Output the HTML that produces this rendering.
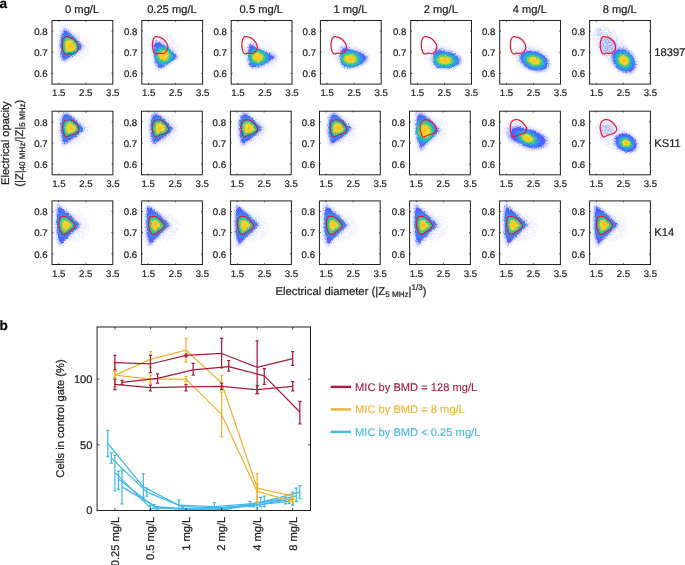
<!DOCTYPE html>
<html lang="en"><head><meta charset="utf-8"><title>Figure</title>
<style>html,body{margin:0;padding:0;background:#fff}svg{display:block}</style></head>
<body>
<svg width="685" height="565" viewBox="0 0 685 565" font-family='"Liberation Sans", sans-serif' stroke-linecap="butt">
<style>text{stroke:#231f20;stroke-width:0.24px;paint-order:stroke;text-rendering:geometricPrecision}</style>
<defs><filter id="bl" x="-30%" y="-30%" width="160%" height="160%"><feGaussianBlur stdDeviation="0.75"/></filter>
<filter id="bl2" x="-30%" y="-30%" width="160%" height="160%"><feGaussianBlur stdDeviation="1.4"/></filter>
<filter id="ro" x="-20%" y="-20%" width="140%" height="140%"><feTurbulence type="fractalNoise" baseFrequency="0.55" numOctaves="2" seed="3" result="n"/><feDisplacementMap in="SourceGraphic" in2="n" scale="3.2" xChannelSelector="R" yChannelSelector="G"/><feGaussianBlur stdDeviation="0.55"/></filter>
<filter id="sp" x="-30%" y="-30%" width="160%" height="160%"><feTurbulence type="fractalNoise" baseFrequency="0.6" numOctaves="3" seed="7" result="n"/><feColorMatrix in="n" type="matrix" values="0 0 0 0 0  0 0 0 0 0  0 0 0 0 0  3.6 0 0 0 -1.35" result="m"/><feGaussianBlur in="SourceGraphic" stdDeviation="1.5" result="b"/><feComposite in="b" in2="m" operator="in"/><feGaussianBlur stdDeviation="0.5"/></filter>
<filter id="ro2" x="-20%" y="-20%" width="140%" height="140%"><feTurbulence type="fractalNoise" baseFrequency="0.7" numOctaves="2" seed="11" result="n"/><feDisplacementMap in="SourceGraphic" in2="n" scale="5" xChannelSelector="R" yChannelSelector="G"/><feGaussianBlur stdDeviation="0.6"/></filter></defs>
<rect width="685" height="565" fill="#fff"/>
<text x="-0.5" y="8.3" font-size="13.6" font-weight="bold" fill="#000">a</text>
<text x="-0.5" y="329.7" font-size="13.6" font-weight="bold" fill="#000">b</text>
<g>
<clipPath id="cp00"><rect x="52.0" y="20.5" width="60.8" height="63.6"/></clipPath>
<g clip-path="url(#cp00)">
<path d="M90.00 46.50C90.00 48.83 89.19 51.48 87.86 53.50C86.52 55.52 84.31 57.46 82.00 58.62C79.69 59.79 76.67 60.50 74.00 60.50C71.33 60.50 68.31 59.79 66.00 58.62C63.69 57.46 61.48 55.52 60.14 53.50C58.81 51.48 58.00 48.83 58.00 46.50C58.00 44.17 58.81 41.52 60.14 39.50C61.48 37.48 63.69 35.54 66.00 34.38C68.31 33.21 71.33 32.50 74.00 32.50C76.67 32.50 79.69 33.21 82.00 34.38C84.31 35.54 86.52 37.48 87.86 39.50C89.19 41.52 90.00 44.17 90.00 46.50Z" fill="#b8bcff" fill-opacity="0.28" filter="url(#sp)"/>
<path d="M64.72 26.58C66.12 26.88 68.02 28.82 69.88 30.42C71.74 32.02 73.98 34.22 75.88 36.18C77.78 38.14 79.90 40.44 81.28 42.18C82.66 43.92 84.26 45.08 84.16 46.62C84.06 48.16 82.26 49.82 80.68 51.42C79.10 53.02 76.88 54.62 74.68 56.22C72.48 57.82 69.48 59.86 67.48 61.02C65.48 62.18 63.98 63.58 62.68 63.18C61.38 62.78 60.36 60.58 59.68 58.62C59.00 56.66 58.82 54.22 58.60 51.42C58.38 48.62 58.24 44.82 58.36 41.82C58.48 38.82 58.80 35.62 59.32 33.42C59.84 31.22 60.58 29.76 61.48 28.62C62.38 27.48 63.32 26.28 64.72 26.58Z" fill="#a9adff" fill-opacity="0.40" filter="url(#bl2)"/><path d="M65.36 28.67C66.61 28.94 68.30 30.67 69.96 32.10C71.62 33.52 73.61 35.49 75.31 37.23C77.00 38.98 78.89 41.03 80.12 42.58C81.35 44.13 82.78 45.17 82.69 46.54C82.60 47.92 81.00 49.40 79.59 50.82C78.18 52.25 76.20 53.68 74.24 55.10C72.28 56.53 69.60 58.35 67.82 59.38C66.03 60.42 64.70 61.66 63.54 61.31C62.38 60.95 61.47 58.99 60.86 57.24C60.26 55.49 60.10 53.32 59.90 50.82C59.70 48.33 59.58 44.94 59.69 42.26C59.79 39.59 60.08 36.73 60.54 34.77C61.01 32.81 61.67 31.51 62.47 30.49C63.27 29.48 64.11 28.41 65.36 28.67Z" fill="#8c94ff" fill-opacity="0.60" filter="url(#ro2)"/><g filter="url(#ro)" opacity="1.00"><clipPath id="k0"><path d="M65.94 30.61C67.05 30.84 68.56 32.38 70.03 33.65C71.50 34.91 73.28 36.65 74.78 38.20C76.28 39.76 77.96 41.58 79.05 42.95C80.15 44.33 81.41 45.25 81.33 46.47C81.26 47.69 79.83 49.00 78.58 50.27C77.33 51.54 75.57 52.80 73.83 54.07C72.09 55.34 69.71 56.95 68.13 57.87C66.55 58.79 65.36 59.90 64.33 59.58C63.30 59.26 62.49 57.52 61.95 55.97C61.42 54.42 61.27 52.49 61.10 50.27C60.93 48.05 60.81 45.05 60.91 42.67C61.00 40.30 61.26 37.76 61.67 36.02C62.08 34.28 62.67 33.12 63.38 32.22C64.09 31.32 64.84 30.37 65.94 30.61Z"/></clipPath><path d="M65.94 30.61C67.05 30.84 68.56 32.38 70.03 33.65C71.50 34.91 73.28 36.65 74.78 38.20C76.28 39.76 77.96 41.58 79.05 42.95C80.15 44.33 81.41 45.25 81.33 46.47C81.26 47.69 79.83 49.00 78.58 50.27C77.33 51.54 75.57 52.80 73.83 54.07C72.09 55.34 69.71 56.95 68.13 57.87C66.55 58.79 65.36 59.90 64.33 59.58C63.30 59.26 62.49 57.52 61.95 55.97C61.42 54.42 61.27 52.49 61.10 50.27C60.93 48.05 60.81 45.05 60.91 42.67C61.00 40.30 61.26 37.76 61.67 36.02C62.08 34.28 62.67 33.12 63.38 32.22C64.09 31.32 64.84 30.37 65.94 30.61Z" fill="#5062ff"/><g clip-path="url(#k0)"><path d="M64.17 33.25C65.51 33.05 67.54 33.43 69.36 34.05C71.17 34.68 73.33 35.61 75.06 37.00C76.79 38.38 78.67 40.67 79.73 42.35C80.79 44.02 81.33 45.36 81.41 47.03C81.50 48.70 81.00 50.88 80.25 52.38C79.49 53.87 78.30 55.30 76.87 55.99C75.45 56.68 73.14 56.46 71.69 56.52C70.24 56.59 69.33 56.23 68.19 56.39C67.04 56.55 65.88 57.53 64.82 57.46C63.76 57.39 62.66 57.13 61.84 55.99C61.02 54.85 60.32 52.31 59.89 50.64C59.46 48.97 59.24 47.92 59.24 45.96C59.24 44.00 59.55 40.65 59.89 38.87C60.24 37.09 60.61 36.19 61.32 35.26C62.03 34.32 62.83 33.45 64.17 33.25Z" fill="#4672fb"/><path d="M64.93 34.74C66.11 34.56 67.90 34.90 69.50 35.45C71.10 36.00 73.01 36.82 74.54 38.04C76.06 39.26 77.72 41.29 78.65 42.76C79.59 44.24 80.06 45.42 80.14 46.90C80.22 48.37 79.78 50.30 79.11 51.62C78.44 52.93 77.39 54.19 76.14 54.80C74.88 55.41 72.84 55.21 71.56 55.27C70.28 55.33 69.48 55.02 68.47 55.16C67.46 55.29 66.43 56.16 65.50 56.10C64.56 56.04 63.59 55.80 62.87 54.80C62.14 53.80 61.53 51.56 61.15 50.08C60.77 48.61 60.58 47.68 60.58 45.95C60.58 44.22 60.85 41.27 61.15 39.70C61.46 38.12 61.78 37.34 62.41 36.51C63.04 35.68 63.74 34.92 64.93 34.74Z" fill="#3a88f4"/><path d="M65.54 35.95C66.60 35.79 68.19 36.09 69.62 36.58C71.05 37.07 72.75 37.81 74.11 38.90C75.47 39.98 76.95 41.79 77.78 43.10C78.61 44.42 79.04 45.47 79.11 46.79C79.17 48.10 78.78 49.82 78.19 51.00C77.59 52.17 76.66 53.29 75.54 53.84C74.41 54.38 72.60 54.21 71.46 54.26C70.32 54.31 69.60 54.03 68.70 54.15C67.80 54.28 66.88 55.05 66.05 54.99C65.22 54.94 64.35 54.73 63.71 53.84C63.06 52.94 62.52 50.94 62.18 49.63C61.84 48.31 61.67 47.49 61.67 45.95C61.67 44.40 61.90 41.77 62.18 40.37C62.45 38.97 62.74 38.26 63.30 37.53C63.86 36.79 64.49 36.11 65.54 35.95Z" fill="#2d9ce8"/></g><path d="M66.06 36.97C67.01 36.83 68.44 37.10 69.72 37.54C71.00 37.98 72.53 38.64 73.75 39.62C74.97 40.59 76.30 42.21 77.04 43.39C77.79 44.57 78.17 45.52 78.23 46.70C78.29 47.88 77.94 49.42 77.41 50.47C76.87 51.53 76.04 52.53 75.03 53.02C74.02 53.51 72.39 53.35 71.37 53.40C70.35 53.45 69.71 53.19 68.90 53.30C68.09 53.41 67.27 54.11 66.52 54.06C65.77 54.01 64.99 53.82 64.41 53.02C63.83 52.22 63.35 50.43 63.04 49.25C62.74 48.07 62.58 47.33 62.58 45.94C62.58 44.56 62.80 42.20 63.04 40.94C63.29 39.68 63.54 39.05 64.05 38.39C64.55 37.73 65.12 37.11 66.06 36.97Z" fill="#24acd4"/><path d="M66.44 37.72C67.31 37.59 68.62 37.83 69.79 38.24C70.97 38.64 72.37 39.24 73.49 40.14C74.60 41.03 75.82 42.52 76.51 43.60C77.19 44.68 77.54 45.55 77.60 46.63C77.65 47.71 77.33 49.13 76.84 50.09C76.35 51.06 75.58 51.98 74.66 52.43C73.74 52.88 72.24 52.73 71.30 52.77C70.37 52.82 69.78 52.59 69.04 52.69C68.30 52.79 67.54 53.42 66.86 53.38C66.17 53.34 65.46 53.16 64.93 52.43C64.40 51.69 63.95 50.05 63.67 48.97C63.39 47.88 63.25 47.21 63.25 45.94C63.25 44.67 63.45 42.50 63.67 41.35C63.90 40.20 64.13 39.62 64.59 39.01C65.06 38.41 65.57 37.85 66.44 37.72Z" fill="#25bcb0"/><path d="M66.82 38.46C67.61 38.34 68.80 38.56 69.87 38.93C70.94 39.30 72.21 39.85 73.22 40.66C74.24 41.48 75.35 42.83 75.97 43.81C76.59 44.79 76.91 45.58 76.96 46.56C77.01 47.55 76.72 48.83 76.27 49.71C75.83 50.59 75.13 51.43 74.29 51.83C73.45 52.24 72.09 52.11 71.24 52.15C70.39 52.19 69.86 51.98 69.18 52.07C68.51 52.16 67.82 52.74 67.20 52.70C66.58 52.66 65.93 52.50 65.45 51.83C64.96 51.17 64.56 49.67 64.30 48.69C64.05 47.70 63.92 47.09 63.92 45.93C63.92 44.78 64.10 42.81 64.30 41.76C64.50 40.72 64.72 40.19 65.14 39.64C65.56 39.09 66.03 38.58 66.82 38.46Z" fill="#52c688"/><path d="M67.24 39.30C67.94 39.19 69.00 39.39 69.95 39.72C70.90 40.04 72.03 40.53 72.93 41.25C73.83 41.97 74.81 43.17 75.36 44.04C75.92 44.92 76.20 45.62 76.24 46.49C76.29 47.36 76.03 48.50 75.64 49.28C75.24 50.06 74.62 50.81 73.88 51.17C73.13 51.53 71.92 51.41 71.17 51.45C70.41 51.48 69.94 51.29 69.34 51.38C68.74 51.46 68.13 51.97 67.58 51.94C67.03 51.90 66.45 51.76 66.03 51.17C65.60 50.57 65.24 49.25 65.01 48.37C64.78 47.50 64.67 46.95 64.67 45.93C64.67 44.91 64.83 43.16 65.01 42.23C65.19 41.30 65.38 40.83 65.75 40.34C66.13 39.86 66.54 39.40 67.24 39.30Z" fill="#a5cf48"/><path d="M67.67 40.13C68.28 40.04 69.21 40.22 70.03 40.50C70.86 40.78 71.85 41.21 72.63 41.84C73.42 42.47 74.28 43.52 74.76 44.28C75.24 45.04 75.49 45.65 75.53 46.41C75.57 47.18 75.34 48.17 75.00 48.85C74.65 49.53 74.11 50.18 73.46 50.50C72.81 50.81 71.76 50.71 71.10 50.74C70.44 50.77 70.02 50.61 69.50 50.68C68.98 50.75 68.45 51.20 67.96 51.17C67.48 51.14 66.98 51.02 66.60 50.50C66.23 49.98 65.92 48.82 65.72 48.06C65.52 47.30 65.42 46.82 65.42 45.93C65.42 45.03 65.56 43.51 65.72 42.69C65.88 41.88 66.04 41.48 66.37 41.05C66.69 40.62 67.06 40.23 67.67 40.13Z" fill="#ecd42a"/><path d="M68.33 41.44C68.80 41.37 69.52 41.50 70.16 41.72C70.80 41.94 71.56 42.27 72.17 42.76C72.78 43.25 73.45 44.06 73.82 44.65C74.19 45.24 74.39 45.71 74.42 46.30C74.45 46.89 74.27 47.66 74.00 48.19C73.74 48.71 73.32 49.22 72.81 49.46C72.31 49.70 71.50 49.63 70.98 49.65C70.47 49.67 70.15 49.55 69.75 49.60C69.34 49.66 68.93 50.00 68.56 49.98C68.19 49.96 67.80 49.86 67.51 49.46C67.22 49.06 66.97 48.16 66.82 47.57C66.67 46.98 66.59 46.61 66.59 45.92C66.59 45.23 66.70 44.05 66.82 43.42C66.94 42.79 67.07 42.47 67.32 42.14C67.58 41.81 67.86 41.51 68.33 41.44Z" fill="#fdd227"/><path d="M69.42 43.58C69.66 43.54 70.04 43.61 70.37 43.72C70.70 43.84 71.10 44.01 71.42 44.26C71.74 44.52 72.08 44.94 72.28 45.25C72.47 45.55 72.57 45.80 72.59 46.11C72.60 46.41 72.51 46.82 72.37 47.09C72.23 47.37 72.02 47.63 71.75 47.75C71.49 47.88 71.07 47.84 70.80 47.85C70.53 47.87 70.37 47.80 70.16 47.83C69.95 47.86 69.73 48.04 69.54 48.02C69.34 48.01 69.14 47.96 68.99 47.75C68.84 47.55 68.71 47.08 68.63 46.77C68.55 46.46 68.51 46.27 68.51 45.91C68.51 45.55 68.57 44.94 68.63 44.61C68.70 44.28 68.76 44.12 68.89 43.94C69.02 43.77 69.17 43.61 69.42 43.58Z" fill="#ffbc2d"/></g>
</g>
<path d="M65.87 36.60C66.86 36.45 68.35 36.73 69.69 37.19C71.02 37.65 72.61 38.34 73.88 39.35C75.15 40.37 76.53 42.06 77.31 43.29C78.09 44.52 78.49 45.50 78.55 46.73C78.61 47.96 78.25 49.56 77.69 50.66C77.14 51.76 76.26 52.81 75.21 53.32C74.17 53.83 72.47 53.66 71.40 53.71C70.34 53.76 69.67 53.50 68.83 53.61C67.99 53.73 67.13 54.45 66.35 54.40C65.57 54.35 64.76 54.15 64.16 53.32C63.55 52.48 63.04 50.61 62.73 49.38C62.41 48.16 62.25 47.38 62.25 45.94C62.25 44.50 62.47 42.04 62.73 40.73C62.98 39.42 63.25 38.76 63.78 38.08C64.30 37.39 64.89 36.75 65.87 36.60Z" fill="none" stroke="#c61f38" stroke-width="1.05"/>
<rect x="52.0" y="20.5" width="60.8" height="63.6" fill="none" stroke="#231f20" stroke-width="1"/>
<text x="58.8" y="96.4" font-size="9.65" text-anchor="middle" fill="#231f20">1.5</text>
<text x="85.8" y="96.4" font-size="9.65" text-anchor="middle" fill="#231f20">2.5</text>
<text x="112.8" y="96.4" font-size="9.65" text-anchor="middle" fill="#231f20">3.5</text>
<text x="47.6" y="34.8" font-size="9.65" text-anchor="end" fill="#231f20">0.8</text>
<text x="47.6" y="56.0" font-size="9.65" text-anchor="end" fill="#231f20">0.7</text>
<text x="47.6" y="77.2" font-size="9.65" text-anchor="end" fill="#231f20">0.6</text>
<path d="M58.76 84.10v-1.3M58.76 20.50v1.3M85.78 84.10v-1.3M85.78 20.50v1.3M52.00 31.10h1.3M112.80 31.10h-1.3M52.00 52.30h1.3M112.80 52.30h-1.3M52.00 73.50h1.3M112.80 73.50h-1.3" stroke="#231f20" stroke-width="0.8" fill="none"/>
<text x="82.1" y="12.9" font-size="11.15" text-anchor="middle" fill="#231f20">0 mg/L</text>
</g>
<g>
<clipPath id="cp01"><rect x="141.8" y="20.5" width="60.8" height="63.6"/></clipPath>
<g clip-path="url(#cp01)">
<path d="M179.80 46.50C179.80 48.83 178.99 51.48 177.66 53.50C176.32 55.52 174.11 57.46 171.80 58.62C169.49 59.79 166.47 60.50 163.80 60.50C161.13 60.50 158.11 59.79 155.80 58.62C153.49 57.46 151.28 55.52 149.94 53.50C148.61 51.48 147.80 48.83 147.80 46.50C147.80 44.17 148.61 41.52 149.94 39.50C151.28 37.48 153.49 35.54 155.80 34.38C158.11 33.21 161.13 32.50 163.80 32.50C166.47 32.50 169.49 33.21 171.80 34.38C174.11 35.54 176.32 37.48 177.66 39.50C178.99 41.52 179.80 44.17 179.80 46.50Z" fill="#b8bcff" fill-opacity="0.28" filter="url(#sp)"/>
<path d="M155.76 39.30C157.04 39.20 158.46 39.70 160.20 40.50C161.94 41.30 164.00 42.50 166.20 44.10C168.40 45.70 171.16 47.94 173.40 50.10C175.64 52.26 179.44 55.16 179.64 57.06C179.84 58.96 176.64 59.96 174.60 61.50C172.56 63.04 170.00 64.80 167.40 66.30C164.80 67.80 161.10 70.50 159.00 70.50C156.90 70.50 155.84 68.20 154.80 66.30C153.76 64.40 153.22 61.90 152.76 59.10C152.30 56.30 152.08 52.50 152.04 49.50C152.00 46.50 151.90 42.80 152.52 41.10C153.14 39.40 154.48 39.40 155.76 39.30Z" fill="#a9adff" fill-opacity="0.40" filter="url(#bl2)"/><path d="M156.63 41.05C157.77 40.97 159.04 41.41 160.59 42.12C162.14 42.84 163.98 43.91 165.94 45.34C167.90 46.76 170.36 48.76 172.36 50.69C174.36 52.61 177.75 55.20 177.92 56.89C178.10 58.59 175.25 59.48 173.43 60.85C171.61 62.22 169.33 63.79 167.01 65.13C164.69 66.47 161.39 68.88 159.52 68.88C157.65 68.88 156.70 66.82 155.78 65.13C154.85 63.44 154.37 61.21 153.96 58.71C153.55 56.21 153.35 52.83 153.31 50.15C153.28 47.47 153.19 44.18 153.74 42.66C154.29 41.14 155.49 41.14 156.63 41.05Z" fill="#8c94ff" fill-opacity="0.60" filter="url(#ro2)"/><g filter="url(#ro)" opacity="1.00"><clipPath id="k1"><path d="M157.44 42.67C158.45 42.60 159.57 42.99 160.95 43.62C162.33 44.26 163.96 45.21 165.70 46.48C167.44 47.74 169.63 49.52 171.40 51.23C173.17 52.94 176.18 55.23 176.34 56.73C176.50 58.24 173.97 59.03 172.35 60.25C170.74 61.47 168.71 62.86 166.65 64.05C164.59 65.24 161.66 67.38 160.00 67.38C158.34 67.38 157.50 65.55 156.68 64.05C155.85 62.55 155.42 60.57 155.06 58.35C154.70 56.13 154.52 53.12 154.49 50.75C154.46 48.38 154.38 45.45 154.87 44.10C155.36 42.75 156.42 42.75 157.44 42.67Z"/></clipPath><path d="M157.44 42.67C158.45 42.60 159.57 42.99 160.95 43.62C162.33 44.26 163.96 45.21 165.70 46.48C167.44 47.74 169.63 49.52 171.40 51.23C173.17 52.94 176.18 55.23 176.34 56.73C176.50 58.24 173.97 59.03 172.35 60.25C170.74 61.47 168.71 62.86 166.65 64.05C164.59 65.24 161.66 67.38 160.00 67.38C158.34 67.38 157.50 65.55 156.68 64.05C155.85 62.55 155.42 60.57 155.06 58.35C154.70 56.13 154.52 53.12 154.49 50.75C154.46 48.38 154.38 45.45 154.87 44.10C155.36 42.75 156.42 42.75 157.44 42.67Z" fill="#5062ff"/><g clip-path="url(#k1)"><path d="M175.50 55.50C175.50 57.36 174.90 59.47 173.93 61.08C172.95 62.69 171.34 64.23 169.65 65.16C167.96 66.09 165.75 66.65 163.80 66.65C161.85 66.65 159.64 66.09 157.95 65.16C156.26 64.23 154.65 62.69 153.67 61.08C152.70 59.47 152.10 57.36 152.10 55.50C152.10 53.64 152.70 51.53 153.67 49.92C154.65 48.31 156.26 46.77 157.95 45.84C159.64 44.91 161.85 44.35 163.80 44.35C165.75 44.35 167.96 44.91 169.65 45.84C171.34 46.77 172.95 48.31 173.93 49.92C174.90 51.53 175.50 53.64 175.50 55.50Z" fill="#4672fb"/><path d="M174.46 55.50C174.46 57.19 173.92 59.12 173.04 60.58C172.15 62.05 170.67 63.46 169.13 64.31C167.59 65.15 165.58 65.67 163.80 65.67C162.02 65.67 160.01 65.15 158.47 64.31C156.93 63.46 155.45 62.05 154.56 60.58C153.68 59.12 153.14 57.19 153.14 55.50C153.14 53.81 153.68 51.88 154.56 50.42C155.45 48.95 156.93 47.54 158.47 46.69C160.01 45.85 162.02 45.33 163.80 45.33C165.58 45.33 167.59 45.85 169.13 46.69C170.67 47.54 172.15 48.95 173.04 50.42C173.92 51.88 174.46 53.81 174.46 55.50Z" fill="#3a88f4"/><path d="M173.52 55.50C173.52 57.04 173.03 58.80 172.22 60.13C171.41 61.47 170.06 62.75 168.66 63.52C167.26 64.30 165.42 64.77 163.80 64.77C162.18 64.77 160.34 64.30 158.94 63.52C157.54 62.75 156.19 61.47 155.38 60.13C154.57 58.80 154.08 57.04 154.08 55.50C154.08 53.96 154.57 52.20 155.38 50.87C156.19 49.53 157.54 48.25 158.94 47.48C160.34 46.70 162.18 46.23 163.80 46.23C165.42 46.23 167.26 46.70 168.66 47.48C170.06 48.25 171.41 49.53 172.22 50.87C173.03 52.20 173.52 53.96 173.52 55.50Z" fill="#2d9ce8"/></g><path d="M172.66 55.50C172.66 56.91 172.21 58.50 171.47 59.72C170.73 60.94 169.51 62.11 168.23 62.81C166.95 63.52 165.28 63.95 163.80 63.95C162.32 63.95 160.65 63.52 159.37 62.81C158.09 62.11 156.87 60.94 156.13 59.72C155.39 58.50 154.94 56.91 154.94 55.50C154.94 54.09 155.39 52.50 156.13 51.28C156.87 50.06 158.09 48.89 159.37 48.19C160.65 47.48 162.32 47.05 163.80 47.05C165.28 47.05 166.95 47.48 168.23 48.19C169.51 48.89 170.73 50.06 171.47 51.28C172.21 52.50 172.66 54.09 172.66 55.50Z" fill="#24acd4"/><path d="M171.71 55.50C171.71 56.76 171.31 58.18 170.65 59.27C169.99 60.36 168.90 61.40 167.76 62.03C166.61 62.66 165.12 63.04 163.80 63.04C162.48 63.04 160.99 62.66 159.84 62.03C158.70 61.40 157.61 60.36 156.95 59.27C156.29 58.18 155.89 56.76 155.89 55.50C155.89 54.24 156.29 52.82 156.95 51.73C157.61 50.64 158.70 49.60 159.84 48.97C160.99 48.34 162.48 47.96 163.80 47.96C165.12 47.96 166.61 48.34 167.76 48.97C168.90 49.60 169.99 50.64 170.65 51.73C171.31 52.82 171.71 54.24 171.71 55.50Z" fill="#25bcb0"/><path d="M170.68 55.50C170.68 56.59 170.33 57.83 169.76 58.78C169.18 59.73 168.23 60.63 167.24 61.18C166.25 61.73 164.95 62.06 163.80 62.06C162.65 62.06 161.35 61.73 160.36 61.18C159.37 60.63 158.42 59.73 157.84 58.78C157.27 57.83 156.92 56.59 156.92 55.50C156.92 54.41 157.27 53.17 157.84 52.22C158.42 51.27 159.37 50.37 160.36 49.82C161.35 49.27 162.65 48.94 163.80 48.94C164.95 48.94 166.25 49.27 167.24 49.82C168.23 50.37 169.18 51.27 169.76 52.22C170.33 53.17 170.68 54.41 170.68 55.50Z" fill="#52c688"/><path d="M169.48 55.50C169.48 56.40 169.19 57.42 168.72 58.21C168.24 58.99 167.46 59.74 166.64 60.19C165.82 60.64 164.75 60.91 163.80 60.91C162.85 60.91 161.78 60.64 160.96 60.19C160.14 59.74 159.36 58.99 158.88 58.21C158.41 57.42 158.12 56.40 158.12 55.50C158.12 54.60 158.41 53.58 158.88 52.79C159.36 52.01 160.14 51.26 160.96 50.81C161.78 50.36 162.85 50.09 163.80 50.09C164.75 50.09 165.82 50.36 166.64 50.81C167.46 51.26 168.24 52.01 168.72 52.79C169.19 53.58 169.48 54.60 169.48 55.50Z" fill="#a5cf48"/><path d="M168.36 55.50C168.36 56.22 168.13 57.05 167.75 57.67C167.37 58.30 166.74 58.90 166.08 59.26C165.42 59.63 164.56 59.85 163.80 59.85C163.04 59.85 162.18 59.63 161.52 59.26C160.86 58.90 160.23 58.30 159.85 57.67C159.47 57.05 159.24 56.22 159.24 55.50C159.24 54.78 159.47 53.95 159.85 53.33C160.23 52.70 160.86 52.10 161.52 51.74C162.18 51.37 163.04 51.15 163.80 51.15C164.56 51.15 165.42 51.37 166.08 51.74C166.74 52.10 167.37 52.70 167.75 53.33C168.13 53.95 168.36 54.78 168.36 55.50Z" fill="#ecd42a"/><path d="M167.24 55.50C167.24 56.05 167.07 56.67 166.78 57.14C166.49 57.61 166.02 58.07 165.52 58.34C165.02 58.61 164.37 58.78 163.80 58.78C163.23 58.78 162.58 58.61 162.08 58.34C161.58 58.07 161.11 57.61 160.82 57.14C160.53 56.67 160.36 56.05 160.36 55.50C160.36 54.95 160.53 54.33 160.82 53.86C161.11 53.39 161.58 52.93 162.08 52.66C162.58 52.39 163.23 52.22 163.80 52.22C164.37 52.22 165.02 52.39 165.52 52.66C166.02 52.93 166.49 53.39 166.78 53.86C167.07 54.33 167.24 54.95 167.24 55.50Z" fill="#fdd227"/><path d="M165.43 55.50C165.43 55.76 165.35 56.05 165.22 56.28C165.08 56.50 164.85 56.72 164.62 56.85C164.38 56.98 164.07 57.06 163.80 57.06C163.53 57.06 163.22 56.98 162.98 56.85C162.75 56.72 162.52 56.50 162.38 56.28C162.25 56.05 162.17 55.76 162.17 55.50C162.17 55.24 162.25 54.95 162.38 54.72C162.52 54.50 162.75 54.28 162.98 54.15C163.22 54.02 163.53 53.94 163.80 53.94C164.07 53.94 164.38 54.02 164.62 54.15C164.85 54.28 165.08 54.50 165.22 54.72C165.35 54.95 165.43 55.24 165.43 55.50Z" fill="#ffbc2d"/></g>
</g>
<path d="M155.87 36.60C156.80 36.46 158.21 36.73 159.47 37.18C160.74 37.63 162.24 38.30 163.44 39.29C164.64 40.29 165.94 41.94 166.68 43.14C167.41 44.34 167.79 45.30 167.85 46.50C167.91 47.70 167.56 49.27 167.04 50.35C166.51 51.42 165.69 52.45 164.70 52.94C163.71 53.44 162.10 53.28 161.10 53.33C160.09 53.38 159.46 53.12 158.66 53.23C157.87 53.34 157.06 54.05 156.32 54.00C155.59 53.95 154.82 53.76 154.25 52.94C153.68 52.13 153.20 50.30 152.90 49.10C152.60 47.90 152.45 47.14 152.45 45.73C152.45 44.32 152.66 41.92 152.90 40.64C153.14 39.36 153.40 38.71 153.89 38.04C154.39 37.37 154.94 36.74 155.87 36.60Z" fill="none" stroke="#ee1c2e" stroke-width="1.25"/>
<rect x="141.8" y="20.5" width="60.8" height="63.6" fill="none" stroke="#231f20" stroke-width="1"/>
<text x="148.6" y="96.4" font-size="9.65" text-anchor="middle" fill="#231f20">1.5</text>
<text x="175.6" y="96.4" font-size="9.65" text-anchor="middle" fill="#231f20">2.5</text>
<text x="202.6" y="96.4" font-size="9.65" text-anchor="middle" fill="#231f20">3.5</text>
<text x="137.4" y="34.8" font-size="9.65" text-anchor="end" fill="#231f20">0.8</text>
<text x="137.4" y="56.0" font-size="9.65" text-anchor="end" fill="#231f20">0.7</text>
<text x="137.4" y="77.2" font-size="9.65" text-anchor="end" fill="#231f20">0.6</text>
<path d="M148.56 84.10v-1.3M148.56 20.50v1.3M175.58 84.10v-1.3M175.58 20.50v1.3M141.80 31.10h1.3M202.60 31.10h-1.3M141.80 52.30h1.3M202.60 52.30h-1.3M141.80 73.50h1.3M202.60 73.50h-1.3" stroke="#231f20" stroke-width="0.8" fill="none"/>
<text x="171.9" y="12.9" font-size="11.15" text-anchor="middle" fill="#231f20">0.25 mg/L</text>
</g>
<g>
<clipPath id="cp02"><rect x="231.2" y="20.5" width="60.8" height="63.6"/></clipPath>
<g clip-path="url(#cp02)">
<path d="M278.59 61.16C278.07 63.09 276.60 65.05 274.70 66.33C272.81 67.61 269.97 68.57 267.20 68.87C264.44 69.16 260.99 68.87 258.09 68.09C255.20 67.31 252.07 65.85 249.82 64.21C247.57 62.57 245.59 60.32 244.59 58.26C243.59 56.20 243.30 53.77 243.81 51.84C244.33 49.91 245.80 47.95 247.70 46.67C249.59 45.39 252.43 44.43 255.20 44.13C257.96 43.84 261.41 44.13 264.31 44.91C267.20 45.69 270.33 47.15 272.58 48.79C274.83 50.43 276.81 52.68 277.81 54.74C278.81 56.80 279.10 59.23 278.59 61.16Z" fill="#b0b6ff" fill-opacity="0.30" filter="url(#sp)"/>
<path d="M250.60 41.98C252.00 42.18 253.80 44.38 255.88 45.58C257.96 46.78 260.48 47.98 263.08 49.18C265.68 50.38 269.00 51.46 271.48 52.78C273.96 54.10 277.96 55.50 277.96 57.10C277.96 58.70 273.96 60.70 271.48 62.38C269.00 64.06 266.28 65.98 263.08 67.18C259.88 68.38 254.78 69.78 252.28 69.58C249.78 69.38 249.04 67.78 248.08 65.98C247.12 64.18 246.82 61.38 246.52 58.78C246.22 56.18 246.12 52.78 246.28 50.38C246.44 47.98 246.76 45.78 247.48 44.38C248.20 42.98 249.20 41.78 250.60 41.98Z" fill="#a9adff" fill-opacity="0.40" filter="url(#bl2)"/><path d="M251.38 43.62C252.63 43.80 254.23 45.76 256.09 46.83C257.94 47.90 260.19 48.97 262.51 50.04C264.83 51.11 267.79 52.07 270.00 53.25C272.21 54.42 275.78 55.67 275.78 57.10C275.78 58.53 272.21 60.31 270.00 61.81C267.79 63.31 265.36 65.02 262.51 66.09C259.65 67.16 255.11 68.41 252.88 68.23C250.65 68.05 249.99 66.62 249.13 65.02C248.28 63.41 248.01 60.92 247.74 58.60C247.47 56.28 247.39 53.25 247.53 51.11C247.67 48.97 247.96 47.01 248.60 45.76C249.24 44.51 250.13 43.44 251.38 43.62Z" fill="#8c94ff" fill-opacity="0.60" filter="url(#ro2)"/><g filter="url(#ro)" opacity="1.00"><clipPath id="k2"><path d="M252.10 45.13C253.21 45.29 254.63 47.03 256.28 47.98C257.93 48.93 259.92 49.88 261.98 50.83C264.04 51.78 266.67 52.63 268.63 53.68C270.59 54.73 273.76 55.83 273.76 57.10C273.76 58.37 270.59 59.95 268.63 61.28C266.67 62.61 264.51 64.13 261.98 65.08C259.45 66.03 255.41 67.14 253.43 66.98C251.45 66.82 250.87 65.55 250.11 64.13C249.35 62.70 249.11 60.49 248.87 58.43C248.63 56.37 248.55 53.68 248.68 51.78C248.81 49.88 249.06 48.14 249.63 47.03C250.20 45.92 250.99 44.97 252.10 45.13Z"/></clipPath><path d="M252.10 45.13C253.21 45.29 254.63 47.03 256.28 47.98C257.93 48.93 259.92 49.88 261.98 50.83C264.04 51.78 266.67 52.63 268.63 53.68C270.59 54.73 273.76 55.83 273.76 57.10C273.76 58.37 270.59 59.95 268.63 61.28C266.67 62.61 264.51 64.13 261.98 65.08C259.45 66.03 255.41 67.14 253.43 66.98C251.45 66.82 250.87 65.55 250.11 64.13C249.35 62.70 249.11 60.49 248.87 58.43C248.63 56.37 248.55 53.68 248.68 51.78C248.81 49.88 249.06 48.14 249.63 47.03C250.20 45.92 250.99 44.97 252.10 45.13Z" fill="#5062ff"/><g clip-path="url(#k2)"><path d="M269.99 58.17C269.85 59.84 269.06 61.68 267.92 63.04C266.78 64.39 264.97 65.63 263.14 66.32C261.30 67.00 258.96 67.30 256.92 67.13C254.89 66.95 252.63 66.24 250.94 65.25C249.26 64.26 247.69 62.72 246.80 61.19C245.91 59.65 245.46 57.70 245.61 56.03C245.75 54.36 246.54 52.52 247.68 51.16C248.82 49.81 250.63 48.57 252.46 47.88C254.30 47.20 256.64 46.90 258.68 47.07C260.71 47.25 262.97 47.96 264.66 48.95C266.34 49.94 267.91 51.48 268.80 53.01C269.69 54.55 270.14 56.50 269.99 58.17Z" fill="#4672fb"/><path d="M268.92 58.07C268.78 59.60 268.07 61.27 267.03 62.51C265.99 63.75 264.34 64.88 262.67 65.50C260.99 66.12 258.85 66.40 257.00 66.24C255.15 66.08 253.09 65.43 251.55 64.53C250.01 63.63 248.58 62.23 247.77 60.83C246.96 59.43 246.55 57.65 246.68 56.13C246.82 54.60 247.53 52.93 248.57 51.69C249.61 50.45 251.26 49.32 252.93 48.70C254.61 48.08 256.75 47.80 258.60 47.96C260.45 48.12 262.51 48.77 264.05 49.67C265.59 50.57 267.02 51.97 267.83 53.37C268.64 54.77 269.05 56.55 268.92 58.07Z" fill="#3a88f4"/><path d="M267.93 57.99C267.81 59.37 267.16 60.90 266.21 62.03C265.26 63.16 263.76 64.19 262.23 64.76C260.71 65.32 258.76 65.58 257.07 65.43C255.38 65.28 253.50 64.69 252.10 63.87C250.70 63.05 249.40 61.77 248.66 60.50C247.92 59.22 247.55 57.60 247.67 56.21C247.79 54.83 248.44 53.30 249.39 52.17C250.34 51.04 251.84 50.01 253.37 49.44C254.89 48.88 256.84 48.62 258.53 48.77C260.22 48.92 262.10 49.51 263.50 50.33C264.90 51.15 266.20 52.43 266.94 53.70C267.68 54.98 268.05 56.60 267.93 57.99Z" fill="#2d9ce8"/></g><path d="M267.03 57.91C266.92 59.17 266.33 60.57 265.47 61.60C264.60 62.62 263.23 63.56 261.84 64.08C260.45 64.60 258.67 64.83 257.14 64.69C255.60 64.56 253.88 64.02 252.61 63.27C251.33 62.52 250.14 61.36 249.47 60.20C248.80 59.03 248.45 57.56 248.57 56.29C248.68 55.03 249.27 53.63 250.13 52.60C251.00 51.58 252.37 50.64 253.76 50.12C255.15 49.60 256.93 49.37 258.46 49.51C260.00 49.64 261.72 50.18 262.99 50.93C264.27 51.68 265.46 52.84 266.13 54.00C266.80 55.17 267.15 56.64 267.03 57.91Z" fill="#24acd4"/><path d="M266.05 57.82C265.95 58.95 265.42 60.20 264.65 61.12C263.87 62.03 262.65 62.87 261.41 63.33C260.17 63.80 258.58 64.00 257.21 63.88C255.83 63.76 254.30 63.28 253.16 62.61C252.02 61.94 250.96 60.91 250.36 59.87C249.76 58.83 249.45 57.51 249.55 56.38C249.65 55.25 250.18 54.00 250.95 53.08C251.73 52.17 252.95 51.33 254.19 50.87C255.43 50.40 257.02 50.20 258.39 50.32C259.77 50.44 261.30 50.92 262.44 51.59C263.58 52.26 264.64 53.29 265.24 54.33C265.84 55.37 266.15 56.69 266.05 57.82Z" fill="#25bcb0"/><path d="M264.97 57.73C264.89 58.71 264.43 59.79 263.75 60.59C263.08 61.39 262.02 62.12 260.94 62.52C259.86 62.92 258.48 63.10 257.28 63.00C256.09 62.89 254.76 62.48 253.77 61.89C252.77 61.31 251.85 60.41 251.33 59.51C250.81 58.60 250.54 57.46 250.63 56.47C250.71 55.49 251.17 54.41 251.85 53.61C252.52 52.81 253.58 52.08 254.66 51.68C255.74 51.28 257.12 51.10 258.32 51.20C259.51 51.31 260.84 51.72 261.83 52.31C262.83 52.89 263.75 53.79 264.27 54.69C264.79 55.60 265.06 56.74 264.97 57.73Z" fill="#52c688"/><path d="M263.72 57.62C263.65 58.43 263.27 59.32 262.71 59.98C262.16 60.64 261.28 61.24 260.39 61.57C259.50 61.90 258.36 62.05 257.37 61.97C256.39 61.88 255.29 61.53 254.47 61.05C253.65 60.57 252.89 59.83 252.46 59.08C252.03 58.34 251.81 57.39 251.88 56.58C251.95 55.77 252.33 54.88 252.89 54.22C253.44 53.56 254.32 52.96 255.21 52.63C256.10 52.30 257.24 52.15 258.23 52.23C259.21 52.32 260.31 52.67 261.13 53.15C261.95 53.63 262.71 54.37 263.14 55.12C263.57 55.86 263.79 56.81 263.72 57.62Z" fill="#a5cf48"/><path d="M262.55 57.52C262.49 58.17 262.19 58.88 261.74 59.41C261.30 59.94 260.59 60.43 259.88 60.69C259.17 60.96 258.25 61.08 257.46 61.01C256.67 60.94 255.79 60.66 255.13 60.28C254.47 59.89 253.86 59.29 253.51 58.69C253.17 58.09 252.99 57.34 253.05 56.68C253.11 56.03 253.41 55.32 253.86 54.79C254.30 54.26 255.01 53.77 255.72 53.51C256.43 53.24 257.35 53.12 258.14 53.19C258.93 53.26 259.81 53.54 260.47 53.92C261.13 54.31 261.74 54.91 262.09 55.51C262.43 56.11 262.61 56.86 262.55 57.52Z" fill="#ecd42a"/><path d="M261.39 57.41C261.34 57.91 261.11 58.45 260.78 58.85C260.44 59.25 259.91 59.61 259.37 59.81C258.83 60.01 258.14 60.10 257.54 60.05C256.94 60.00 256.28 59.79 255.78 59.50C255.29 59.21 254.83 58.75 254.57 58.30C254.30 57.85 254.17 57.28 254.21 56.79C254.26 56.29 254.49 55.75 254.82 55.35C255.16 54.95 255.69 54.59 256.23 54.39C256.77 54.19 257.46 54.10 258.06 54.15C258.66 54.20 259.32 54.41 259.82 54.70C260.31 54.99 260.77 55.45 261.03 55.90C261.30 56.35 261.43 56.92 261.39 57.41Z" fill="#fdd227"/><path d="M259.50 57.25C259.48 57.48 259.37 57.74 259.21 57.93C259.05 58.12 258.80 58.29 258.55 58.39C258.29 58.48 257.96 58.53 257.68 58.50C257.39 58.48 257.08 58.38 256.84 58.24C256.61 58.10 256.39 57.89 256.26 57.67C256.14 57.46 256.08 57.18 256.10 56.95C256.12 56.72 256.23 56.46 256.39 56.27C256.55 56.08 256.80 55.91 257.05 55.81C257.31 55.72 257.64 55.67 257.92 55.70C258.21 55.72 258.52 55.82 258.76 55.96C258.99 56.10 259.21 56.31 259.34 56.53C259.46 56.74 259.52 57.02 259.50 57.25Z" fill="#ffbc2d"/></g>
</g>
<path d="M245.27 36.60C246.20 36.46 247.61 36.73 248.87 37.18C250.14 37.63 251.64 38.30 252.84 39.29C254.04 40.29 255.34 41.94 256.08 43.14C256.81 44.34 257.19 45.30 257.25 46.50C257.31 47.70 256.96 49.27 256.44 50.35C255.91 51.42 255.09 52.45 254.10 52.94C253.11 53.44 251.50 53.28 250.50 53.33C249.49 53.38 248.86 53.12 248.06 53.23C247.27 53.34 246.46 54.05 245.72 54.00C244.99 53.95 244.22 53.76 243.65 52.94C243.08 52.13 242.60 50.30 242.30 49.10C242.00 47.90 241.85 47.14 241.85 45.73C241.85 44.32 242.06 41.92 242.30 40.64C242.54 39.36 242.80 38.71 243.29 38.04C243.79 37.37 244.34 36.74 245.27 36.60Z" fill="none" stroke="#ee1c2e" stroke-width="1.25"/>
<rect x="231.2" y="20.5" width="60.8" height="63.6" fill="none" stroke="#231f20" stroke-width="1"/>
<text x="238.0" y="96.4" font-size="9.65" text-anchor="middle" fill="#231f20">1.5</text>
<text x="265.0" y="96.4" font-size="9.65" text-anchor="middle" fill="#231f20">2.5</text>
<text x="292.0" y="96.4" font-size="9.65" text-anchor="middle" fill="#231f20">3.5</text>
<text x="226.8" y="34.8" font-size="9.65" text-anchor="end" fill="#231f20">0.8</text>
<text x="226.8" y="56.0" font-size="9.65" text-anchor="end" fill="#231f20">0.7</text>
<text x="226.8" y="77.2" font-size="9.65" text-anchor="end" fill="#231f20">0.6</text>
<path d="M237.96 84.10v-1.3M237.96 20.50v1.3M264.98 84.10v-1.3M264.98 20.50v1.3M231.20 31.10h1.3M292.00 31.10h-1.3M231.20 52.30h1.3M292.00 52.30h-1.3M231.20 73.50h1.3M292.00 73.50h-1.3" stroke="#231f20" stroke-width="0.8" fill="none"/>
<text x="261.3" y="12.9" font-size="11.15" text-anchor="middle" fill="#231f20">0.5 mg/L</text>
</g>
<g>
<clipPath id="cp03"><rect x="320.4" y="20.5" width="60.8" height="63.6"/></clipPath>
<g clip-path="url(#cp03)">
<path d="M367.79 61.16C367.27 63.09 365.80 65.05 363.90 66.33C362.01 67.61 359.17 68.57 356.40 68.87C353.64 69.16 350.19 68.87 347.29 68.09C344.40 67.31 341.27 65.85 339.02 64.21C336.77 62.57 334.79 60.32 333.79 58.26C332.79 56.20 332.50 53.77 333.01 51.84C333.53 49.91 335.00 47.95 336.90 46.67C338.79 45.39 341.63 44.43 344.40 44.13C347.16 43.84 350.61 44.13 353.51 44.91C356.40 45.69 359.53 47.15 361.78 48.79C364.03 50.43 366.01 52.68 367.01 54.74C368.01 56.80 368.30 59.23 367.79 61.16Z" fill="#b0b6ff" fill-opacity="0.30" filter="url(#sp)"/>
<path d="M341.44 45.82C342.80 45.02 344.74 46.02 346.84 46.42C348.94 46.82 351.44 47.42 354.04 48.22C356.64 49.02 359.76 49.72 362.44 51.22C365.12 52.72 369.72 55.02 370.12 57.22C370.52 59.42 367.32 62.52 364.84 64.42C362.36 66.32 358.44 67.82 355.24 68.62C352.04 69.42 348.14 69.72 345.64 69.22C343.14 68.72 341.44 67.42 340.24 65.62C339.04 63.82 338.70 60.82 338.44 58.42C338.18 56.02 338.18 53.32 338.68 51.22C339.18 49.12 340.08 46.62 341.44 45.82Z" fill="#a9adff" fill-opacity="0.40" filter="url(#bl2)"/><path d="M342.39 47.24C343.60 46.52 345.33 47.42 347.20 47.77C349.08 48.13 351.31 48.66 353.62 49.38C355.94 50.09 358.72 50.71 361.11 52.05C363.50 53.39 367.61 55.44 367.96 57.40C368.32 59.36 365.47 62.13 363.25 63.82C361.04 65.52 357.55 66.85 354.69 67.57C351.84 68.28 348.36 68.55 346.13 68.10C343.90 67.66 342.39 66.50 341.32 64.89C340.25 63.29 339.95 60.61 339.71 58.47C339.48 56.33 339.48 53.92 339.93 52.05C340.37 50.18 341.18 47.95 342.39 47.24Z" fill="#8c94ff" fill-opacity="0.60" filter="url(#ro2)"/><g filter="url(#ro)" opacity="1.00"><clipPath id="k3"><path d="M343.26 48.55C344.34 47.91 345.88 48.70 347.54 49.02C349.20 49.34 351.18 49.81 353.24 50.45C355.30 51.08 357.77 51.63 359.89 52.82C362.01 54.01 365.65 55.83 365.97 57.57C366.29 59.31 363.75 61.77 361.79 63.27C359.83 64.77 356.72 65.96 354.19 66.59C351.66 67.23 348.57 67.47 346.59 67.07C344.61 66.67 343.26 65.64 342.31 64.22C341.37 62.80 341.10 60.42 340.89 58.52C340.68 56.62 340.68 54.48 341.08 52.82C341.48 51.16 342.19 49.18 343.26 48.55Z"/></clipPath><path d="M343.26 48.55C344.34 47.91 345.88 48.70 347.54 49.02C349.20 49.34 351.18 49.81 353.24 50.45C355.30 51.08 357.77 51.63 359.89 52.82C362.01 54.01 365.65 55.83 365.97 57.57C366.29 59.31 363.75 61.77 361.79 63.27C359.83 64.77 356.72 65.96 354.19 66.59C351.66 67.23 348.57 67.47 346.59 67.07C344.61 66.67 343.26 65.64 342.31 64.22C341.37 62.80 341.10 60.42 340.89 58.52C340.68 56.62 340.68 54.48 341.08 52.82C341.48 51.16 342.19 49.18 343.26 48.55Z" fill="#5062ff"/><g clip-path="url(#k3)"><path d="M363.73 60.32C363.56 61.90 362.69 63.62 361.42 64.87C360.15 66.11 358.14 67.23 356.10 67.81C354.07 68.39 351.46 68.60 349.20 68.37C346.95 68.13 344.44 67.38 342.58 66.39C340.71 65.39 338.97 63.89 337.99 62.40C337.01 60.92 336.51 59.06 336.67 57.48C336.84 55.90 337.71 54.18 338.98 52.93C340.25 51.69 342.26 50.57 344.30 49.99C346.33 49.41 348.94 49.20 351.20 49.43C353.45 49.67 355.96 50.42 357.82 51.41C359.69 52.41 361.43 53.91 362.41 55.40C363.39 56.88 363.89 58.74 363.73 60.32Z" fill="#4672fb"/><path d="M362.53 60.20C362.38 61.63 361.58 63.20 360.43 64.34C359.27 65.48 357.44 66.49 355.58 67.02C353.72 67.56 351.35 67.75 349.29 67.53C347.24 67.32 344.95 66.63 343.25 65.73C341.54 64.82 339.96 63.45 339.07 62.09C338.17 60.74 337.72 59.04 337.87 57.60C338.02 56.17 338.82 54.60 339.97 53.46C341.13 52.32 342.96 51.31 344.82 50.78C346.68 50.24 349.05 50.05 351.11 50.27C353.16 50.48 355.45 51.17 357.15 52.07C358.86 52.98 360.44 54.35 361.33 55.71C362.23 57.06 362.68 58.76 362.53 60.20Z" fill="#3a88f4"/><path d="M361.44 60.08C361.30 61.39 360.57 62.82 359.52 63.86C358.46 64.89 356.79 65.82 355.10 66.30C353.41 66.79 351.25 66.96 349.37 66.77C347.50 66.57 345.42 65.95 343.86 65.12C342.31 64.30 340.87 63.04 340.05 61.81C339.24 60.58 338.82 59.03 338.96 57.72C339.10 56.41 339.83 54.98 340.88 53.94C341.94 52.91 343.61 51.98 345.30 51.50C346.99 51.01 349.15 50.84 351.03 51.03C352.90 51.23 354.98 51.85 356.54 52.68C358.09 53.50 359.53 54.76 360.35 55.99C361.16 57.22 361.58 58.77 361.44 60.08Z" fill="#2d9ce8"/></g><path d="M360.44 59.98C360.32 61.17 359.66 62.47 358.69 63.42C357.73 64.36 356.21 65.21 354.67 65.65C353.13 66.09 351.15 66.25 349.45 66.07C347.74 65.89 345.84 65.32 344.43 64.57C343.01 63.82 341.70 62.68 340.95 61.55C340.21 60.43 339.83 59.02 339.96 57.82C340.08 56.63 340.74 55.33 341.71 54.38C342.67 53.44 344.19 52.59 345.73 52.15C347.27 51.71 349.25 51.55 350.95 51.73C352.66 51.91 354.56 52.48 355.97 53.23C357.39 53.98 358.70 55.12 359.45 56.25C360.19 57.37 360.57 58.78 360.44 59.98Z" fill="#24acd4"/><path d="M359.35 59.86C359.24 60.93 358.65 62.09 357.79 62.94C356.93 63.78 355.57 64.53 354.19 64.93C352.82 65.32 351.05 65.46 349.53 65.30C348.00 65.14 346.31 64.64 345.04 63.97C343.78 63.29 342.60 62.27 341.94 61.27C341.27 60.26 340.94 59.01 341.05 57.94C341.16 56.87 341.75 55.71 342.61 54.86C343.47 54.02 344.83 53.27 346.21 52.87C347.58 52.48 349.35 52.34 350.87 52.50C352.40 52.66 354.09 53.16 355.36 53.83C356.62 54.51 357.80 55.53 358.46 56.53C359.13 57.54 359.46 58.79 359.35 59.86Z" fill="#25bcb0"/><path d="M358.16 59.74C358.06 60.66 357.55 61.67 356.80 62.41C356.05 63.14 354.87 63.80 353.67 64.14C352.47 64.48 350.94 64.61 349.61 64.47C348.29 64.33 346.81 63.89 345.71 63.31C344.62 62.72 343.60 61.83 343.02 60.96C342.44 60.09 342.15 58.99 342.24 58.06C342.34 57.14 342.85 56.13 343.60 55.39C344.35 54.66 345.53 54.00 346.73 53.66C347.93 53.32 349.46 53.19 350.79 53.33C352.11 53.47 353.59 53.91 354.69 54.49C355.78 55.08 356.80 55.97 357.38 56.84C357.96 57.71 358.25 58.81 358.16 59.74Z" fill="#52c688"/><path d="M356.76 59.59C356.68 60.36 356.26 61.19 355.64 61.79C355.03 62.40 354.05 62.94 353.06 63.22C352.08 63.51 350.81 63.61 349.72 63.49C348.62 63.38 347.41 63.02 346.50 62.53C345.59 62.05 344.75 61.32 344.27 60.60C343.80 59.88 343.56 58.98 343.64 58.21C343.72 57.44 344.14 56.61 344.76 56.01C345.37 55.40 346.35 54.86 347.34 54.58C348.32 54.29 349.59 54.19 350.68 54.31C351.78 54.42 352.99 54.78 353.90 55.27C354.81 55.75 355.65 56.48 356.13 57.20C356.60 57.92 356.84 58.82 356.76 59.59Z" fill="#a5cf48"/><path d="M355.47 59.45C355.41 60.07 355.07 60.74 354.57 61.22C354.08 61.71 353.29 62.14 352.50 62.37C351.71 62.60 350.69 62.68 349.81 62.59C348.93 62.50 347.96 62.21 347.23 61.82C346.50 61.43 345.82 60.84 345.44 60.27C345.06 59.69 344.86 58.96 344.93 58.35C344.99 57.73 345.33 57.06 345.83 56.58C346.32 56.09 347.11 55.66 347.90 55.43C348.69 55.20 349.71 55.12 350.59 55.21C351.47 55.30 352.44 55.59 353.17 55.98C353.90 56.37 354.58 56.96 354.96 57.53C355.34 58.11 355.54 58.84 355.47 59.45Z" fill="#ecd42a"/><path d="M354.18 59.32C354.13 59.78 353.87 60.29 353.50 60.65C353.13 61.02 352.53 61.35 351.94 61.52C351.34 61.69 350.57 61.75 349.91 61.68C349.24 61.61 348.51 61.39 347.96 61.10C347.41 60.81 346.90 60.37 346.61 59.93C346.32 59.49 346.17 58.95 346.22 58.48C346.27 58.02 346.53 57.51 346.90 57.15C347.27 56.78 347.87 56.45 348.46 56.28C349.06 56.11 349.83 56.05 350.49 56.12C351.16 56.19 351.89 56.41 352.44 56.70C352.99 56.99 353.50 57.43 353.79 57.87C354.08 58.31 354.23 58.85 354.18 59.32Z" fill="#fdd227"/><path d="M352.09 59.10C352.07 59.32 351.94 59.56 351.77 59.73C351.59 59.91 351.31 60.06 351.02 60.14C350.74 60.23 350.38 60.26 350.06 60.22C349.75 60.19 349.40 60.09 349.13 59.95C348.87 59.81 348.63 59.60 348.49 59.39C348.36 59.18 348.29 58.92 348.31 58.70C348.33 58.48 348.46 58.24 348.63 58.07C348.81 57.89 349.09 57.74 349.38 57.66C349.66 57.57 350.02 57.54 350.34 57.58C350.65 57.61 351.00 57.71 351.27 57.85C351.53 57.99 351.77 58.20 351.91 58.41C352.04 58.62 352.11 58.88 352.09 59.10Z" fill="#ffbc2d"/></g>
</g>
<path d="M334.47 36.60C335.40 36.46 336.81 36.73 338.07 37.18C339.34 37.63 340.84 38.30 342.04 39.29C343.24 40.29 344.54 41.94 345.28 43.14C346.01 44.34 346.39 45.30 346.45 46.50C346.51 47.70 346.16 49.27 345.64 50.35C345.11 51.42 344.29 52.45 343.30 52.94C342.31 53.44 340.70 53.28 339.70 53.33C338.69 53.38 338.06 53.12 337.26 53.23C336.47 53.34 335.66 54.05 334.92 54.00C334.19 53.95 333.42 53.76 332.85 52.94C332.28 52.13 331.80 50.30 331.50 49.10C331.20 47.90 331.05 47.14 331.05 45.73C331.05 44.32 331.26 41.92 331.50 40.64C331.74 39.36 332.00 38.71 332.49 38.04C332.99 37.37 333.54 36.74 334.47 36.60Z" fill="none" stroke="#ee1c2e" stroke-width="1.25"/>
<rect x="320.4" y="20.5" width="60.8" height="63.6" fill="none" stroke="#231f20" stroke-width="1"/>
<text x="327.2" y="96.4" font-size="9.65" text-anchor="middle" fill="#231f20">1.5</text>
<text x="354.2" y="96.4" font-size="9.65" text-anchor="middle" fill="#231f20">2.5</text>
<text x="381.2" y="96.4" font-size="9.65" text-anchor="middle" fill="#231f20">3.5</text>
<text x="316.0" y="34.8" font-size="9.65" text-anchor="end" fill="#231f20">0.8</text>
<text x="316.0" y="56.0" font-size="9.65" text-anchor="end" fill="#231f20">0.7</text>
<text x="316.0" y="77.2" font-size="9.65" text-anchor="end" fill="#231f20">0.6</text>
<path d="M327.16 84.10v-1.3M327.16 20.50v1.3M354.18 84.10v-1.3M354.18 20.50v1.3M320.40 31.10h1.3M381.20 31.10h-1.3M320.40 52.30h1.3M381.20 52.30h-1.3M320.40 73.50h1.3M381.20 73.50h-1.3" stroke="#231f20" stroke-width="0.8" fill="none"/>
<text x="350.5" y="12.9" font-size="11.15" text-anchor="middle" fill="#231f20">1 mg/L</text>
</g>
<g>
<clipPath id="cp04"><rect x="410.7" y="20.5" width="60.8" height="63.6"/></clipPath>
<g clip-path="url(#cp04)">
<path d="M458.09 61.16C457.57 63.09 456.10 65.05 454.20 66.33C452.31 67.61 449.47 68.57 446.70 68.87C443.94 69.16 440.49 68.87 437.59 68.09C434.70 67.31 431.57 65.85 429.32 64.21C427.07 62.57 425.09 60.32 424.09 58.26C423.09 56.20 422.80 53.77 423.31 51.84C423.83 49.91 425.30 47.95 427.20 46.67C429.09 45.39 431.93 44.43 434.70 44.13C437.46 43.84 440.91 44.13 443.81 44.91C446.70 45.69 449.83 47.15 452.08 48.79C454.33 50.43 456.31 52.68 457.31 54.74C458.31 56.80 458.60 59.23 458.09 61.16Z" fill="#b0b6ff" fill-opacity="0.30" filter="url(#sp)"/>
<path d="M433.90 48.54C435.30 47.74 437.70 47.84 439.90 47.94C442.10 48.04 444.50 48.44 447.10 49.14C449.70 49.84 452.78 50.44 455.50 52.14C458.22 53.84 462.82 56.94 463.42 59.34C464.02 61.74 461.42 64.84 459.10 66.54C456.78 68.24 452.70 69.04 449.50 69.54C446.30 70.04 442.60 70.04 439.90 69.54C437.20 69.04 434.78 68.24 433.30 66.54C431.82 64.84 431.32 61.64 431.02 59.34C430.72 57.04 431.02 54.54 431.50 52.74C431.98 50.94 432.50 49.34 433.90 48.54Z" fill="#a9adff" fill-opacity="0.40" filter="url(#bl2)"/><path d="M435.07 49.81C436.32 49.10 438.46 49.19 440.42 49.28C442.38 49.37 444.52 49.72 446.84 50.35C449.16 50.97 451.90 51.51 454.33 53.02C456.76 54.54 460.86 57.30 461.39 59.44C461.93 61.58 459.61 64.35 457.54 65.86C455.47 67.38 451.83 68.09 448.98 68.54C446.13 68.98 442.83 68.98 440.42 68.54C438.01 68.09 435.85 67.38 434.53 65.86C433.22 64.35 432.77 61.49 432.50 59.44C432.23 57.39 432.50 55.16 432.93 53.56C433.36 51.95 433.82 50.53 435.07 49.81Z" fill="#8c94ff" fill-opacity="0.60" filter="url(#ro2)"/><g filter="url(#ro)" opacity="1.00"><clipPath id="k4"><path d="M436.15 50.99C437.26 50.36 439.16 50.44 440.90 50.52C442.64 50.59 444.54 50.91 446.60 51.47C448.66 52.02 451.10 52.49 453.25 53.84C455.40 55.19 459.04 57.64 459.52 59.54C460.00 61.44 457.94 63.89 456.10 65.24C454.26 66.59 451.03 67.22 448.50 67.61C445.97 68.01 443.04 68.01 440.90 67.61C438.76 67.22 436.85 66.59 435.68 65.24C434.50 63.89 434.11 61.36 433.87 59.54C433.63 57.72 433.87 55.74 434.25 54.31C434.63 52.89 435.04 51.62 436.15 50.99Z"/></clipPath><path d="M436.15 50.99C437.26 50.36 439.16 50.44 440.90 50.52C442.64 50.59 444.54 50.91 446.60 51.47C448.66 52.02 451.10 52.49 453.25 53.84C455.40 55.19 459.04 57.64 459.52 59.54C460.00 61.44 457.94 63.89 456.10 65.24C454.26 66.59 451.03 67.22 448.50 67.61C445.97 68.01 443.04 68.01 440.90 67.61C438.76 67.22 436.85 66.59 435.68 65.24C434.50 63.89 434.11 61.36 433.87 59.54C433.63 57.72 433.87 55.74 434.25 54.31C434.63 52.89 435.04 51.62 436.15 50.99Z" fill="#5062ff"/><g clip-path="url(#k4)"><path d="M459.31 61.84C459.15 63.32 458.23 64.93 456.88 66.09C455.53 67.25 453.38 68.28 451.19 68.80C449.00 69.32 446.20 69.48 443.76 69.23C441.33 68.97 438.61 68.23 436.58 67.26C434.55 66.30 432.66 64.85 431.58 63.43C430.50 62.02 429.94 60.25 430.09 58.76C430.25 57.28 431.17 55.67 432.52 54.51C433.87 53.35 436.02 52.32 438.21 51.80C440.40 51.28 443.20 51.12 445.64 51.37C448.07 51.63 450.79 52.37 452.82 53.34C454.85 54.30 456.74 55.75 457.82 57.17C458.90 58.58 459.46 60.35 459.31 61.84Z" fill="#4672fb"/><path d="M458.02 61.70C457.88 63.06 457.04 64.52 455.81 65.58C454.57 66.64 452.61 67.57 450.62 68.05C448.62 68.52 446.06 68.67 443.84 68.44C441.62 68.21 439.15 67.53 437.30 66.65C435.45 65.77 433.72 64.45 432.74 63.16C431.75 61.87 431.24 60.26 431.38 58.90C431.52 57.54 432.36 56.08 433.59 55.02C434.83 53.96 436.79 53.03 438.78 52.55C440.78 52.08 443.34 51.93 445.56 52.16C447.78 52.39 450.25 53.07 452.10 53.95C453.95 54.83 455.68 56.15 456.66 57.44C457.65 58.73 458.16 60.34 458.02 61.70Z" fill="#3a88f4"/><path d="M456.84 61.58C456.71 62.81 455.95 64.15 454.82 65.11C453.70 66.08 451.91 66.93 450.09 67.36C448.28 67.80 445.94 67.93 443.92 67.72C441.90 67.50 439.64 66.89 437.96 66.09C436.27 65.28 434.70 64.08 433.80 62.90C432.90 61.73 432.43 60.26 432.56 59.02C432.69 57.79 433.45 56.45 434.58 55.49C435.70 54.52 437.49 53.67 439.31 53.24C441.12 52.80 443.46 52.67 445.48 52.88C447.50 53.10 449.76 53.71 451.44 54.51C453.13 55.32 454.70 56.52 455.60 57.70C456.50 58.87 456.97 60.34 456.84 61.58Z" fill="#2d9ce8"/></g><path d="M455.76 61.46C455.64 62.59 454.95 63.81 453.93 64.69C452.90 65.57 451.27 66.34 449.62 66.74C447.96 67.13 445.83 67.25 443.99 67.06C442.15 66.87 440.09 66.30 438.55 65.57C437.02 64.84 435.58 63.75 434.76 62.67C433.94 61.60 433.52 60.26 433.64 59.14C433.76 58.01 434.45 56.79 435.47 55.91C436.50 55.03 438.13 54.26 439.78 53.86C441.44 53.47 443.57 53.35 445.41 53.54C447.25 53.73 449.31 54.30 450.85 55.03C452.38 55.76 453.82 56.85 454.64 57.93C455.46 59.00 455.88 60.34 455.76 61.46Z" fill="#24acd4"/><path d="M454.58 61.34C454.48 62.35 453.86 63.43 452.94 64.22C452.03 65.00 450.57 65.70 449.09 66.05C447.61 66.40 445.71 66.51 444.07 66.34C442.42 66.17 440.58 65.66 439.21 65.01C437.84 64.36 436.56 63.38 435.82 62.42C435.09 61.46 434.71 60.27 434.82 59.26C434.92 58.25 435.54 57.17 436.46 56.38C437.37 55.60 438.83 54.90 440.31 54.55C441.79 54.20 443.69 54.09 445.33 54.26C446.98 54.43 448.82 54.94 450.19 55.59C451.56 56.24 452.84 57.22 453.58 58.18C454.31 59.14 454.69 60.33 454.58 61.34Z" fill="#25bcb0"/><path d="M453.29 61.20C453.20 62.08 452.66 63.03 451.87 63.71C451.07 64.39 449.80 64.99 448.52 65.30C447.23 65.61 445.58 65.70 444.15 65.55C442.72 65.40 441.12 64.96 439.93 64.40C438.73 63.83 437.62 62.98 436.98 62.14C436.35 61.31 436.02 60.27 436.11 59.40C436.20 58.52 436.74 57.57 437.53 56.89C438.33 56.21 439.60 55.61 440.88 55.30C442.17 54.99 443.82 54.90 445.25 55.05C446.68 55.20 448.28 55.64 449.47 56.20C450.67 56.77 451.78 57.62 452.42 58.46C453.05 59.29 453.38 60.33 453.29 61.20Z" fill="#52c688"/><path d="M451.79 61.05C451.71 61.77 451.27 62.55 450.61 63.11C449.96 63.67 448.91 64.17 447.85 64.42C446.79 64.68 445.43 64.76 444.24 64.63C443.06 64.51 441.75 64.15 440.76 63.68C439.78 63.21 438.86 62.51 438.33 61.82C437.81 61.13 437.54 60.28 437.61 59.55C437.69 58.83 438.13 58.05 438.79 57.49C439.44 56.93 440.49 56.43 441.55 56.18C442.61 55.92 443.97 55.84 445.16 55.97C446.34 56.09 447.65 56.45 448.64 56.92C449.62 57.39 450.54 58.09 451.07 58.78C451.59 59.47 451.86 60.32 451.79 61.05Z" fill="#a5cf48"/><path d="M450.39 60.90C450.33 61.48 449.97 62.11 449.45 62.56C448.92 63.01 448.08 63.41 447.23 63.61C446.38 63.82 445.28 63.88 444.33 63.78C443.39 63.68 442.33 63.39 441.54 63.01C440.75 62.64 440.01 62.07 439.59 61.52C439.17 60.97 438.95 60.28 439.01 59.70C439.07 59.12 439.43 58.49 439.95 58.04C440.48 57.59 441.32 57.19 442.17 56.99C443.02 56.78 444.12 56.72 445.07 56.82C446.01 56.92 447.07 57.21 447.86 57.59C448.65 57.96 449.39 58.53 449.81 59.08C450.23 59.63 450.45 60.32 450.39 60.90Z" fill="#ecd42a"/><path d="M449.00 60.75C448.95 61.19 448.68 61.66 448.28 62.00C447.88 62.35 447.25 62.65 446.61 62.80C445.97 62.95 445.14 63.00 444.42 62.93C443.71 62.85 442.91 62.63 442.31 62.35C441.72 62.06 441.16 61.64 440.84 61.22C440.52 60.81 440.36 60.29 440.40 59.85C440.45 59.41 440.72 58.94 441.12 58.60C441.52 58.25 442.15 57.95 442.79 57.80C443.43 57.65 444.26 57.60 444.98 57.67C445.69 57.75 446.49 57.97 447.09 58.25C447.68 58.54 448.24 58.96 448.56 59.38C448.88 59.79 449.04 60.31 449.00 60.75Z" fill="#fdd227"/><path d="M446.74 60.51C446.72 60.72 446.59 60.95 446.40 61.11C446.21 61.27 445.91 61.41 445.61 61.49C445.30 61.56 444.91 61.58 444.57 61.55C444.23 61.51 443.85 61.41 443.57 61.27C443.28 61.14 443.02 60.94 442.87 60.74C442.72 60.54 442.64 60.29 442.66 60.09C442.68 59.88 442.81 59.65 443.00 59.49C443.19 59.33 443.49 59.19 443.79 59.11C444.10 59.04 444.49 59.02 444.83 59.05C445.17 59.09 445.55 59.19 445.83 59.33C446.12 59.46 446.38 59.66 446.53 59.86C446.68 60.06 446.76 60.31 446.74 60.51Z" fill="#ffbc2d"/></g>
</g>
<path d="M424.77 36.60C425.70 36.46 427.11 36.73 428.37 37.18C429.64 37.63 431.14 38.30 432.34 39.29C433.54 40.29 434.84 41.94 435.58 43.14C436.31 44.34 436.69 45.30 436.75 46.50C436.81 47.70 436.46 49.27 435.94 50.35C435.41 51.42 434.59 52.45 433.60 52.94C432.61 53.44 431.00 53.28 430.00 53.33C428.99 53.38 428.36 53.12 427.56 53.23C426.77 53.34 425.96 54.05 425.22 54.00C424.49 53.95 423.72 53.76 423.15 52.94C422.58 52.13 422.10 50.30 421.80 49.10C421.50 47.90 421.35 47.14 421.35 45.73C421.35 44.32 421.56 41.92 421.80 40.64C422.04 39.36 422.30 38.71 422.79 38.04C423.29 37.37 423.84 36.74 424.77 36.60Z" fill="none" stroke="#ee1c2e" stroke-width="1.25"/>
<rect x="410.7" y="20.5" width="60.8" height="63.6" fill="none" stroke="#231f20" stroke-width="1"/>
<text x="417.5" y="96.4" font-size="9.65" text-anchor="middle" fill="#231f20">1.5</text>
<text x="444.5" y="96.4" font-size="9.65" text-anchor="middle" fill="#231f20">2.5</text>
<text x="471.5" y="96.4" font-size="9.65" text-anchor="middle" fill="#231f20">3.5</text>
<text x="406.3" y="34.8" font-size="9.65" text-anchor="end" fill="#231f20">0.8</text>
<text x="406.3" y="56.0" font-size="9.65" text-anchor="end" fill="#231f20">0.7</text>
<text x="406.3" y="77.2" font-size="9.65" text-anchor="end" fill="#231f20">0.6</text>
<path d="M417.46 84.10v-1.3M417.46 20.50v1.3M444.48 84.10v-1.3M444.48 20.50v1.3M410.70 31.10h1.3M471.50 31.10h-1.3M410.70 52.30h1.3M471.50 52.30h-1.3M410.70 73.50h1.3M471.50 73.50h-1.3" stroke="#231f20" stroke-width="0.8" fill="none"/>
<text x="440.8" y="12.9" font-size="11.15" text-anchor="middle" fill="#231f20">2 mg/L</text>
</g>
<g>
<clipPath id="cp05"><rect x="499.7" y="20.5" width="60.8" height="63.6"/></clipPath>
<g clip-path="url(#cp05)">
<path d="M547.09 61.16C546.57 63.09 545.10 65.05 543.20 66.33C541.31 67.61 538.47 68.57 535.70 68.87C532.94 69.16 529.49 68.87 526.59 68.09C523.70 67.31 520.57 65.85 518.32 64.21C516.07 62.57 514.09 60.32 513.09 58.26C512.09 56.20 511.80 53.77 512.31 51.84C512.83 49.91 514.30 47.95 516.20 46.67C518.09 45.39 520.93 44.43 523.70 44.13C526.46 43.84 529.91 44.13 532.81 44.91C535.70 45.69 538.83 47.15 541.08 48.79C543.33 50.43 545.31 52.68 546.31 54.74C547.31 56.80 547.60 59.23 547.09 61.16Z" fill="#b0b6ff" fill-opacity="0.30" filter="url(#sp)"/>
<path d="M550.66 66.69C550.01 68.48 548.44 70.20 546.51 71.25C544.57 72.29 541.76 72.95 539.06 72.97C536.35 73.00 533.04 72.41 530.30 71.41C527.56 70.41 524.64 68.74 522.59 66.98C520.54 65.22 518.80 62.91 517.99 60.87C517.18 58.82 517.09 56.49 517.74 54.71C518.39 52.92 519.96 51.20 521.89 50.15C523.83 49.11 526.64 48.45 529.34 48.43C532.05 48.40 535.36 48.99 538.10 49.99C540.84 50.99 543.76 52.66 545.81 54.42C547.86 56.18 549.60 58.49 550.41 60.53C551.22 62.58 551.31 64.91 550.66 66.69Z" fill="#a9adff" fill-opacity="0.40" filter="url(#bl2)"/><path d="M548.88 66.04C548.30 67.64 546.90 69.17 545.17 70.10C543.45 71.04 540.94 71.62 538.53 71.64C536.12 71.67 533.17 71.14 530.72 70.25C528.28 69.36 525.68 67.87 523.85 66.30C522.02 64.73 520.47 62.67 519.75 60.85C519.03 59.02 518.94 56.95 519.52 55.36C520.10 53.76 521.50 52.23 523.23 51.30C524.95 50.36 527.46 49.78 529.87 49.76C532.28 49.73 535.23 50.26 537.68 51.15C540.12 52.04 542.72 53.53 544.55 55.10C546.38 56.67 547.93 58.73 548.65 60.55C549.37 62.38 549.46 64.45 548.88 66.04Z" fill="#8c94ff" fill-opacity="0.60" filter="url(#ro2)"/><g filter="url(#ro)" opacity="1.00"><clipPath id="k5"><path d="M547.23 65.44C546.72 66.86 545.48 68.22 543.94 69.05C542.41 69.88 540.18 70.39 538.04 70.42C535.91 70.44 533.29 69.97 531.11 69.18C528.94 68.39 526.63 67.06 525.01 65.67C523.39 64.28 522.01 62.45 521.37 60.83C520.73 59.21 520.65 57.37 521.17 55.96C521.68 54.54 522.92 53.18 524.46 52.35C525.99 51.52 528.22 51.01 530.36 50.98C532.49 50.96 535.11 51.43 537.29 52.22C539.46 53.01 541.77 54.34 543.39 55.73C545.01 57.12 546.39 58.95 547.03 60.57C547.67 62.19 547.75 64.03 547.23 65.44Z"/></clipPath><path d="M547.23 65.44C546.72 66.86 545.48 68.22 543.94 69.05C542.41 69.88 540.18 70.39 538.04 70.42C535.91 70.44 533.29 69.97 531.11 69.18C528.94 68.39 526.63 67.06 525.01 65.67C523.39 64.28 522.01 62.45 521.37 60.83C520.73 59.21 520.65 57.37 521.17 55.96C521.68 54.54 522.92 53.18 524.46 52.35C525.99 51.52 528.22 51.01 530.36 50.98C532.49 50.96 535.11 51.43 537.29 52.22C539.46 53.01 541.77 54.34 543.39 55.73C545.01 57.12 546.39 58.95 547.03 60.57C547.67 62.19 547.75 64.03 547.23 65.44Z" fill="#5062ff"/><g clip-path="url(#k5)"><path d="M547.39 64.99C546.95 66.34 545.78 67.67 544.30 68.49C542.82 69.31 540.63 69.84 538.50 69.90C536.38 69.96 533.75 69.56 531.55 68.85C529.35 68.13 526.99 66.91 525.31 65.61C523.63 64.32 522.17 62.60 521.45 61.06C520.73 59.53 520.57 57.77 521.01 56.41C521.45 55.06 522.62 53.73 524.10 52.91C525.58 52.09 527.77 51.56 529.90 51.50C532.02 51.44 534.65 51.84 536.85 52.55C539.05 53.27 541.41 54.49 543.09 55.79C544.77 57.08 546.23 58.80 546.95 60.34C547.67 61.87 547.83 63.63 547.39 64.99Z" fill="#4672fb"/><path d="M546.23 64.61C545.83 65.85 544.76 67.05 543.41 67.80C542.06 68.55 540.06 69.03 538.12 69.09C536.19 69.14 533.79 68.78 531.79 68.13C529.78 67.48 527.63 66.36 526.09 65.18C524.56 64.00 523.23 62.43 522.58 61.03C521.92 59.63 521.77 58.03 522.17 56.79C522.57 55.55 523.64 54.35 524.99 53.60C526.34 52.85 528.34 52.37 530.28 52.31C532.21 52.26 534.61 52.62 536.61 53.27C538.62 53.92 540.77 55.04 542.31 56.22C543.84 57.40 545.17 58.97 545.82 60.37C546.48 61.77 546.63 63.37 546.23 64.61Z" fill="#3a88f4"/><path d="M545.16 64.26C544.80 65.39 543.82 66.49 542.59 67.17C541.36 67.85 539.54 68.29 537.78 68.34C536.01 68.39 533.83 68.06 532.00 67.47C530.17 66.88 528.21 65.86 526.81 64.78C525.42 63.70 524.20 62.27 523.61 61.00C523.01 59.73 522.87 58.27 523.24 57.14C523.60 56.01 524.58 54.91 525.81 54.23C527.04 53.55 528.86 53.11 530.62 53.06C532.39 53.01 534.57 53.34 536.40 53.93C538.23 54.52 540.19 55.54 541.59 56.62C542.98 57.70 544.20 59.13 544.79 60.40C545.39 61.67 545.53 63.13 545.16 64.26Z" fill="#2d9ce8"/></g><path d="M544.19 63.95C543.86 64.98 542.97 65.98 541.85 66.60C540.73 67.22 539.07 67.62 537.46 67.67C535.85 67.71 533.86 67.41 532.19 66.87C530.53 66.33 528.74 65.40 527.47 64.42C526.19 63.44 525.09 62.14 524.54 60.97C524.00 59.81 523.87 58.48 524.21 57.45C524.54 56.42 525.43 55.42 526.55 54.80C527.67 54.18 529.33 53.78 530.94 53.73C532.55 53.69 534.54 53.99 536.21 54.53C537.87 55.07 539.66 56.00 540.93 56.98C542.21 57.96 543.31 59.26 543.86 60.43C544.40 61.59 544.53 62.92 544.19 63.95Z" fill="#24acd4"/><path d="M543.12 63.60C542.83 64.52 542.04 65.41 541.03 65.97C540.03 66.52 538.55 66.88 537.11 66.92C535.67 66.96 533.90 66.70 532.41 66.21C530.92 65.73 529.33 64.90 528.19 64.02C527.05 63.15 526.06 61.98 525.58 60.94C525.09 59.91 524.98 58.72 525.28 57.80C525.57 56.88 526.36 55.99 527.37 55.43C528.37 54.88 529.85 54.52 531.29 54.48C532.73 54.44 534.50 54.70 535.99 55.19C537.48 55.67 539.07 56.50 540.21 57.38C541.35 58.25 542.34 59.42 542.82 60.46C543.31 61.49 543.42 62.68 543.12 63.60Z" fill="#25bcb0"/><path d="M541.96 63.22C541.70 64.02 541.01 64.80 540.14 65.28C539.27 65.76 537.98 66.08 536.73 66.11C535.48 66.15 533.94 65.91 532.64 65.49C531.35 65.07 529.96 64.35 528.97 63.59C527.98 62.83 527.12 61.81 526.70 60.91C526.28 60.01 526.18 58.98 526.44 58.18C526.70 57.38 527.39 56.60 528.26 56.12C529.13 55.64 530.42 55.32 531.67 55.29C532.92 55.25 534.46 55.49 535.76 55.91C537.05 56.33 538.44 57.05 539.43 57.81C540.42 58.57 541.28 59.59 541.70 60.49C542.12 61.39 542.22 62.42 541.96 63.22Z" fill="#52c688"/><path d="M540.60 62.78C540.39 63.44 539.82 64.08 539.10 64.48C538.38 64.88 537.32 65.14 536.29 65.16C535.26 65.19 533.98 65.00 532.92 64.65C531.85 64.31 530.70 63.71 529.89 63.08C529.07 62.45 528.36 61.62 528.01 60.88C527.66 60.13 527.58 59.28 527.80 58.62C528.01 57.96 528.58 57.32 529.30 56.92C530.02 56.52 531.08 56.26 532.11 56.24C533.14 56.21 534.42 56.40 535.48 56.75C536.55 57.09 537.70 57.69 538.51 58.32C539.33 58.95 540.04 59.78 540.39 60.52C540.74 61.27 540.82 62.12 540.60 62.78Z" fill="#a5cf48"/><path d="M539.34 62.37C539.17 62.90 538.71 63.42 538.14 63.73C537.56 64.05 536.71 64.26 535.88 64.29C535.05 64.31 534.03 64.15 533.17 63.88C532.31 63.60 531.39 63.12 530.74 62.61C530.08 62.11 529.51 61.44 529.23 60.84C528.95 60.24 528.89 59.56 529.06 59.03C529.23 58.50 529.69 57.98 530.26 57.67C530.84 57.35 531.69 57.14 532.52 57.11C533.35 57.09 534.37 57.25 535.23 57.52C536.09 57.80 537.01 58.28 537.66 58.79C538.32 59.29 538.89 59.96 539.17 60.56C539.45 61.16 539.51 61.84 539.34 62.37Z" fill="#ecd42a"/><path d="M538.08 61.96C537.95 62.36 537.61 62.75 537.17 62.99C536.74 63.23 536.09 63.39 535.47 63.41C534.84 63.42 534.07 63.31 533.42 63.10C532.77 62.89 532.08 62.53 531.59 62.15C531.09 61.76 530.66 61.26 530.45 60.81C530.24 60.36 530.19 59.84 530.32 59.44C530.45 59.04 530.79 58.65 531.23 58.41C531.66 58.17 532.31 58.01 532.93 57.99C533.56 57.98 534.33 58.09 534.98 58.30C535.63 58.51 536.32 58.87 536.81 59.25C537.31 59.64 537.74 60.14 537.95 60.59C538.16 61.04 538.21 61.56 538.08 61.96Z" fill="#fdd227"/><path d="M536.04 61.30C535.98 61.49 535.82 61.67 535.61 61.79C535.40 61.90 535.10 61.98 534.80 61.99C534.50 61.99 534.14 61.94 533.83 61.84C533.52 61.74 533.19 61.57 532.96 61.39C532.72 61.21 532.52 60.96 532.42 60.75C532.32 60.54 532.30 60.29 532.36 60.10C532.42 59.91 532.58 59.73 532.79 59.61C533.00 59.50 533.30 59.42 533.60 59.41C533.90 59.41 534.26 59.46 534.57 59.56C534.88 59.66 535.21 59.83 535.44 60.01C535.68 60.19 535.88 60.44 535.98 60.65C536.08 60.86 536.10 61.11 536.04 61.30Z" fill="#ffbc2d"/></g>
</g>
<path d="M513.77 36.60C514.70 36.46 516.11 36.73 517.37 37.18C518.64 37.63 520.14 38.30 521.34 39.29C522.54 40.29 523.84 41.94 524.58 43.14C525.31 44.34 525.69 45.30 525.75 46.50C525.81 47.70 525.46 49.27 524.94 50.35C524.41 51.42 523.59 52.45 522.60 52.94C521.61 53.44 520.00 53.28 519.00 53.33C517.99 53.38 517.36 53.12 516.56 53.23C515.77 53.34 514.96 54.05 514.22 54.00C513.49 53.95 512.72 53.76 512.15 52.94C511.58 52.13 511.10 50.30 510.80 49.10C510.50 47.90 510.35 47.14 510.35 45.73C510.35 44.32 510.56 41.92 510.80 40.64C511.04 39.36 511.30 38.71 511.79 38.04C512.29 37.37 512.84 36.74 513.77 36.60Z" fill="none" stroke="#ee1c2e" stroke-width="1.25"/>
<rect x="499.7" y="20.5" width="60.8" height="63.6" fill="none" stroke="#231f20" stroke-width="1"/>
<text x="506.5" y="96.4" font-size="9.65" text-anchor="middle" fill="#231f20">1.5</text>
<text x="533.5" y="96.4" font-size="9.65" text-anchor="middle" fill="#231f20">2.5</text>
<text x="560.5" y="96.4" font-size="9.65" text-anchor="middle" fill="#231f20">3.5</text>
<text x="495.3" y="34.8" font-size="9.65" text-anchor="end" fill="#231f20">0.8</text>
<text x="495.3" y="56.0" font-size="9.65" text-anchor="end" fill="#231f20">0.7</text>
<text x="495.3" y="77.2" font-size="9.65" text-anchor="end" fill="#231f20">0.6</text>
<path d="M506.46 84.10v-1.3M506.46 20.50v1.3M533.48 84.10v-1.3M533.48 20.50v1.3M499.70 31.10h1.3M560.50 31.10h-1.3M499.70 52.30h1.3M560.50 52.30h-1.3M499.70 73.50h1.3M560.50 73.50h-1.3" stroke="#231f20" stroke-width="0.8" fill="none"/>
<text x="529.8" y="12.9" font-size="11.15" text-anchor="middle" fill="#231f20">4 mg/L</text>
</g>
<g>
<clipPath id="cp06"><rect x="589.6" y="20.5" width="60.8" height="63.6"/></clipPath>
<g clip-path="url(#cp06)">
<path d="M627.66 64.34C626.05 65.79 623.41 66.53 620.68 66.30C617.94 66.06 614.39 64.80 611.26 62.95C608.14 61.10 604.62 58.17 601.94 55.20C599.26 52.23 596.72 48.41 595.20 45.12C593.69 41.82 592.81 38.15 592.86 35.40C592.92 32.66 593.93 30.11 595.54 28.66C597.15 27.21 599.79 26.47 602.52 26.70C605.26 26.94 608.81 28.20 611.94 30.05C615.06 31.90 618.58 34.83 621.26 37.80C623.94 40.77 626.48 44.59 628.00 47.88C629.51 51.18 630.39 54.85 630.34 57.60C630.28 60.34 629.27 62.89 627.66 64.34Z" fill="#a0a6ff" fill-opacity="0.40" filter="url(#sp)"/>
<path d="M616.60 45.50C616.60 46.92 616.17 48.52 615.46 49.75C614.75 50.98 613.58 52.15 612.35 52.86C611.12 53.57 609.52 54.00 608.10 54.00C606.68 54.00 605.08 53.57 603.85 52.86C602.62 52.15 601.45 50.98 600.74 49.75C600.03 48.52 599.60 46.92 599.60 45.50C599.60 44.08 600.03 42.48 600.74 41.25C601.45 40.02 602.62 38.85 603.85 38.14C605.08 37.43 606.68 37.00 608.10 37.00C609.52 37.00 611.12 37.43 612.35 38.14C613.58 38.85 614.75 40.02 615.46 41.25C616.17 42.48 616.60 44.08 616.60 45.50Z" fill="#aab2ff" fill-opacity="0.45" filter="url(#ro2)"/>
<path d="M617.10 45.50C617.10 47.00 616.64 48.70 615.89 50.00C615.14 51.30 613.90 52.54 612.60 53.29C611.30 54.04 609.60 54.50 608.10 54.50C606.60 54.50 604.90 54.04 603.60 53.29C602.30 52.54 601.06 51.30 600.31 50.00C599.56 48.70 599.10 47.00 599.10 45.50C599.10 44.00 599.56 42.30 600.31 41.00C601.06 39.70 602.30 38.46 603.60 37.71C604.90 36.96 606.60 36.50 608.10 36.50C609.60 36.50 611.30 36.96 612.60 37.71C613.90 38.46 615.14 39.70 615.89 41.00C616.64 42.30 617.10 44.00 617.10 45.50Z" fill="#7f8aff" fill-opacity="0.50" filter="url(#sp)"/>
<path d="M606.74 40.63C606.36 40.95 605.66 41.00 604.90 40.77C604.14 40.54 603.11 39.96 602.18 39.23C601.25 38.51 600.16 37.45 599.30 36.43C598.44 35.41 597.59 34.15 597.04 33.11C596.49 32.06 596.09 30.95 596.00 30.16C595.90 29.37 596.07 28.69 596.46 28.37C596.84 28.05 597.54 28.00 598.30 28.23C599.06 28.46 600.09 29.04 601.02 29.77C601.95 30.49 603.04 31.55 603.90 32.57C604.76 33.59 605.61 34.85 606.16 35.89C606.71 36.94 607.11 38.05 607.20 38.84C607.30 39.63 607.13 40.31 606.74 40.63Z" fill="#a0a8ff" fill-opacity="0.35" filter="url(#ro2)"/>
<path d="M634.56 72.45C633.07 73.79 630.84 74.70 628.66 74.86C626.48 75.03 623.75 74.48 621.46 73.43C619.16 72.37 616.68 70.52 614.88 68.53C613.09 66.54 611.51 63.87 610.70 61.48C609.89 59.08 609.63 56.32 610.02 54.17C610.41 52.01 611.55 49.89 613.04 48.55C614.53 47.21 616.76 46.30 618.94 46.14C621.12 45.97 623.85 46.52 626.14 47.57C628.44 48.63 630.92 50.48 632.72 52.47C634.51 54.46 636.09 57.13 636.90 59.52C637.71 61.92 637.97 64.68 637.58 66.83C637.19 68.99 636.05 71.11 634.56 72.45Z" fill="#a9adff" fill-opacity="0.40" filter="url(#bl2)"/><path d="M633.39 71.16C632.07 72.35 630.08 73.16 628.13 73.31C626.19 73.45 623.76 72.97 621.71 72.03C619.66 71.09 617.45 69.44 615.85 67.66C614.25 65.88 612.84 63.51 612.12 61.37C611.39 59.24 611.17 56.77 611.52 54.85C611.86 52.93 612.88 51.04 614.21 49.84C615.53 48.65 617.52 47.84 619.47 47.69C621.41 47.55 623.84 48.03 625.89 48.97C627.94 49.91 630.15 51.56 631.75 53.34C633.35 55.12 634.76 57.49 635.48 59.63C636.21 61.76 636.43 64.23 636.08 66.15C635.74 68.07 634.72 69.96 633.39 71.16Z" fill="#8c94ff" fill-opacity="0.60" filter="url(#ro2)"/><g filter="url(#ro)" opacity="1.00"><clipPath id="k6"><path d="M632.32 69.96C631.14 71.02 629.38 71.74 627.65 71.87C625.92 72.00 623.76 71.57 621.94 70.74C620.13 69.90 618.16 68.43 616.74 66.86C615.32 65.28 614.07 63.17 613.43 61.27C612.79 59.38 612.58 57.19 612.89 55.49C613.20 53.78 614.11 52.10 615.28 51.04C616.46 49.98 618.22 49.26 619.95 49.13C621.68 49.00 623.84 49.43 625.66 50.26C627.47 51.10 629.44 52.57 630.86 54.14C632.28 55.72 633.53 57.83 634.17 59.73C634.81 61.62 635.02 63.81 634.71 65.51C634.40 67.22 633.49 68.90 632.32 69.96Z"/></clipPath><path d="M632.32 69.96C631.14 71.02 629.38 71.74 627.65 71.87C625.92 72.00 623.76 71.57 621.94 70.74C620.13 69.90 618.16 68.43 616.74 66.86C615.32 65.28 614.07 63.17 613.43 61.27C612.79 59.38 612.58 57.19 612.89 55.49C613.20 53.78 614.11 52.10 615.28 51.04C616.46 49.98 618.22 49.26 619.95 49.13C621.68 49.00 623.84 49.43 625.66 50.26C627.47 51.10 629.44 52.57 630.86 54.14C632.28 55.72 633.53 57.83 634.17 59.73C634.81 61.62 635.02 63.81 634.71 65.51C634.40 67.22 633.49 68.90 632.32 69.96Z" fill="#5062ff"/><g clip-path="url(#k6)"><path d="M632.07 68.77C630.88 69.96 629.12 70.88 627.40 71.22C625.69 71.56 623.56 71.40 621.77 70.80C619.99 70.20 618.06 68.99 616.68 67.62C615.31 66.24 614.10 64.31 613.50 62.53C612.90 60.74 612.74 58.61 613.08 56.90C613.42 55.18 614.34 53.42 615.53 52.23C616.72 51.04 618.48 50.12 620.20 49.78C621.91 49.44 624.04 49.60 625.83 50.20C627.61 50.80 629.54 52.01 630.92 53.38C632.29 54.76 633.50 56.69 634.10 58.47C634.70 60.26 634.86 62.39 634.52 64.10C634.18 65.82 633.26 67.58 632.07 68.77Z" fill="#4672fb"/><path d="M631.34 68.04C630.26 69.12 628.65 69.97 627.09 70.27C625.52 70.58 623.58 70.44 621.95 69.89C620.32 69.34 618.57 68.25 617.31 66.99C616.05 65.73 614.96 63.98 614.41 62.35C613.86 60.72 613.72 58.78 614.03 57.21C614.33 55.65 615.18 54.04 616.26 52.96C617.34 51.88 618.95 51.03 620.51 50.73C622.08 50.42 624.02 50.56 625.65 51.11C627.28 51.66 629.03 52.75 630.29 54.01C631.55 55.27 632.64 57.02 633.19 58.65C633.74 60.28 633.88 62.22 633.57 63.79C633.27 65.35 632.42 66.96 631.34 68.04Z" fill="#3a88f4"/><path d="M630.67 67.37C629.69 68.36 628.22 69.13 626.79 69.41C625.37 69.69 623.60 69.56 622.12 69.06C620.63 68.56 619.03 67.56 617.89 66.41C616.74 65.27 615.74 63.67 615.24 62.18C614.74 60.70 614.61 58.93 614.89 57.51C615.17 56.08 615.94 54.61 616.93 53.63C617.91 52.64 619.38 51.87 620.81 51.59C622.23 51.31 624.00 51.44 625.48 51.94C626.97 52.44 628.57 53.44 629.71 54.59C630.86 55.73 631.86 57.33 632.36 58.82C632.86 60.30 632.99 62.07 632.71 63.49C632.43 64.92 631.66 66.39 630.67 67.37Z" fill="#2d9ce8"/></g><path d="M630.06 66.76C629.17 67.66 627.83 68.36 626.53 68.62C625.23 68.88 623.62 68.75 622.26 68.30C620.91 67.84 619.45 66.93 618.41 65.89C617.37 64.85 616.46 63.39 616.00 62.04C615.55 60.68 615.42 59.07 615.68 57.77C615.94 56.47 616.64 55.13 617.54 54.24C618.43 53.34 619.77 52.64 621.07 52.38C622.37 52.12 623.98 52.25 625.34 52.70C626.69 53.16 628.15 54.07 629.19 55.11C630.23 56.15 631.14 57.61 631.60 58.96C632.05 60.32 632.18 61.93 631.92 63.23C631.66 64.53 630.96 65.87 630.06 66.76Z" fill="#24acd4"/><path d="M629.39 66.09C628.59 66.90 627.40 67.52 626.24 67.75C625.08 67.98 623.64 67.87 622.43 67.47C621.22 67.06 619.92 66.25 618.99 65.31C618.05 64.38 617.24 63.08 616.83 61.87C616.43 60.66 616.32 59.22 616.55 58.06C616.78 56.90 617.40 55.71 618.21 54.91C619.01 54.10 620.20 53.48 621.36 53.25C622.52 53.02 623.96 53.13 625.17 53.53C626.38 53.94 627.68 54.75 628.61 55.69C629.55 56.62 630.36 57.92 630.77 59.13C631.17 60.34 631.28 61.78 631.05 62.94C630.82 64.10 630.20 65.29 629.39 66.09Z" fill="#25bcb0"/><path d="M628.66 65.36C627.97 66.06 626.93 66.61 625.92 66.81C624.91 67.00 623.66 66.91 622.61 66.56C621.56 66.20 620.42 65.50 619.61 64.69C618.80 63.88 618.10 62.74 617.74 61.69C617.39 60.64 617.30 59.39 617.49 58.38C617.69 57.37 618.24 56.33 618.94 55.64C619.63 54.94 620.67 54.39 621.68 54.19C622.69 54.00 623.94 54.09 624.99 54.44C626.04 54.80 627.18 55.50 627.99 56.31C628.80 57.12 629.50 58.26 629.86 59.31C630.21 60.36 630.30 61.61 630.11 62.62C629.91 63.63 629.36 64.67 628.66 65.36Z" fill="#52c688"/><path d="M627.81 64.51C627.24 65.09 626.38 65.54 625.55 65.70C624.72 65.87 623.68 65.79 622.82 65.50C621.95 65.21 621.02 64.62 620.35 63.95C619.68 63.28 619.09 62.35 618.80 61.48C618.51 60.62 618.43 59.58 618.60 58.75C618.76 57.92 619.21 57.06 619.79 56.49C620.36 55.91 621.22 55.46 622.05 55.30C622.88 55.13 623.92 55.21 624.78 55.50C625.65 55.79 626.58 56.38 627.25 57.05C627.92 57.72 628.51 58.65 628.80 59.52C629.09 60.38 629.17 61.42 629.00 62.25C628.84 63.08 628.39 63.94 627.81 64.51Z" fill="#a5cf48"/><path d="M627.02 63.72C626.56 64.19 625.87 64.55 625.20 64.68C624.54 64.81 623.71 64.75 623.01 64.51C622.31 64.28 621.56 63.81 621.03 63.27C620.49 62.74 620.02 61.99 619.79 61.29C619.55 60.59 619.49 59.76 619.62 59.10C619.75 58.43 620.11 57.74 620.58 57.28C621.04 56.81 621.73 56.45 622.40 56.32C623.06 56.19 623.89 56.25 624.59 56.49C625.29 56.72 626.04 57.19 626.57 57.73C627.11 58.26 627.58 59.01 627.81 59.71C628.05 60.41 628.11 61.24 627.98 61.90C627.85 62.57 627.49 63.26 627.02 63.72Z" fill="#ecd42a"/><path d="M626.23 62.93C625.88 63.28 625.36 63.55 624.86 63.65C624.36 63.75 623.73 63.71 623.20 63.53C622.68 63.35 622.11 63.00 621.71 62.59C621.30 62.19 620.95 61.62 620.77 61.10C620.59 60.57 620.55 59.94 620.65 59.44C620.75 58.94 621.02 58.42 621.37 58.07C621.72 57.72 622.24 57.45 622.74 57.35C623.24 57.25 623.87 57.29 624.40 57.47C624.92 57.65 625.49 58.00 625.89 58.41C626.30 58.81 626.65 59.38 626.83 59.90C627.01 60.43 627.05 61.06 626.95 61.56C626.85 62.06 626.58 62.58 626.23 62.93Z" fill="#fdd227"/><path d="M624.96 61.66C624.79 61.82 624.54 61.95 624.30 62.00C624.06 62.04 623.77 62.02 623.52 61.94C623.27 61.85 623.00 61.69 622.81 61.49C622.61 61.30 622.45 61.03 622.36 60.78C622.28 60.53 622.26 60.24 622.30 60.00C622.35 59.76 622.48 59.51 622.64 59.34C622.81 59.18 623.06 59.05 623.30 59.00C623.54 58.96 623.83 58.98 624.08 59.06C624.33 59.15 624.60 59.31 624.79 59.51C624.99 59.70 625.15 59.97 625.24 60.22C625.32 60.47 625.34 60.76 625.30 61.00C625.25 61.24 625.12 61.49 624.96 61.66Z" fill="#ffbc2d"/></g>
</g>
<path d="M603.67 36.60C604.60 36.46 606.01 36.73 607.27 37.18C608.54 37.63 610.04 38.30 611.24 39.29C612.44 40.29 613.74 41.94 614.48 43.14C615.21 44.34 615.59 45.30 615.65 46.50C615.71 47.70 615.36 49.27 614.84 50.35C614.31 51.42 613.49 52.45 612.50 52.94C611.51 53.44 609.90 53.28 608.90 53.33C607.89 53.38 607.26 53.12 606.46 53.23C605.67 53.34 604.86 54.05 604.12 54.00C603.39 53.95 602.62 53.76 602.05 52.94C601.48 52.13 601.00 50.30 600.70 49.10C600.40 47.90 600.25 47.14 600.25 45.73C600.25 44.32 600.46 41.92 600.70 40.64C600.94 39.36 601.20 38.71 601.69 38.04C602.19 37.37 602.74 36.74 603.67 36.60Z" fill="none" stroke="#ee1c2e" stroke-width="1.25"/>
<rect x="589.6" y="20.5" width="60.8" height="63.6" fill="none" stroke="#231f20" stroke-width="1"/>
<text x="596.4" y="96.4" font-size="9.65" text-anchor="middle" fill="#231f20">1.5</text>
<text x="623.4" y="96.4" font-size="9.65" text-anchor="middle" fill="#231f20">2.5</text>
<text x="650.4" y="96.4" font-size="9.65" text-anchor="middle" fill="#231f20">3.5</text>
<text x="585.2" y="34.8" font-size="9.65" text-anchor="end" fill="#231f20">0.8</text>
<text x="585.2" y="56.0" font-size="9.65" text-anchor="end" fill="#231f20">0.7</text>
<text x="585.2" y="77.2" font-size="9.65" text-anchor="end" fill="#231f20">0.6</text>
<path d="M596.36 84.10v-1.3M596.36 20.50v1.3M623.38 84.10v-1.3M623.38 20.50v1.3M589.60 31.10h1.3M650.40 31.10h-1.3M589.60 52.30h1.3M650.40 52.30h-1.3M589.60 73.50h1.3M650.40 73.50h-1.3" stroke="#231f20" stroke-width="0.8" fill="none"/>
<text x="619.7" y="12.9" font-size="11.15" text-anchor="middle" fill="#231f20">8 mg/L</text>
</g>
<text x="654.3" y="55.9" font-size="11.15" fill="#231f20">18397</text>
<g>
<clipPath id="cp10"><rect x="52.1" y="111.2" width="60.8" height="63.6"/></clipPath>
<g clip-path="url(#cp10)">
<path d="M90.10 130.20C90.10 132.53 89.29 135.18 87.96 137.20C86.62 139.22 84.41 141.16 82.10 142.32C79.79 143.49 76.77 144.20 74.10 144.20C71.43 144.20 68.41 143.49 66.10 142.32C63.79 141.16 61.58 139.22 60.24 137.20C58.91 135.18 58.10 132.53 58.10 130.20C58.10 127.87 58.91 125.22 60.24 123.20C61.58 121.18 63.79 119.24 66.10 118.08C68.41 116.91 71.43 116.20 74.10 116.20C76.77 116.20 79.79 116.91 82.10 118.08C84.41 119.24 86.62 121.18 87.96 123.20C89.29 125.22 90.10 127.87 90.10 130.20Z" fill="#b8bcff" fill-opacity="0.28" filter="url(#sp)"/>
<path d="M66.96 110.76C68.36 111.06 69.56 112.46 71.16 113.76C72.76 115.06 74.76 116.86 76.56 118.56C78.36 120.26 80.36 122.26 81.96 123.96C83.56 125.66 86.16 127.16 86.16 128.76C86.16 130.36 83.66 131.86 81.96 133.56C80.26 135.26 78.16 137.26 75.96 138.96C73.76 140.66 70.86 142.46 68.76 143.76C66.66 145.06 64.70 147.16 63.36 146.76C62.02 146.36 61.38 143.46 60.72 141.36C60.06 139.26 59.66 136.96 59.40 134.16C59.14 131.36 59.00 127.56 59.16 124.56C59.32 121.56 59.76 118.26 60.36 116.16C60.96 114.06 61.66 112.86 62.76 111.96C63.86 111.06 65.56 110.46 66.96 110.76Z" fill="#a9adff" fill-opacity="0.40" filter="url(#bl2)"/><path d="M67.38 112.67C68.62 112.94 69.69 114.19 71.12 115.35C72.55 116.51 74.33 118.11 75.94 119.63C77.54 121.14 79.32 122.93 80.75 124.44C82.18 125.96 84.50 127.29 84.50 128.72C84.50 130.15 82.27 131.49 80.75 133.00C79.24 134.52 77.36 136.30 75.40 137.82C73.44 139.33 70.85 140.94 68.98 142.10C67.11 143.26 65.36 145.13 64.17 144.77C62.97 144.41 62.40 141.83 61.81 139.96C61.22 138.08 60.87 136.03 60.63 133.54C60.40 131.04 60.28 127.65 60.42 124.98C60.56 122.30 60.96 119.36 61.49 117.49C62.03 115.61 62.65 114.54 63.63 113.74C64.61 112.94 66.13 112.40 67.38 112.67Z" fill="#8c94ff" fill-opacity="0.60" filter="url(#ro2)"/><g filter="url(#ro)" opacity="1.00"><clipPath id="k7"><path d="M67.76 114.44C68.87 114.67 69.82 115.78 71.08 116.81C72.35 117.84 73.94 119.26 75.36 120.61C76.78 121.96 78.37 123.54 79.63 124.89C80.90 126.23 82.96 127.42 82.96 128.69C82.96 129.95 80.98 131.14 79.63 132.49C78.29 133.83 76.63 135.41 74.88 136.76C73.14 138.11 70.85 139.53 69.19 140.56C67.52 141.59 65.97 143.25 64.91 142.94C63.85 142.62 63.34 140.32 62.82 138.66C62.30 137.00 61.98 135.18 61.77 132.96C61.57 130.74 61.46 127.74 61.59 125.36C61.71 122.99 62.06 120.37 62.53 118.71C63.01 117.05 63.56 116.10 64.44 115.39C65.31 114.67 66.65 114.20 67.76 114.44Z"/></clipPath><path d="M67.76 114.44C68.87 114.67 69.82 115.78 71.08 116.81C72.35 117.84 73.94 119.26 75.36 120.61C76.78 121.96 78.37 123.54 79.63 124.89C80.90 126.23 82.96 127.42 82.96 128.69C82.96 129.95 80.98 131.14 79.63 132.49C78.29 133.83 76.63 135.41 74.88 136.76C73.14 138.11 70.85 139.53 69.19 140.56C67.52 141.59 65.97 143.25 64.91 142.94C63.85 142.62 63.34 140.32 62.82 138.66C62.30 137.00 61.98 135.18 61.77 132.96C61.57 130.74 61.46 127.74 61.59 125.36C61.71 122.99 62.06 120.37 62.53 118.71C63.01 117.05 63.56 116.10 64.44 115.39C65.31 114.67 66.65 114.20 67.76 114.44Z" fill="#5062ff"/><g clip-path="url(#k7)"><path d="M68.10 116.05C69.76 116.14 71.77 116.38 73.64 117.47C75.51 118.55 77.81 120.68 79.32 122.58C80.83 124.47 82.42 127.05 82.73 128.83C83.04 130.60 82.25 131.97 81.17 133.23C80.08 134.48 78.07 135.52 76.20 136.35C74.33 137.18 71.72 137.54 69.95 138.20C68.17 138.86 66.59 139.90 65.55 140.33C64.50 140.75 64.34 141.20 63.70 140.75C63.06 140.30 62.35 139.10 61.71 137.63C61.07 136.16 60.27 133.84 59.87 131.95C59.46 130.06 59.20 128.16 59.30 126.27C59.39 124.38 59.70 122.15 60.43 120.59C61.17 119.03 62.42 117.66 63.70 116.90C64.98 116.14 66.45 115.95 68.10 116.05Z" fill="#4672fb"/><path d="M68.42 117.53C69.88 117.61 71.65 117.82 73.30 118.78C74.95 119.73 76.97 121.61 78.30 123.28C79.63 124.94 81.03 127.21 81.30 128.78C81.57 130.34 80.88 131.55 79.92 132.65C78.97 133.75 77.20 134.67 75.55 135.40C73.90 136.13 71.61 136.44 70.05 137.03C68.49 137.61 67.09 138.53 66.17 138.90C65.26 139.28 65.11 139.67 64.55 139.28C63.99 138.88 63.36 137.82 62.80 136.53C62.24 135.23 61.53 133.19 61.17 131.53C60.82 129.86 60.59 128.19 60.67 126.53C60.76 124.86 61.03 122.90 61.67 121.53C62.32 120.15 63.42 118.94 64.55 118.28C65.67 117.61 66.97 117.44 68.42 117.53Z" fill="#3a88f4"/><path d="M68.71 118.83C69.99 118.90 71.55 119.09 73.00 119.93C74.45 120.77 76.23 122.42 77.40 123.89C78.57 125.36 79.80 127.36 80.04 128.73C80.28 130.11 79.67 131.17 78.83 132.14C77.99 133.11 76.43 133.92 74.98 134.56C73.53 135.20 71.52 135.48 70.14 135.99C68.77 136.50 67.54 137.31 66.73 137.64C65.92 137.97 65.80 138.32 65.30 137.97C64.80 137.62 64.25 136.69 63.76 135.55C63.27 134.41 62.64 132.62 62.33 131.15C62.02 129.68 61.82 128.22 61.89 126.75C61.96 125.28 62.20 123.56 62.77 122.35C63.34 121.14 64.31 120.08 65.30 119.49C66.29 118.90 67.43 118.76 68.71 118.83Z" fill="#2d9ce8"/></g><path d="M68.96 119.96C70.09 120.03 71.46 120.19 72.74 120.93C74.02 121.67 75.59 123.13 76.62 124.42C77.65 125.72 78.74 127.48 78.95 128.69C79.16 129.90 78.62 130.84 77.88 131.70C77.14 132.55 75.76 133.27 74.49 133.83C73.21 134.40 71.43 134.64 70.22 135.09C69.01 135.55 67.92 136.26 67.21 136.55C66.50 136.84 66.39 137.15 65.95 136.84C65.51 136.53 65.03 135.71 64.59 134.71C64.16 133.70 63.61 132.12 63.33 130.83C63.06 129.53 62.88 128.24 62.94 126.95C63.01 125.65 63.22 124.13 63.72 123.07C64.22 122.00 65.08 121.06 65.95 120.54C66.82 120.03 67.83 119.90 68.96 119.96Z" fill="#24acd4"/><path d="M69.15 120.83C70.16 120.89 71.39 121.03 72.54 121.70C73.69 122.37 75.09 123.67 76.02 124.83C76.95 125.99 77.92 127.57 78.11 128.66C78.30 129.75 77.82 130.59 77.15 131.36C76.48 132.13 75.25 132.76 74.11 133.27C72.96 133.78 71.37 134.00 70.28 134.40C69.19 134.81 68.22 135.45 67.58 135.71C66.94 135.97 66.84 136.24 66.45 135.97C66.06 135.69 65.62 134.95 65.23 134.06C64.84 133.16 64.35 131.74 64.10 130.58C63.85 129.42 63.70 128.25 63.75 127.09C63.81 125.94 64.00 124.57 64.45 123.62C64.90 122.66 65.67 121.82 66.45 121.35C67.23 120.89 68.13 120.77 69.15 120.83Z" fill="#25bcb0"/><path d="M69.34 121.70C70.24 121.75 71.33 121.88 72.34 122.47C73.35 123.06 74.60 124.22 75.42 125.24C76.24 126.27 77.10 127.67 77.27 128.63C77.43 129.59 77.01 130.34 76.42 131.02C75.83 131.70 74.74 132.26 73.73 132.71C72.71 133.16 71.30 133.35 70.34 133.71C69.38 134.07 68.52 134.64 67.95 134.87C67.39 135.10 67.30 135.34 66.95 135.10C66.60 134.86 66.22 134.20 65.87 133.41C65.53 132.61 65.09 131.35 64.87 130.33C64.65 129.30 64.51 128.27 64.56 127.25C64.61 126.22 64.78 125.01 65.18 124.17C65.58 123.32 66.26 122.57 66.95 122.16C67.64 121.75 68.44 121.65 69.34 121.70Z" fill="#52c688"/><path d="M69.53 122.57C70.31 122.62 71.26 122.73 72.14 123.24C73.02 123.75 74.11 124.76 74.82 125.65C75.53 126.55 76.28 127.76 76.43 128.60C76.57 129.44 76.20 130.09 75.69 130.68C75.18 131.27 74.23 131.76 73.35 132.15C72.46 132.54 71.24 132.71 70.40 133.02C69.56 133.34 68.81 133.83 68.32 134.03C67.83 134.23 67.75 134.44 67.45 134.23C67.15 134.02 66.81 133.45 66.51 132.75C66.21 132.06 65.83 130.97 65.64 130.08C65.45 129.18 65.33 128.29 65.37 127.40C65.42 126.50 65.56 125.45 65.91 124.72C66.26 123.98 66.85 123.33 67.45 122.97C68.05 122.62 68.75 122.53 69.53 122.57Z" fill="#a5cf48"/><path d="M69.72 123.44C70.38 123.48 71.19 123.57 71.94 124.01C72.69 124.45 73.61 125.30 74.22 126.06C74.83 126.82 75.46 127.86 75.59 128.57C75.71 129.28 75.40 129.83 74.96 130.34C74.52 130.84 73.72 131.26 72.97 131.59C72.22 131.92 71.17 132.07 70.46 132.33C69.75 132.60 69.11 133.02 68.69 133.19C68.27 133.36 68.21 133.54 67.95 133.36C67.69 133.18 67.41 132.69 67.15 132.11C66.90 131.52 66.57 130.59 66.41 129.83C66.25 129.07 66.14 128.31 66.18 127.55C66.22 126.78 66.34 125.89 66.64 125.27C66.93 124.64 67.44 124.09 67.95 123.78C68.46 123.48 69.05 123.40 69.72 123.44Z" fill="#ecd42a"/><path d="M69.98 124.66C70.48 124.69 71.09 124.76 71.66 125.09C72.23 125.42 72.92 126.06 73.38 126.64C73.84 127.21 74.32 127.99 74.41 128.53C74.51 129.07 74.27 129.48 73.94 129.86C73.61 130.24 73.00 130.56 72.43 130.81C71.87 131.06 71.08 131.17 70.54 131.37C70.00 131.57 69.52 131.88 69.21 132.01C68.89 132.14 68.84 132.28 68.65 132.14C68.46 132.00 68.24 131.64 68.05 131.19C67.85 130.75 67.61 130.05 67.49 129.47C67.37 128.90 67.29 128.33 67.32 127.76C67.35 127.18 67.44 126.51 67.66 126.04C67.88 125.56 68.26 125.15 68.65 124.92C69.04 124.69 69.48 124.63 69.98 124.66Z" fill="#fdd227"/><path d="M70.40 126.57C70.65 126.59 70.94 126.62 71.22 126.78C71.50 126.94 71.84 127.26 72.06 127.54C72.28 127.82 72.52 128.20 72.56 128.46C72.61 128.73 72.49 128.93 72.33 129.11C72.17 129.30 71.87 129.45 71.60 129.58C71.32 129.70 70.94 129.75 70.67 129.85C70.41 129.95 70.18 130.10 70.02 130.16C69.87 130.23 69.84 130.29 69.75 130.23C69.66 130.16 69.55 129.98 69.46 129.77C69.36 129.55 69.24 129.21 69.18 128.93C69.12 128.65 69.09 128.37 69.10 128.09C69.11 127.81 69.16 127.48 69.27 127.25C69.38 127.01 69.56 126.81 69.75 126.70C69.94 126.59 70.16 126.56 70.40 126.57Z" fill="#ffbc2d"/></g>
</g>
<path d="M68.90 119.70C70.07 119.77 71.48 119.93 72.80 120.70C74.12 121.47 75.73 122.97 76.80 124.30C77.87 125.63 78.98 127.45 79.20 128.70C79.42 129.95 78.87 130.92 78.10 131.80C77.33 132.68 75.92 133.42 74.60 134.00C73.28 134.58 71.45 134.83 70.20 135.30C68.95 135.77 67.83 136.50 67.10 136.80C66.37 137.10 66.25 137.42 65.80 137.10C65.35 136.78 64.85 135.93 64.40 134.90C63.95 133.87 63.38 132.23 63.10 130.90C62.82 129.57 62.63 128.23 62.70 126.90C62.77 125.57 62.98 124.00 63.50 122.90C64.02 121.80 64.90 120.83 65.80 120.30C66.70 119.77 67.73 119.63 68.90 119.70Z" fill="none" stroke="#c61f38" stroke-width="1.05"/>
<rect x="52.1" y="111.2" width="60.8" height="63.6" fill="none" stroke="#231f20" stroke-width="1"/>
<text x="58.9" y="187.1" font-size="9.65" text-anchor="middle" fill="#231f20">1.5</text>
<text x="85.9" y="187.1" font-size="9.65" text-anchor="middle" fill="#231f20">2.5</text>
<text x="112.9" y="187.1" font-size="9.65" text-anchor="middle" fill="#231f20">3.5</text>
<text x="47.7" y="125.5" font-size="9.65" text-anchor="end" fill="#231f20">0.8</text>
<text x="47.7" y="146.7" font-size="9.65" text-anchor="end" fill="#231f20">0.7</text>
<text x="47.7" y="167.9" font-size="9.65" text-anchor="end" fill="#231f20">0.6</text>
<path d="M58.86 174.80v-1.3M58.86 111.20v1.3M85.88 174.80v-1.3M85.88 111.20v1.3M52.10 121.80h1.3M112.90 121.80h-1.3M52.10 143.00h1.3M112.90 143.00h-1.3M52.10 164.20h1.3M112.90 164.20h-1.3" stroke="#231f20" stroke-width="0.8" fill="none"/>
</g>
<g>
<clipPath id="cp11"><rect x="141.5" y="111.2" width="60.8" height="63.6"/></clipPath>
<g clip-path="url(#cp11)">
<path d="M179.50 130.20C179.50 132.53 178.69 135.18 177.36 137.20C176.02 139.22 173.81 141.16 171.50 142.32C169.19 143.49 166.17 144.20 163.50 144.20C160.83 144.20 157.81 143.49 155.50 142.32C153.19 141.16 150.98 139.22 149.64 137.20C148.31 135.18 147.50 132.53 147.50 130.20C147.50 127.87 148.31 125.22 149.64 123.20C150.98 121.18 153.19 119.24 155.50 118.08C157.81 116.91 160.83 116.20 163.50 116.20C166.17 116.20 169.19 116.91 171.50 118.08C173.81 119.24 176.02 121.18 177.36 123.20C178.69 125.22 179.50 127.87 179.50 130.20Z" fill="#b8bcff" fill-opacity="0.28" filter="url(#sp)"/>
<path d="M156.36 110.76C157.76 111.06 158.96 112.46 160.56 113.76C162.16 115.06 164.16 116.86 165.96 118.56C167.76 120.26 169.76 122.26 171.36 123.96C172.96 125.66 175.56 127.16 175.56 128.76C175.56 130.36 173.06 131.86 171.36 133.56C169.66 135.26 167.56 137.26 165.36 138.96C163.16 140.66 160.26 142.46 158.16 143.76C156.06 145.06 154.10 147.16 152.76 146.76C151.42 146.36 150.78 143.46 150.12 141.36C149.46 139.26 149.06 136.96 148.80 134.16C148.54 131.36 148.40 127.56 148.56 124.56C148.72 121.56 149.16 118.26 149.76 116.16C150.36 114.06 151.06 112.86 152.16 111.96C153.26 111.06 154.96 110.46 156.36 110.76Z" fill="#a9adff" fill-opacity="0.40" filter="url(#bl2)"/><path d="M156.78 112.67C158.02 112.94 159.09 114.19 160.52 115.35C161.95 116.51 163.73 118.11 165.34 119.63C166.94 121.14 168.72 122.93 170.15 124.44C171.58 125.96 173.90 127.29 173.90 128.72C173.90 130.15 171.67 131.49 170.15 133.00C168.64 134.52 166.76 136.30 164.80 137.82C162.84 139.33 160.25 140.94 158.38 142.10C156.51 143.26 154.76 145.13 153.57 144.77C152.37 144.41 151.80 141.83 151.21 139.96C150.62 138.08 150.27 136.03 150.03 133.54C149.80 131.04 149.68 127.65 149.82 124.98C149.96 122.30 150.36 119.36 150.89 117.49C151.43 115.61 152.05 114.54 153.03 113.74C154.01 112.94 155.53 112.40 156.78 112.67Z" fill="#8c94ff" fill-opacity="0.60" filter="url(#ro2)"/><g filter="url(#ro)" opacity="1.00"><clipPath id="k8"><path d="M157.16 114.44C158.27 114.67 159.22 115.78 160.48 116.81C161.75 117.84 163.33 119.26 164.76 120.61C166.19 121.96 167.77 123.54 169.03 124.89C170.30 126.23 172.36 127.42 172.36 128.69C172.36 129.95 170.38 131.14 169.03 132.49C167.69 133.83 166.03 135.41 164.28 136.76C162.54 138.11 160.25 139.53 158.58 140.56C156.92 141.59 155.37 143.25 154.31 142.94C153.25 142.62 152.74 140.32 152.22 138.66C151.70 137.00 151.38 135.18 151.17 132.96C150.97 130.74 150.86 127.74 150.98 125.36C151.11 122.99 151.46 120.37 151.94 118.71C152.41 117.05 152.96 116.10 153.83 115.39C154.71 114.67 156.05 114.20 157.16 114.44Z"/></clipPath><path d="M157.16 114.44C158.27 114.67 159.22 115.78 160.48 116.81C161.75 117.84 163.33 119.26 164.76 120.61C166.19 121.96 167.77 123.54 169.03 124.89C170.30 126.23 172.36 127.42 172.36 128.69C172.36 129.95 170.38 131.14 169.03 132.49C167.69 133.83 166.03 135.41 164.28 136.76C162.54 138.11 160.25 139.53 158.58 140.56C156.92 141.59 155.37 143.25 154.31 142.94C153.25 142.62 152.74 140.32 152.22 138.66C151.70 137.00 151.38 135.18 151.17 132.96C150.97 130.74 150.86 127.74 150.98 125.36C151.11 122.99 151.46 120.37 151.94 118.71C152.41 117.05 152.96 116.10 153.83 115.39C154.71 114.67 156.05 114.20 157.16 114.44Z" fill="#5062ff"/><g clip-path="url(#k8)"><path d="M157.50 116.05C159.16 116.14 161.17 116.38 163.04 117.47C164.91 118.55 167.21 120.68 168.72 122.58C170.23 124.47 171.82 127.05 172.13 128.83C172.44 130.60 171.65 131.97 170.57 133.23C169.48 134.48 167.47 135.52 165.60 136.35C163.73 137.18 161.12 137.54 159.35 138.20C157.57 138.86 155.99 139.90 154.95 140.33C153.90 140.75 153.74 141.20 153.10 140.75C152.46 140.30 151.75 139.10 151.11 137.63C150.47 136.16 149.67 133.84 149.27 131.95C148.86 130.06 148.60 128.16 148.70 126.27C148.79 124.38 149.10 122.15 149.83 120.59C150.57 119.03 151.82 117.66 153.10 116.90C154.38 116.14 155.85 115.95 157.50 116.05Z" fill="#4672fb"/><path d="M157.82 117.53C159.28 117.61 161.05 117.82 162.70 118.78C164.35 119.73 166.37 121.61 167.70 123.28C169.03 124.94 170.43 127.21 170.70 128.78C170.97 130.34 170.28 131.55 169.32 132.65C168.37 133.75 166.60 134.67 164.95 135.40C163.30 136.13 161.01 136.44 159.45 137.03C157.89 137.61 156.49 138.53 155.57 138.90C154.66 139.28 154.51 139.67 153.95 139.28C153.39 138.88 152.76 137.82 152.20 136.53C151.64 135.23 150.93 133.19 150.57 131.53C150.22 129.86 149.99 128.19 150.07 126.53C150.16 124.86 150.43 122.90 151.07 121.53C151.72 120.15 152.82 118.94 153.95 118.28C155.07 117.61 156.37 117.44 157.82 117.53Z" fill="#3a88f4"/><path d="M158.11 118.83C159.39 118.90 160.95 119.09 162.40 119.93C163.85 120.77 165.63 122.42 166.80 123.89C167.97 125.36 169.20 127.36 169.44 128.73C169.68 130.11 169.07 131.17 168.23 132.14C167.39 133.11 165.83 133.92 164.38 134.56C162.93 135.20 160.91 135.48 159.54 135.99C158.16 136.50 156.94 137.31 156.13 137.64C155.32 137.97 155.19 138.32 154.70 137.97C154.20 137.62 153.66 136.69 153.16 135.55C152.66 134.41 152.04 132.62 151.73 131.15C151.42 129.68 151.22 128.22 151.29 126.75C151.36 125.28 151.60 123.56 152.17 122.35C152.74 121.14 153.71 120.08 154.70 119.49C155.69 118.90 156.83 118.76 158.11 118.83Z" fill="#2d9ce8"/></g><path d="M158.36 119.96C159.49 120.03 160.86 120.19 162.14 120.93C163.42 121.67 164.99 123.13 166.02 124.42C167.05 125.72 168.14 127.48 168.35 128.69C168.56 129.90 168.02 130.84 167.28 131.70C166.54 132.55 165.16 133.27 163.89 133.83C162.61 134.40 160.83 134.64 159.62 135.09C158.41 135.55 157.32 136.26 156.61 136.55C155.90 136.84 155.79 137.15 155.35 136.84C154.91 136.53 154.43 135.71 153.99 134.71C153.56 133.70 153.01 132.12 152.73 130.83C152.46 129.53 152.28 128.24 152.34 126.95C152.41 125.65 152.62 124.13 153.12 123.07C153.62 122.00 154.48 121.06 155.35 120.54C156.22 120.03 157.23 119.90 158.36 119.96Z" fill="#24acd4"/><path d="M158.55 120.83C159.56 120.89 160.79 121.03 161.94 121.70C163.09 122.37 164.49 123.67 165.42 124.83C166.35 125.99 167.32 127.57 167.51 128.66C167.70 129.75 167.22 130.59 166.55 131.36C165.88 132.13 164.65 132.76 163.51 133.27C162.36 133.78 160.77 134.00 159.68 134.40C158.59 134.81 157.62 135.45 156.98 135.71C156.34 135.97 156.24 136.24 155.85 135.97C155.46 135.69 155.02 134.95 154.63 134.06C154.24 133.16 153.75 131.74 153.50 130.58C153.25 129.42 153.09 128.25 153.15 127.09C153.21 125.94 153.40 124.57 153.85 123.62C154.30 122.66 155.07 121.82 155.85 121.35C156.63 120.89 157.53 120.77 158.55 120.83Z" fill="#25bcb0"/><path d="M158.74 121.70C159.64 121.75 160.73 121.88 161.74 122.47C162.75 123.06 164.00 124.22 164.82 125.24C165.64 126.27 166.50 127.67 166.67 128.63C166.83 129.59 166.41 130.34 165.82 131.02C165.23 131.70 164.14 132.26 163.13 132.71C162.11 133.16 160.70 133.35 159.74 133.71C158.78 134.07 157.92 134.64 157.35 134.87C156.79 135.10 156.70 135.34 156.35 135.10C156.00 134.86 155.62 134.20 155.27 133.41C154.93 132.61 154.49 131.35 154.27 130.33C154.05 129.30 153.91 128.27 153.96 127.25C154.01 126.22 154.18 125.01 154.58 124.17C154.98 123.32 155.66 122.57 156.35 122.16C157.04 121.75 157.84 121.65 158.74 121.70Z" fill="#52c688"/><path d="M158.93 122.57C159.71 122.62 160.66 122.73 161.54 123.24C162.42 123.75 163.51 124.76 164.22 125.65C164.93 126.55 165.68 127.76 165.83 128.60C165.97 129.44 165.60 130.09 165.09 130.68C164.58 131.27 163.63 131.76 162.75 132.15C161.86 132.54 160.64 132.71 159.80 133.02C158.96 133.34 158.21 133.83 157.72 134.03C157.23 134.23 157.15 134.44 156.85 134.23C156.55 134.02 156.21 133.45 155.91 132.75C155.61 132.06 155.23 130.97 155.04 130.08C154.85 129.18 154.73 128.29 154.77 127.40C154.82 126.50 154.96 125.45 155.31 124.72C155.66 123.98 156.25 123.33 156.85 122.97C157.45 122.62 158.15 122.53 158.93 122.57Z" fill="#a5cf48"/><path d="M159.12 123.44C159.78 123.48 160.59 123.57 161.34 124.01C162.09 124.45 163.01 125.30 163.62 126.06C164.23 126.82 164.86 127.86 164.99 128.57C165.11 129.28 164.80 129.83 164.36 130.34C163.92 130.84 163.12 131.26 162.37 131.59C161.62 131.92 160.57 132.07 159.86 132.33C159.15 132.60 158.51 133.02 158.09 133.19C157.67 133.36 157.61 133.54 157.35 133.36C157.09 133.18 156.81 132.69 156.55 132.11C156.30 131.52 155.97 130.59 155.81 129.83C155.65 129.07 155.54 128.31 155.58 127.55C155.62 126.78 155.74 125.89 156.04 125.27C156.33 124.64 156.84 124.09 157.35 123.78C157.86 123.48 158.45 123.40 159.12 123.44Z" fill="#ecd42a"/><path d="M159.38 124.66C159.88 124.69 160.49 124.76 161.06 125.09C161.63 125.42 162.32 126.06 162.78 126.64C163.24 127.21 163.72 127.99 163.81 128.53C163.91 129.07 163.67 129.48 163.34 129.86C163.01 130.24 162.40 130.56 161.83 130.81C161.27 131.06 160.48 131.17 159.94 131.37C159.40 131.57 158.92 131.88 158.61 132.01C158.29 132.14 158.24 132.28 158.05 132.14C157.86 132.00 157.64 131.64 157.45 131.19C157.25 130.75 157.01 130.05 156.89 129.47C156.77 128.90 156.69 128.33 156.72 127.76C156.75 127.18 156.84 126.51 157.06 126.04C157.28 125.56 157.66 125.15 158.05 124.92C158.44 124.69 158.88 124.63 159.38 124.66Z" fill="#fdd227"/><path d="M159.80 126.57C160.05 126.59 160.34 126.62 160.62 126.78C160.90 126.94 161.24 127.26 161.46 127.54C161.68 127.82 161.92 128.20 161.96 128.46C162.01 128.73 161.89 128.93 161.73 129.11C161.57 129.30 161.27 129.45 161.00 129.58C160.72 129.70 160.34 129.75 160.07 129.85C159.81 129.95 159.58 130.10 159.42 130.16C159.27 130.23 159.24 130.29 159.15 130.23C159.06 130.16 158.95 129.98 158.86 129.77C158.76 129.55 158.64 129.21 158.58 128.93C158.52 128.65 158.48 128.37 158.50 128.09C158.51 127.81 158.56 127.48 158.67 127.25C158.78 127.01 158.96 126.81 159.15 126.70C159.34 126.59 159.56 126.56 159.80 126.57Z" fill="#ffbc2d"/></g>
</g>
<path d="M158.30 119.70C159.47 119.77 160.88 119.93 162.20 120.70C163.52 121.47 165.13 122.97 166.20 124.30C167.27 125.63 168.38 127.45 168.60 128.70C168.82 129.95 168.27 130.92 167.50 131.80C166.73 132.68 165.32 133.42 164.00 134.00C162.68 134.58 160.85 134.83 159.60 135.30C158.35 135.77 157.23 136.50 156.50 136.80C155.77 137.10 155.65 137.42 155.20 137.10C154.75 136.78 154.25 135.93 153.80 134.90C153.35 133.87 152.78 132.23 152.50 130.90C152.22 129.57 152.03 128.23 152.10 126.90C152.17 125.57 152.38 124.00 152.90 122.90C153.42 121.80 154.30 120.83 155.20 120.30C156.10 119.77 157.13 119.63 158.30 119.70Z" fill="none" stroke="#c61f38" stroke-width="1.05"/>
<rect x="141.5" y="111.2" width="60.8" height="63.6" fill="none" stroke="#231f20" stroke-width="1"/>
<text x="148.3" y="187.1" font-size="9.65" text-anchor="middle" fill="#231f20">1.5</text>
<text x="175.3" y="187.1" font-size="9.65" text-anchor="middle" fill="#231f20">2.5</text>
<text x="202.3" y="187.1" font-size="9.65" text-anchor="middle" fill="#231f20">3.5</text>
<text x="137.1" y="125.5" font-size="9.65" text-anchor="end" fill="#231f20">0.8</text>
<text x="137.1" y="146.7" font-size="9.65" text-anchor="end" fill="#231f20">0.7</text>
<text x="137.1" y="167.9" font-size="9.65" text-anchor="end" fill="#231f20">0.6</text>
<path d="M148.26 174.80v-1.3M148.26 111.20v1.3M175.28 174.80v-1.3M175.28 111.20v1.3M141.50 121.80h1.3M202.30 121.80h-1.3M141.50 143.00h1.3M202.30 143.00h-1.3M141.50 164.20h1.3M202.30 164.20h-1.3" stroke="#231f20" stroke-width="0.8" fill="none"/>
</g>
<g>
<clipPath id="cp12"><rect x="230.4" y="111.2" width="60.8" height="63.6"/></clipPath>
<g clip-path="url(#cp12)">
<path d="M268.40 130.20C268.40 132.53 267.59 135.18 266.26 137.20C264.92 139.22 262.71 141.16 260.40 142.32C258.09 143.49 255.07 144.20 252.40 144.20C249.73 144.20 246.71 143.49 244.40 142.32C242.09 141.16 239.88 139.22 238.54 137.20C237.21 135.18 236.40 132.53 236.40 130.20C236.40 127.87 237.21 125.22 238.54 123.20C239.88 121.18 242.09 119.24 244.40 118.08C246.71 116.91 249.73 116.20 252.40 116.20C255.07 116.20 258.09 116.91 260.40 118.08C262.71 119.24 264.92 121.18 266.26 123.20C267.59 125.22 268.40 127.87 268.40 130.20Z" fill="#b8bcff" fill-opacity="0.28" filter="url(#sp)"/>
<path d="M245.26 110.76C246.66 111.06 247.86 112.46 249.46 113.76C251.06 115.06 253.06 116.86 254.86 118.56C256.66 120.26 258.66 122.26 260.26 123.96C261.86 125.66 264.46 127.16 264.46 128.76C264.46 130.36 261.96 131.86 260.26 133.56C258.56 135.26 256.46 137.26 254.26 138.96C252.06 140.66 249.16 142.46 247.06 143.76C244.96 145.06 243.00 147.16 241.66 146.76C240.32 146.36 239.68 143.46 239.02 141.36C238.36 139.26 237.96 136.96 237.70 134.16C237.44 131.36 237.30 127.56 237.46 124.56C237.62 121.56 238.06 118.26 238.66 116.16C239.26 114.06 239.96 112.86 241.06 111.96C242.16 111.06 243.86 110.46 245.26 110.76Z" fill="#a9adff" fill-opacity="0.40" filter="url(#bl2)"/><path d="M245.68 112.67C246.92 112.94 247.99 114.19 249.42 115.35C250.85 116.51 252.63 118.11 254.24 119.63C255.84 121.14 257.62 122.93 259.05 124.44C260.48 125.96 262.80 127.29 262.80 128.72C262.80 130.15 260.57 131.49 259.05 133.00C257.54 134.52 255.66 136.30 253.70 137.82C251.74 139.33 249.15 140.94 247.28 142.10C245.41 143.26 243.66 145.13 242.47 144.77C241.27 144.41 240.70 141.83 240.11 139.96C239.52 138.08 239.17 136.03 238.94 133.54C238.70 131.04 238.58 127.65 238.72 124.98C238.86 122.30 239.26 119.36 239.79 117.49C240.33 115.61 240.95 114.54 241.93 113.74C242.91 112.94 244.43 112.40 245.68 112.67Z" fill="#8c94ff" fill-opacity="0.60" filter="url(#ro2)"/><g filter="url(#ro)" opacity="1.00"><clipPath id="k9"><path d="M246.06 114.44C247.17 114.67 248.12 115.78 249.38 116.81C250.65 117.84 252.23 119.26 253.66 120.61C255.09 121.96 256.67 123.54 257.94 124.89C259.20 126.23 261.26 127.42 261.26 128.69C261.26 129.95 259.28 131.14 257.94 132.49C256.59 133.83 254.93 135.41 253.19 136.76C251.44 138.11 249.15 139.53 247.48 140.56C245.82 141.59 244.27 143.25 243.21 142.94C242.15 142.62 241.64 140.32 241.12 138.66C240.60 137.00 240.28 135.18 240.07 132.96C239.87 130.74 239.76 127.74 239.88 125.36C240.01 122.99 240.36 120.37 240.84 118.71C241.31 117.05 241.86 116.10 242.73 115.39C243.61 114.67 244.95 114.20 246.06 114.44Z"/></clipPath><path d="M246.06 114.44C247.17 114.67 248.12 115.78 249.38 116.81C250.65 117.84 252.23 119.26 253.66 120.61C255.09 121.96 256.67 123.54 257.94 124.89C259.20 126.23 261.26 127.42 261.26 128.69C261.26 129.95 259.28 131.14 257.94 132.49C256.59 133.83 254.93 135.41 253.19 136.76C251.44 138.11 249.15 139.53 247.48 140.56C245.82 141.59 244.27 143.25 243.21 142.94C242.15 142.62 241.64 140.32 241.12 138.66C240.60 137.00 240.28 135.18 240.07 132.96C239.87 130.74 239.76 127.74 239.88 125.36C240.01 122.99 240.36 120.37 240.84 118.71C241.31 117.05 241.86 116.10 242.73 115.39C243.61 114.67 244.95 114.20 246.06 114.44Z" fill="#5062ff"/><g clip-path="url(#k9)"><path d="M246.40 116.05C248.06 116.14 250.07 116.38 251.94 117.47C253.81 118.55 256.11 120.68 257.62 122.58C259.13 124.47 260.72 127.05 261.03 128.83C261.34 130.60 260.55 131.97 259.47 133.23C258.38 134.48 256.37 135.52 254.50 136.35C252.63 137.18 250.02 137.54 248.25 138.20C246.47 138.86 244.89 139.90 243.85 140.33C242.80 140.75 242.64 141.20 242.00 140.75C241.36 140.30 240.65 139.10 240.01 137.63C239.37 136.16 238.57 133.84 238.17 131.95C237.76 130.06 237.50 128.16 237.60 126.27C237.69 124.38 238.00 122.15 238.73 120.59C239.47 119.03 240.72 117.66 242.00 116.90C243.28 116.14 244.75 115.95 246.40 116.05Z" fill="#4672fb"/><path d="M246.72 117.53C248.18 117.61 249.95 117.82 251.60 118.78C253.25 119.73 255.27 121.61 256.60 123.28C257.93 124.94 259.33 127.21 259.60 128.78C259.87 130.34 259.18 131.55 258.23 132.65C257.27 133.75 255.50 134.67 253.85 135.40C252.20 136.13 249.91 136.44 248.35 137.03C246.79 137.61 245.39 138.53 244.47 138.90C243.56 139.28 243.41 139.67 242.85 139.28C242.29 138.88 241.66 137.82 241.10 136.53C240.54 135.23 239.83 133.19 239.47 131.53C239.12 129.86 238.89 128.19 238.97 126.53C239.06 124.86 239.33 122.90 239.97 121.53C240.62 120.15 241.72 118.94 242.85 118.28C243.97 117.61 245.27 117.44 246.72 117.53Z" fill="#3a88f4"/><path d="M247.01 118.83C248.29 118.90 249.85 119.09 251.30 119.93C252.75 120.77 254.53 122.42 255.70 123.89C256.87 125.36 258.10 127.36 258.34 128.73C258.58 130.11 257.97 131.17 257.13 132.14C256.29 133.11 254.73 133.92 253.28 134.56C251.83 135.20 249.81 135.48 248.44 135.99C247.06 136.50 245.84 137.31 245.03 137.64C244.22 137.97 244.09 138.32 243.60 137.97C243.10 137.62 242.56 136.69 242.06 135.55C241.56 134.41 240.94 132.62 240.63 131.15C240.32 129.68 240.12 128.22 240.19 126.75C240.26 125.28 240.50 123.56 241.07 122.35C241.64 121.14 242.61 120.08 243.60 119.49C244.59 118.90 245.73 118.76 247.01 118.83Z" fill="#2d9ce8"/></g><path d="M247.26 119.96C248.39 120.03 249.76 120.19 251.04 120.93C252.32 121.67 253.89 123.13 254.92 124.42C255.95 125.72 257.04 127.48 257.25 128.69C257.46 129.90 256.92 130.84 256.18 131.70C255.44 132.55 254.06 133.27 252.79 133.83C251.51 134.40 249.73 134.64 248.52 135.09C247.31 135.55 246.22 136.26 245.51 136.55C244.80 136.84 244.69 137.15 244.25 136.84C243.81 136.53 243.33 135.71 242.89 134.71C242.46 133.70 241.91 132.12 241.63 130.83C241.36 129.53 241.18 128.24 241.24 126.95C241.31 125.65 241.52 124.13 242.02 123.07C242.52 122.00 243.38 121.06 244.25 120.54C245.12 120.03 246.13 119.90 247.26 119.96Z" fill="#24acd4"/><path d="M247.45 120.83C248.46 120.89 249.69 121.03 250.84 121.70C251.99 122.37 253.39 123.67 254.32 124.83C255.25 125.99 256.22 127.57 256.41 128.66C256.60 129.75 256.12 130.59 255.45 131.36C254.78 132.13 253.55 132.76 252.41 133.27C251.26 133.78 249.67 134.00 248.58 134.40C247.49 134.81 246.52 135.45 245.88 135.71C245.24 135.97 245.14 136.24 244.75 135.97C244.36 135.69 243.92 134.95 243.53 134.06C243.14 133.16 242.65 131.74 242.40 130.58C242.15 129.42 242.00 128.25 242.05 127.09C242.11 125.94 242.30 124.57 242.75 123.62C243.20 122.66 243.97 121.82 244.75 121.35C245.53 120.89 246.43 120.77 247.45 120.83Z" fill="#25bcb0"/><path d="M247.64 121.70C248.54 121.75 249.63 121.88 250.64 122.47C251.65 123.06 252.90 124.22 253.72 125.24C254.54 126.27 255.40 127.67 255.57 128.63C255.73 129.59 255.31 130.34 254.72 131.02C254.13 131.70 253.04 132.26 252.03 132.71C251.01 133.16 249.60 133.35 248.64 133.71C247.68 134.07 246.82 134.64 246.25 134.87C245.69 135.10 245.60 135.34 245.25 135.10C244.90 134.86 244.52 134.20 244.17 133.41C243.83 132.61 243.39 131.35 243.17 130.33C242.95 129.30 242.81 128.27 242.86 127.25C242.91 126.22 243.08 125.01 243.48 124.17C243.88 123.32 244.56 122.57 245.25 122.16C245.94 121.75 246.74 121.65 247.64 121.70Z" fill="#52c688"/><path d="M247.83 122.57C248.61 122.62 249.56 122.73 250.44 123.24C251.32 123.75 252.41 124.76 253.12 125.65C253.83 126.55 254.58 127.76 254.73 128.60C254.87 129.44 254.50 130.09 253.99 130.68C253.48 131.27 252.53 131.76 251.65 132.15C250.76 132.54 249.54 132.71 248.70 133.02C247.86 133.34 247.11 133.83 246.62 134.03C246.13 134.23 246.05 134.44 245.75 134.23C245.45 134.02 245.11 133.45 244.81 132.75C244.51 132.06 244.13 130.97 243.94 130.08C243.75 129.18 243.63 128.29 243.67 127.40C243.72 126.50 243.86 125.45 244.21 124.72C244.56 123.98 245.15 123.33 245.75 122.97C246.35 122.62 247.05 122.53 247.83 122.57Z" fill="#a5cf48"/><path d="M248.02 123.44C248.68 123.48 249.49 123.57 250.24 124.01C250.99 124.45 251.91 125.30 252.52 126.06C253.13 126.82 253.76 127.86 253.89 128.57C254.01 129.28 253.70 129.83 253.26 130.34C252.82 130.84 252.02 131.26 251.27 131.59C250.52 131.92 249.47 132.07 248.76 132.33C248.05 132.60 247.41 133.02 246.99 133.19C246.57 133.36 246.51 133.54 246.25 133.36C245.99 133.18 245.71 132.69 245.45 132.11C245.20 131.52 244.87 130.59 244.71 129.83C244.55 129.07 244.44 128.31 244.48 127.55C244.52 126.78 244.64 125.89 244.94 125.27C245.23 124.64 245.74 124.09 246.25 123.78C246.76 123.48 247.35 123.40 248.02 123.44Z" fill="#ecd42a"/><path d="M248.28 124.66C248.78 124.69 249.39 124.76 249.96 125.09C250.53 125.42 251.22 126.06 251.68 126.64C252.14 127.21 252.62 127.99 252.71 128.53C252.81 129.07 252.57 129.48 252.24 129.86C251.91 130.24 251.30 130.56 250.73 130.81C250.17 131.06 249.38 131.17 248.84 131.37C248.30 131.57 247.82 131.88 247.51 132.01C247.19 132.14 247.14 132.28 246.95 132.14C246.76 132.00 246.54 131.64 246.35 131.19C246.15 130.75 245.91 130.05 245.79 129.47C245.67 128.90 245.59 128.33 245.62 127.76C245.65 127.18 245.74 126.51 245.96 126.04C246.18 125.56 246.56 125.15 246.95 124.92C247.34 124.69 247.78 124.63 248.28 124.66Z" fill="#fdd227"/><path d="M248.70 126.57C248.95 126.59 249.24 126.62 249.52 126.78C249.80 126.94 250.14 127.26 250.36 127.54C250.58 127.82 250.82 128.20 250.86 128.46C250.91 128.73 250.79 128.93 250.63 129.11C250.47 129.30 250.17 129.45 249.90 129.58C249.62 129.70 249.24 129.75 248.97 129.85C248.71 129.95 248.48 130.10 248.32 130.16C248.17 130.23 248.14 130.29 248.05 130.23C247.96 130.16 247.85 129.98 247.76 129.77C247.66 129.55 247.54 129.21 247.48 128.93C247.42 128.65 247.38 128.37 247.40 128.09C247.41 127.81 247.46 127.48 247.57 127.25C247.68 127.01 247.86 126.81 248.05 126.70C248.24 126.59 248.46 126.56 248.70 126.57Z" fill="#ffbc2d"/></g>
</g>
<path d="M247.20 119.70C248.37 119.77 249.78 119.93 251.10 120.70C252.42 121.47 254.03 122.97 255.10 124.30C256.17 125.63 257.28 127.45 257.50 128.70C257.72 129.95 257.17 130.92 256.40 131.80C255.63 132.68 254.22 133.42 252.90 134.00C251.58 134.58 249.75 134.83 248.50 135.30C247.25 135.77 246.13 136.50 245.40 136.80C244.67 137.10 244.55 137.42 244.10 137.10C243.65 136.78 243.15 135.93 242.70 134.90C242.25 133.87 241.68 132.23 241.40 130.90C241.12 129.57 240.93 128.23 241.00 126.90C241.07 125.57 241.28 124.00 241.80 122.90C242.32 121.80 243.20 120.83 244.10 120.30C245.00 119.77 246.03 119.63 247.20 119.70Z" fill="none" stroke="#c61f38" stroke-width="1.05"/>
<rect x="230.4" y="111.2" width="60.8" height="63.6" fill="none" stroke="#231f20" stroke-width="1"/>
<text x="237.2" y="187.1" font-size="9.65" text-anchor="middle" fill="#231f20">1.5</text>
<text x="264.2" y="187.1" font-size="9.65" text-anchor="middle" fill="#231f20">2.5</text>
<text x="291.2" y="187.1" font-size="9.65" text-anchor="middle" fill="#231f20">3.5</text>
<text x="226.0" y="125.5" font-size="9.65" text-anchor="end" fill="#231f20">0.8</text>
<text x="226.0" y="146.7" font-size="9.65" text-anchor="end" fill="#231f20">0.7</text>
<text x="226.0" y="167.9" font-size="9.65" text-anchor="end" fill="#231f20">0.6</text>
<path d="M237.16 174.80v-1.3M237.16 111.20v1.3M264.18 174.80v-1.3M264.18 111.20v1.3M230.40 121.80h1.3M291.20 121.80h-1.3M230.40 143.00h1.3M291.20 143.00h-1.3M230.40 164.20h1.3M291.20 164.20h-1.3" stroke="#231f20" stroke-width="0.8" fill="none"/>
</g>
<g>
<clipPath id="cp13"><rect x="319.5" y="111.2" width="60.8" height="63.6"/></clipPath>
<g clip-path="url(#cp13)">
<path d="M357.50 130.20C357.50 132.53 356.69 135.18 355.36 137.20C354.02 139.22 351.81 141.16 349.50 142.32C347.19 143.49 344.17 144.20 341.50 144.20C338.83 144.20 335.81 143.49 333.50 142.32C331.19 141.16 328.98 139.22 327.64 137.20C326.31 135.18 325.50 132.53 325.50 130.20C325.50 127.87 326.31 125.22 327.64 123.20C328.98 121.18 331.19 119.24 333.50 118.08C335.81 116.91 338.83 116.20 341.50 116.20C344.17 116.20 347.19 116.91 349.50 118.08C351.81 119.24 354.02 121.18 355.36 123.20C356.69 125.22 357.50 127.87 357.50 130.20Z" fill="#b8bcff" fill-opacity="0.28" filter="url(#sp)"/>
<path d="M334.36 110.76C335.76 111.06 336.96 112.46 338.56 113.76C340.16 115.06 342.16 116.86 343.96 118.56C345.76 120.26 347.76 122.26 349.36 123.96C350.96 125.66 353.56 127.16 353.56 128.76C353.56 130.36 351.06 131.86 349.36 133.56C347.66 135.26 345.56 137.26 343.36 138.96C341.16 140.66 338.26 142.46 336.16 143.76C334.06 145.06 332.10 147.16 330.76 146.76C329.42 146.36 328.78 143.46 328.12 141.36C327.46 139.26 327.06 136.96 326.80 134.16C326.54 131.36 326.40 127.56 326.56 124.56C326.72 121.56 327.16 118.26 327.76 116.16C328.36 114.06 329.06 112.86 330.16 111.96C331.26 111.06 332.96 110.46 334.36 110.76Z" fill="#a9adff" fill-opacity="0.40" filter="url(#bl2)"/><path d="M334.78 112.67C336.02 112.94 337.09 114.19 338.52 115.35C339.95 116.51 341.73 118.11 343.34 119.63C344.94 121.14 346.72 122.93 348.15 124.44C349.58 125.96 351.90 127.29 351.90 128.72C351.90 130.15 349.67 131.49 348.15 133.00C346.64 134.52 344.76 136.30 342.80 137.82C340.84 139.33 338.25 140.94 336.38 142.10C334.51 143.26 332.76 145.13 331.57 144.77C330.37 144.41 329.80 141.83 329.21 139.96C328.62 138.08 328.27 136.03 328.03 133.54C327.80 131.04 327.68 127.65 327.82 124.98C327.96 122.30 328.36 119.36 328.89 117.49C329.43 115.61 330.05 114.54 331.03 113.74C332.01 112.94 333.53 112.40 334.78 112.67Z" fill="#8c94ff" fill-opacity="0.60" filter="url(#ro2)"/><g filter="url(#ro)" opacity="1.00"><clipPath id="k10"><path d="M335.16 114.44C336.27 114.67 337.22 115.78 338.49 116.81C339.75 117.84 341.33 119.26 342.76 120.61C344.19 121.96 345.77 123.54 347.03 124.89C348.30 126.23 350.36 127.42 350.36 128.69C350.36 129.95 348.38 131.14 347.03 132.49C345.69 133.83 344.03 135.41 342.28 136.76C340.54 138.11 338.25 139.53 336.58 140.56C334.92 141.59 333.37 143.25 332.31 142.94C331.25 142.62 330.74 140.32 330.22 138.66C329.70 137.00 329.38 135.18 329.18 132.96C328.97 130.74 328.86 127.74 328.99 125.36C329.11 122.99 329.46 120.37 329.94 118.71C330.41 117.05 330.96 116.10 331.83 115.39C332.71 114.67 334.05 114.20 335.16 114.44Z"/></clipPath><path d="M335.16 114.44C336.27 114.67 337.22 115.78 338.49 116.81C339.75 117.84 341.33 119.26 342.76 120.61C344.19 121.96 345.77 123.54 347.03 124.89C348.30 126.23 350.36 127.42 350.36 128.69C350.36 129.95 348.38 131.14 347.03 132.49C345.69 133.83 344.03 135.41 342.28 136.76C340.54 138.11 338.25 139.53 336.58 140.56C334.92 141.59 333.37 143.25 332.31 142.94C331.25 142.62 330.74 140.32 330.22 138.66C329.70 137.00 329.38 135.18 329.18 132.96C328.97 130.74 328.86 127.74 328.99 125.36C329.11 122.99 329.46 120.37 329.94 118.71C330.41 117.05 330.96 116.10 331.83 115.39C332.71 114.67 334.05 114.20 335.16 114.44Z" fill="#5062ff"/><g clip-path="url(#k10)"><path d="M335.50 116.05C337.16 116.14 339.17 116.38 341.04 117.47C342.91 118.55 345.21 120.68 346.72 122.58C348.23 124.47 349.82 127.05 350.13 128.83C350.44 130.60 349.65 131.97 348.57 133.23C347.48 134.48 345.47 135.52 343.60 136.35C341.73 137.18 339.12 137.54 337.35 138.20C335.57 138.86 333.99 139.90 332.95 140.33C331.90 140.75 331.74 141.20 331.10 140.75C330.46 140.30 329.75 139.10 329.11 137.63C328.47 136.16 327.67 133.84 327.27 131.95C326.86 130.06 326.60 128.16 326.70 126.27C326.79 124.38 327.10 122.15 327.83 120.59C328.57 119.03 329.82 117.66 331.10 116.90C332.38 116.14 333.85 115.95 335.50 116.05Z" fill="#4672fb"/><path d="M335.82 117.53C337.28 117.61 339.05 117.82 340.70 118.78C342.35 119.73 344.37 121.61 345.70 123.28C347.03 124.94 348.43 127.21 348.70 128.78C348.97 130.34 348.28 131.55 347.32 132.65C346.37 133.75 344.60 134.67 342.95 135.40C341.30 136.13 339.01 136.44 337.45 137.03C335.89 137.61 334.49 138.53 333.57 138.90C332.66 139.28 332.51 139.67 331.95 139.28C331.39 138.88 330.76 137.82 330.20 136.53C329.64 135.23 328.93 133.19 328.57 131.53C328.22 129.86 327.99 128.19 328.07 126.53C328.16 124.86 328.43 122.90 329.07 121.53C329.72 120.15 330.82 118.94 331.95 118.28C333.07 117.61 334.37 117.44 335.82 117.53Z" fill="#3a88f4"/><path d="M336.11 118.83C337.39 118.90 338.95 119.09 340.40 119.93C341.85 120.77 343.63 122.42 344.80 123.89C345.97 125.36 347.20 127.36 347.44 128.73C347.68 130.11 347.07 131.17 346.23 132.14C345.39 133.11 343.83 133.92 342.38 134.56C340.93 135.20 338.91 135.48 337.54 135.99C336.16 136.50 334.94 137.31 334.13 137.64C333.32 137.97 333.19 138.32 332.70 137.97C332.20 137.62 331.65 136.69 331.16 135.55C330.66 134.41 330.04 132.62 329.73 131.15C329.42 129.68 329.22 128.22 329.29 126.75C329.36 125.28 329.60 123.56 330.17 122.35C330.74 121.14 331.71 120.08 332.70 119.49C333.69 118.90 334.83 118.76 336.11 118.83Z" fill="#2d9ce8"/></g><path d="M336.36 119.96C337.49 120.03 338.86 120.19 340.14 120.93C341.42 121.67 342.99 123.13 344.02 124.42C345.05 125.72 346.14 127.48 346.35 128.69C346.56 129.90 346.02 130.84 345.28 131.70C344.54 132.55 343.16 133.27 341.89 133.83C340.61 134.40 338.83 134.64 337.62 135.09C336.41 135.55 335.32 136.26 334.61 136.55C333.90 136.84 333.79 137.15 333.35 136.84C332.91 136.53 332.43 135.71 331.99 134.71C331.56 133.70 331.01 132.12 330.73 130.83C330.46 129.53 330.28 128.24 330.34 126.95C330.41 125.65 330.62 124.13 331.12 123.07C331.62 122.00 332.48 121.06 333.35 120.54C334.22 120.03 335.23 119.90 336.36 119.96Z" fill="#24acd4"/><path d="M336.55 120.83C337.56 120.89 338.79 121.03 339.94 121.70C341.09 122.37 342.49 123.67 343.42 124.83C344.35 125.99 345.32 127.57 345.51 128.66C345.70 129.75 345.22 130.59 344.55 131.36C343.88 132.13 342.65 132.76 341.51 133.27C340.36 133.78 338.77 134.00 337.68 134.40C336.59 134.81 335.62 135.45 334.98 135.71C334.34 135.97 334.24 136.24 333.85 135.97C333.46 135.69 333.02 134.95 332.63 134.06C332.24 133.16 331.75 131.74 331.50 130.58C331.25 129.42 331.09 128.25 331.15 127.09C331.21 125.94 331.40 124.57 331.85 123.62C332.30 122.66 333.07 121.82 333.85 121.35C334.63 120.89 335.53 120.77 336.55 120.83Z" fill="#25bcb0"/><path d="M336.74 121.70C337.64 121.75 338.73 121.88 339.74 122.47C340.75 123.06 342.00 124.22 342.82 125.24C343.64 126.27 344.50 127.67 344.67 128.63C344.83 129.59 344.41 130.34 343.82 131.02C343.23 131.70 342.14 132.26 341.13 132.71C340.11 133.16 338.70 133.35 337.74 133.71C336.78 134.07 335.92 134.64 335.35 134.87C334.79 135.10 334.70 135.34 334.35 135.10C334.00 134.86 333.62 134.20 333.27 133.41C332.93 132.61 332.49 131.35 332.27 130.33C332.05 129.30 331.91 128.27 331.96 127.25C332.01 126.22 332.18 125.01 332.58 124.17C332.98 123.32 333.66 122.57 334.35 122.16C335.04 121.75 335.84 121.65 336.74 121.70Z" fill="#52c688"/><path d="M336.93 122.57C337.71 122.62 338.66 122.73 339.54 123.24C340.42 123.75 341.51 124.76 342.22 125.65C342.93 126.55 343.68 127.76 343.83 128.60C343.97 129.44 343.60 130.09 343.09 130.68C342.58 131.27 341.63 131.76 340.75 132.15C339.86 132.54 338.64 132.71 337.80 133.02C336.96 133.34 336.21 133.83 335.72 134.03C335.23 134.23 335.15 134.44 334.85 134.23C334.55 134.02 334.21 133.45 333.91 132.75C333.61 132.06 333.23 130.97 333.04 130.08C332.85 129.18 332.73 128.29 332.77 127.40C332.82 126.50 332.96 125.45 333.31 124.72C333.66 123.98 334.25 123.33 334.85 122.97C335.45 122.62 336.15 122.53 336.93 122.57Z" fill="#a5cf48"/><path d="M337.12 123.44C337.78 123.48 338.59 123.57 339.34 124.01C340.09 124.45 341.01 125.30 341.62 126.06C342.23 126.82 342.86 127.86 342.99 128.57C343.11 129.28 342.80 129.83 342.36 130.34C341.92 130.84 341.12 131.26 340.37 131.59C339.62 131.92 338.57 132.07 337.86 132.33C337.15 132.60 336.51 133.02 336.09 133.19C335.67 133.36 335.61 133.54 335.35 133.36C335.09 133.18 334.81 132.69 334.55 132.11C334.30 131.52 333.97 130.59 333.81 129.83C333.65 129.07 333.54 128.31 333.58 127.55C333.62 126.78 333.74 125.89 334.04 125.27C334.33 124.64 334.84 124.09 335.35 123.78C335.86 123.48 336.45 123.40 337.12 123.44Z" fill="#ecd42a"/><path d="M337.38 124.66C337.88 124.69 338.49 124.76 339.06 125.09C339.63 125.42 340.32 126.06 340.78 126.64C341.24 127.21 341.72 127.99 341.81 128.53C341.91 129.07 341.67 129.48 341.34 129.86C341.01 130.24 340.40 130.56 339.83 130.81C339.27 131.06 338.48 131.17 337.94 131.37C337.40 131.57 336.92 131.88 336.61 132.01C336.29 132.14 336.24 132.28 336.05 132.14C335.86 132.00 335.64 131.64 335.45 131.19C335.25 130.75 335.01 130.05 334.89 129.47C334.77 128.90 334.69 128.33 334.72 127.76C334.75 127.18 334.84 126.51 335.06 126.04C335.28 125.56 335.66 125.15 336.05 124.92C336.44 124.69 336.88 124.63 337.38 124.66Z" fill="#fdd227"/><path d="M337.80 126.57C338.05 126.59 338.34 126.62 338.62 126.78C338.90 126.94 339.24 127.26 339.46 127.54C339.68 127.82 339.92 128.20 339.96 128.46C340.01 128.73 339.89 128.93 339.73 129.11C339.57 129.30 339.27 129.45 339.00 129.58C338.72 129.70 338.34 129.75 338.07 129.85C337.81 129.95 337.58 130.10 337.42 130.16C337.27 130.23 337.24 130.29 337.15 130.23C337.06 130.16 336.95 129.98 336.86 129.77C336.76 129.55 336.64 129.21 336.58 128.93C336.52 128.65 336.48 128.37 336.50 128.09C336.51 127.81 336.56 127.48 336.67 127.25C336.78 127.01 336.96 126.81 337.15 126.70C337.34 126.59 337.56 126.56 337.80 126.57Z" fill="#ffbc2d"/></g>
</g>
<path d="M336.30 119.70C337.47 119.77 338.88 119.93 340.20 120.70C341.52 121.47 343.13 122.97 344.20 124.30C345.27 125.63 346.38 127.45 346.60 128.70C346.82 129.95 346.27 130.92 345.50 131.80C344.73 132.68 343.32 133.42 342.00 134.00C340.68 134.58 338.85 134.83 337.60 135.30C336.35 135.77 335.23 136.50 334.50 136.80C333.77 137.10 333.65 137.42 333.20 137.10C332.75 136.78 332.25 135.93 331.80 134.90C331.35 133.87 330.78 132.23 330.50 130.90C330.22 129.57 330.03 128.23 330.10 126.90C330.17 125.57 330.38 124.00 330.90 122.90C331.42 121.80 332.30 120.83 333.20 120.30C334.10 119.77 335.13 119.63 336.30 119.70Z" fill="none" stroke="#c61f38" stroke-width="1.05"/>
<rect x="319.5" y="111.2" width="60.8" height="63.6" fill="none" stroke="#231f20" stroke-width="1"/>
<text x="326.3" y="187.1" font-size="9.65" text-anchor="middle" fill="#231f20">1.5</text>
<text x="353.3" y="187.1" font-size="9.65" text-anchor="middle" fill="#231f20">2.5</text>
<text x="380.3" y="187.1" font-size="9.65" text-anchor="middle" fill="#231f20">3.5</text>
<text x="315.1" y="125.5" font-size="9.65" text-anchor="end" fill="#231f20">0.8</text>
<text x="315.1" y="146.7" font-size="9.65" text-anchor="end" fill="#231f20">0.7</text>
<text x="315.1" y="167.9" font-size="9.65" text-anchor="end" fill="#231f20">0.6</text>
<path d="M326.26 174.80v-1.3M326.26 111.20v1.3M353.28 174.80v-1.3M353.28 111.20v1.3M319.50 121.80h1.3M380.30 121.80h-1.3M319.50 143.00h1.3M380.30 143.00h-1.3M319.50 164.20h1.3M380.30 164.20h-1.3" stroke="#231f20" stroke-width="0.8" fill="none"/>
</g>
<g>
<clipPath id="cp14"><rect x="409.5" y="111.2" width="60.8" height="63.6"/></clipPath>
<g clip-path="url(#cp14)">
<path d="M447.50 130.20C447.50 132.53 446.69 135.18 445.36 137.20C444.02 139.22 441.81 141.16 439.50 142.32C437.19 143.49 434.17 144.20 431.50 144.20C428.83 144.20 425.81 143.49 423.50 142.32C421.19 141.16 418.98 139.22 417.64 137.20C416.31 135.18 415.50 132.53 415.50 130.20C415.50 127.87 416.31 125.22 417.64 123.20C418.98 121.18 421.19 119.24 423.50 118.08C425.81 116.91 428.83 116.20 431.50 116.20C434.17 116.20 437.19 116.91 439.50 118.08C441.81 119.24 444.02 121.18 445.36 123.20C446.69 125.22 447.50 127.87 447.50 130.20Z" fill="#b8bcff" fill-opacity="0.28" filter="url(#sp)"/>
<path d="M420.18 110.28C421.58 110.64 423.68 111.88 425.58 113.28C427.48 114.68 429.58 116.78 431.58 118.68C433.58 120.58 435.92 122.78 437.58 124.68C439.24 126.58 441.54 128.28 441.54 130.08C441.54 131.88 439.24 133.68 437.58 135.48C435.92 137.28 433.58 138.98 431.58 140.88C429.58 142.78 427.38 144.98 425.58 146.88C423.78 148.78 422.18 152.48 420.78 152.28C419.38 152.08 418.14 148.18 417.18 145.68C416.22 143.18 415.46 140.68 415.02 137.28C414.58 133.88 414.50 128.88 414.54 125.28C414.58 121.68 414.82 118.04 415.26 115.68C415.70 113.32 416.36 112.02 417.18 111.12C418.00 110.22 418.78 109.92 420.18 110.28Z" fill="#a9adff" fill-opacity="0.40" filter="url(#bl2)"/><path d="M420.71 112.50C421.96 112.82 423.83 113.93 425.53 115.18C427.22 116.43 429.09 118.30 430.88 119.99C432.66 121.69 434.75 123.65 436.23 125.34C437.71 127.04 439.76 128.55 439.76 130.16C439.76 131.76 437.71 133.37 436.23 134.97C434.75 136.58 432.66 138.09 430.88 139.79C429.09 141.48 427.13 143.44 425.53 145.14C423.92 146.83 422.50 150.13 421.25 149.95C420.00 149.77 418.89 146.30 418.04 144.07C417.18 141.84 416.50 139.61 416.11 136.58C415.72 133.55 415.65 129.09 415.68 125.88C415.72 122.67 415.93 119.42 416.33 117.32C416.72 115.21 417.31 114.05 418.04 113.25C418.77 112.45 419.46 112.18 420.71 112.50Z" fill="#8c94ff" fill-opacity="0.60" filter="url(#ro2)"/><g filter="url(#ro)" opacity="1.00"><clipPath id="k11"><path d="M421.21 114.56C422.31 114.84 423.98 115.82 425.48 116.93C426.98 118.04 428.65 119.70 430.23 121.21C431.81 122.71 433.67 124.45 434.98 125.96C436.29 127.46 438.12 128.81 438.12 130.23C438.12 131.66 436.29 133.08 434.98 134.50C433.67 135.93 431.81 137.28 430.23 138.78C428.65 140.28 426.91 142.03 425.48 143.53C424.06 145.03 422.79 147.96 421.68 147.81C420.57 147.65 419.59 144.56 418.83 142.58C418.07 140.60 417.47 138.62 417.12 135.93C416.77 133.24 416.71 129.28 416.74 126.43C416.77 123.58 416.96 120.70 417.31 118.83C417.66 116.96 418.18 115.93 418.83 115.22C419.48 114.51 420.10 114.27 421.21 114.56Z"/></clipPath><path d="M421.21 114.56C422.31 114.84 423.98 115.82 425.48 116.93C426.98 118.04 428.65 119.70 430.23 121.21C431.81 122.71 433.67 124.45 434.98 125.96C436.29 127.46 438.12 128.81 438.12 130.23C438.12 131.66 436.29 133.08 434.98 134.50C433.67 135.93 431.81 137.28 430.23 138.78C428.65 140.28 426.91 142.03 425.48 143.53C424.06 145.03 422.79 147.96 421.68 147.81C420.57 147.65 419.59 144.56 418.83 142.58C418.07 140.60 417.47 138.62 417.12 135.93C416.77 133.24 416.71 129.28 416.74 126.43C416.77 123.58 416.96 120.70 417.31 118.83C417.66 116.96 418.18 115.93 418.83 115.22C419.48 114.51 420.10 114.27 421.21 114.56Z" fill="#5062ff"/><g clip-path="url(#k11)"><path d="M437.15 128.67C437.57 131.04 437.43 133.83 436.79 136.06C436.15 138.28 434.83 140.54 433.29 142.03C431.76 143.52 429.61 144.64 427.60 145.00C425.59 145.35 423.19 145.03 421.24 144.16C419.29 143.28 417.28 141.61 415.91 139.74C414.55 137.87 413.46 135.29 413.05 132.93C412.63 130.56 412.77 127.77 413.41 125.54C414.05 123.32 415.37 121.06 416.91 119.57C418.44 118.08 420.59 116.96 422.60 116.60C424.61 116.25 427.01 116.57 428.96 117.44C430.91 118.32 432.92 119.99 434.29 121.86C435.65 123.73 436.74 126.31 437.15 128.67Z" fill="#4672fb"/><path d="M436.09 128.86C436.47 131.02 436.35 133.56 435.76 135.59C435.17 137.62 433.97 139.68 432.57 141.04C431.18 142.40 429.21 143.42 427.38 143.74C425.55 144.07 423.36 143.78 421.58 142.98C419.80 142.18 417.97 140.66 416.72 138.95C415.48 137.24 414.49 134.90 414.11 132.74C413.73 130.58 413.85 128.04 414.44 126.01C415.03 123.98 416.23 121.92 417.63 120.56C419.02 119.20 420.99 118.18 422.82 117.86C424.65 117.53 426.84 117.82 428.62 118.62C430.40 119.42 432.23 120.94 433.48 122.65C434.72 124.36 435.71 126.70 436.09 128.86Z" fill="#3a88f4"/><path d="M435.12 129.03C435.46 131.00 435.35 133.32 434.81 135.17C434.28 137.02 433.18 138.89 431.91 140.13C430.64 141.37 428.85 142.30 427.18 142.60C425.51 142.89 423.51 142.63 421.89 141.90C420.27 141.17 418.60 139.78 417.47 138.23C416.33 136.67 415.43 134.53 415.08 132.57C414.74 130.60 414.85 128.28 415.39 126.43C415.92 124.58 417.02 122.71 418.29 121.47C419.56 120.23 421.35 119.30 423.02 119.00C424.69 118.71 426.69 118.97 428.31 119.70C429.93 120.43 431.60 121.82 432.73 123.37C433.87 124.93 434.77 127.07 435.12 129.03Z" fill="#2d9ce8"/></g><path d="M434.23 129.19C434.55 130.98 434.44 133.10 433.95 134.78C433.47 136.47 432.47 138.18 431.31 139.31C430.15 140.44 428.52 141.28 427.00 141.55C425.47 141.82 423.65 141.58 422.18 140.92C420.70 140.25 419.18 138.99 418.14 137.57C417.11 136.15 416.29 134.20 415.97 132.41C415.65 130.62 415.76 128.50 416.25 126.82C416.73 125.13 417.73 123.42 418.89 122.29C420.05 121.16 421.68 120.32 423.20 120.05C424.73 119.78 426.55 120.02 428.02 120.68C429.50 121.35 431.02 122.61 432.06 124.03C433.09 125.45 433.91 127.40 434.23 129.19Z" fill="#24acd4"/><path d="M433.25 129.36C433.54 130.96 433.44 132.85 433.01 134.36C432.57 135.86 431.68 137.39 430.64 138.40C429.61 139.41 428.15 140.16 426.79 140.40C425.43 140.64 423.81 140.43 422.49 139.84C421.17 139.24 419.81 138.11 418.88 136.85C417.96 135.58 417.23 133.84 416.95 132.24C416.66 130.64 416.76 128.75 417.19 127.24C417.63 125.74 418.52 124.21 419.56 123.20C420.59 122.19 422.05 121.44 423.41 121.20C424.77 120.96 426.39 121.17 427.71 121.76C429.03 122.36 430.39 123.49 431.32 124.75C432.24 126.02 432.97 127.76 433.25 129.36Z" fill="#25bcb0"/><path d="M432.19 129.55C432.44 130.94 432.36 132.58 431.98 133.89C431.60 135.20 430.82 136.53 429.92 137.41C429.02 138.28 427.75 138.94 426.57 139.15C425.39 139.36 423.98 139.17 422.83 138.66C421.68 138.14 420.50 137.16 419.70 136.06C418.89 134.96 418.25 133.44 418.01 132.05C417.76 130.66 417.84 129.02 418.22 127.71C418.60 126.40 419.38 125.07 420.28 124.19C421.18 123.32 422.45 122.66 423.63 122.45C424.81 122.24 426.22 122.43 427.37 122.94C428.52 123.46 429.70 124.44 430.50 125.54C431.31 126.64 431.95 128.16 432.19 129.55Z" fill="#52c688"/><path d="M430.95 129.77C431.15 130.92 431.09 132.27 430.77 133.35C430.46 134.43 429.82 135.53 429.08 136.25C428.33 136.97 427.29 137.52 426.31 137.69C425.34 137.86 424.17 137.71 423.23 137.28C422.28 136.86 421.30 136.05 420.64 135.14C419.98 134.23 419.45 132.98 419.25 131.83C419.05 130.68 419.11 129.33 419.43 128.25C419.74 127.17 420.38 126.07 421.12 125.35C421.87 124.63 422.91 124.08 423.89 123.91C424.86 123.74 426.03 123.89 426.97 124.32C427.92 124.74 428.90 125.55 429.56 126.46C430.22 127.37 430.75 128.62 430.95 129.77Z" fill="#a5cf48"/><path d="M429.80 129.97C429.96 130.89 429.91 131.98 429.66 132.85C429.41 133.72 428.89 134.60 428.29 135.18C427.70 135.76 426.86 136.19 426.08 136.33C425.29 136.47 424.36 136.35 423.60 136.01C422.84 135.66 422.05 135.01 421.52 134.28C420.99 133.55 420.57 132.55 420.40 131.63C420.24 130.71 420.29 129.62 420.54 128.75C420.79 127.88 421.31 127.00 421.91 126.42C422.50 125.84 423.34 125.41 424.12 125.27C424.91 125.13 425.84 125.25 426.60 125.59C427.36 125.94 428.15 126.59 428.68 127.32C429.21 128.05 429.63 129.05 429.80 129.97Z" fill="#ecd42a"/><path d="M428.65 130.17C428.77 130.87 428.73 131.69 428.54 132.35C428.35 133.00 427.96 133.67 427.51 134.10C427.06 134.54 426.43 134.87 425.84 134.98C425.25 135.08 424.54 134.99 423.96 134.73C423.39 134.47 422.80 133.98 422.40 133.43C422.00 132.88 421.68 132.12 421.55 131.43C421.43 130.73 421.47 129.91 421.66 129.25C421.85 128.60 422.24 127.93 422.69 127.50C423.14 127.06 423.77 126.73 424.36 126.62C424.95 126.52 425.66 126.61 426.24 126.87C426.81 127.13 427.40 127.62 427.80 128.17C428.20 128.72 428.52 129.48 428.65 130.17Z" fill="#fdd227"/><path d="M426.78 130.50C426.84 130.83 426.82 131.22 426.73 131.53C426.64 131.85 426.46 132.16 426.24 132.37C426.03 132.58 425.73 132.73 425.45 132.78C425.17 132.83 424.83 132.79 424.56 132.67C424.29 132.54 424.01 132.31 423.82 132.05C423.63 131.79 423.47 131.43 423.42 131.10C423.36 130.77 423.38 130.38 423.47 130.07C423.56 129.75 423.74 129.44 423.96 129.23C424.17 129.02 424.47 128.87 424.75 128.82C425.03 128.77 425.37 128.81 425.64 128.93C425.91 129.06 426.19 129.29 426.38 129.55C426.57 129.81 426.73 130.17 426.78 130.50Z" fill="#ffbc2d"/></g>
</g>
<path d="M426.30 119.70C427.47 119.77 428.88 119.93 430.20 120.70C431.52 121.47 433.13 122.97 434.20 124.30C435.27 125.63 436.38 127.45 436.60 128.70C436.82 129.95 436.27 130.92 435.50 131.80C434.73 132.68 433.32 133.42 432.00 134.00C430.68 134.58 428.85 134.83 427.60 135.30C426.35 135.77 425.23 136.50 424.50 136.80C423.77 137.10 423.65 137.42 423.20 137.10C422.75 136.78 422.25 135.93 421.80 134.90C421.35 133.87 420.78 132.23 420.50 130.90C420.22 129.57 420.03 128.23 420.10 126.90C420.17 125.57 420.38 124.00 420.90 122.90C421.42 121.80 422.30 120.83 423.20 120.30C424.10 119.77 425.13 119.63 426.30 119.70Z" fill="none" stroke="#ee1c2e" stroke-width="1.25"/>
<rect x="409.5" y="111.2" width="60.8" height="63.6" fill="none" stroke="#231f20" stroke-width="1"/>
<text x="416.3" y="187.1" font-size="9.65" text-anchor="middle" fill="#231f20">1.5</text>
<text x="443.3" y="187.1" font-size="9.65" text-anchor="middle" fill="#231f20">2.5</text>
<text x="470.3" y="187.1" font-size="9.65" text-anchor="middle" fill="#231f20">3.5</text>
<text x="405.1" y="125.5" font-size="9.65" text-anchor="end" fill="#231f20">0.8</text>
<text x="405.1" y="146.7" font-size="9.65" text-anchor="end" fill="#231f20">0.7</text>
<text x="405.1" y="167.9" font-size="9.65" text-anchor="end" fill="#231f20">0.6</text>
<path d="M416.26 174.80v-1.3M416.26 111.20v1.3M443.28 174.80v-1.3M443.28 111.20v1.3M409.50 121.80h1.3M470.30 121.80h-1.3M409.50 143.00h1.3M470.30 143.00h-1.3M409.50 164.20h1.3M470.30 164.20h-1.3" stroke="#231f20" stroke-width="0.8" fill="none"/>
</g>
<g>
<clipPath id="cp15"><rect x="499.6" y="111.2" width="60.8" height="63.6"/></clipPath>
<g clip-path="url(#cp15)">
<path d="M543.54 145.50C542.69 147.31 540.73 148.89 538.33 149.69C535.94 150.48 532.48 150.70 529.18 150.27C525.88 149.83 521.85 148.63 518.53 147.08C515.21 145.53 511.69 143.22 509.24 140.97C506.78 138.72 504.73 135.93 503.80 133.59C502.87 131.24 502.82 128.72 503.66 126.90C504.51 125.09 506.47 123.51 508.87 122.71C511.26 121.92 514.72 121.70 518.02 122.13C521.32 122.57 525.35 123.77 528.67 125.32C531.99 126.87 535.51 129.18 537.96 131.43C540.42 133.68 542.47 136.47 543.40 138.81C544.33 141.16 544.38 143.68 543.54 145.50Z" fill="#a8aeff" fill-opacity="0.45" filter="url(#sp)"/>
<path d="M506.00 132.20C506.20 129.90 507.80 127.50 509.60 126.20C511.40 124.90 514.20 124.30 516.80 124.40C519.40 124.50 522.40 126.10 525.20 126.80C528.00 127.50 530.80 127.70 533.60 128.60C536.40 129.50 539.40 130.60 542.00 132.20C544.60 133.80 548.10 136.00 549.20 138.20C550.30 140.40 549.80 143.50 548.60 145.40C547.40 147.30 544.70 148.80 542.00 149.60C539.30 150.40 535.40 150.50 532.40 150.20C529.40 149.90 526.80 149.00 524.00 147.80C521.20 146.60 518.20 144.30 515.60 143.00C513.00 141.70 510.00 141.80 508.40 140.00C506.80 138.20 505.80 134.50 506.00 132.20Z" fill="#a9adff" fill-opacity="0.40" filter="url(#bl2)"/><path d="M508.34 132.85C508.52 130.80 509.94 128.66 511.55 127.50C513.15 126.34 515.65 125.81 517.97 125.89C520.29 125.98 522.96 127.41 525.46 128.03C527.96 128.66 530.45 128.84 532.95 129.64C535.45 130.44 538.12 131.42 540.44 132.85C542.76 134.28 545.88 136.24 546.86 138.20C547.84 140.16 547.39 142.93 546.33 144.62C545.26 146.31 542.85 147.65 540.44 148.36C538.03 149.08 534.56 149.17 531.88 148.90C529.20 148.63 526.89 147.83 524.39 146.76C521.89 145.69 519.22 143.64 516.90 142.48C514.58 141.32 511.91 141.41 510.48 139.80C509.05 138.20 508.16 134.90 508.34 132.85Z" fill="#8c94ff" fill-opacity="0.60" filter="url(#ro2)"/><g filter="url(#ro)" opacity="1.00"><clipPath id="k12"><path d="M510.50 133.45C510.66 131.63 511.93 129.73 513.35 128.70C514.78 127.67 516.99 127.20 519.05 127.27C521.11 127.35 523.48 128.62 525.70 129.17C527.92 129.73 530.13 129.89 532.35 130.60C534.57 131.31 536.94 132.18 539.00 133.45C541.06 134.72 543.83 136.46 544.70 138.20C545.57 139.94 545.18 142.40 544.23 143.90C543.27 145.40 541.14 146.59 539.00 147.22C536.86 147.86 533.77 147.94 531.40 147.70C529.02 147.46 526.97 146.75 524.75 145.80C522.53 144.85 520.16 143.03 518.10 142.00C516.04 140.97 513.67 141.05 512.40 139.62C511.13 138.20 510.34 135.27 510.50 133.45Z"/></clipPath><path d="M510.50 133.45C510.66 131.63 511.93 129.73 513.35 128.70C514.78 127.67 516.99 127.20 519.05 127.27C521.11 127.35 523.48 128.62 525.70 129.17C527.92 129.73 530.13 129.89 532.35 130.60C534.57 131.31 536.94 132.18 539.00 133.45C541.06 134.72 543.83 136.46 544.70 138.20C545.57 139.94 545.18 142.40 544.23 143.90C543.27 145.40 541.14 146.59 539.00 147.22C536.86 147.86 533.77 147.94 531.40 147.70C529.02 147.46 526.97 146.75 524.75 145.80C522.53 144.85 520.16 143.03 518.10 142.00C516.04 140.97 513.67 141.05 512.40 139.62C511.13 138.20 510.34 135.27 510.50 133.45Z" fill="#5062ff"/><g clip-path="url(#k12)"><path d="M539.96 143.19C539.48 144.37 538.32 145.45 536.88 146.05C535.43 146.66 533.33 146.94 531.31 146.81C529.29 146.68 526.81 146.09 524.75 145.26C522.69 144.43 520.50 143.13 518.95 141.82C517.40 140.51 516.09 138.84 515.47 137.41C514.85 135.97 514.77 134.38 515.24 133.21C515.72 132.03 516.88 130.95 518.32 130.35C519.77 129.74 521.87 129.46 523.89 129.59C525.91 129.72 528.39 130.31 530.45 131.14C532.51 131.97 534.70 133.27 536.25 134.58C537.80 135.89 539.11 137.56 539.73 138.99C540.35 140.43 540.43 142.02 539.96 143.19Z" fill="#4672fb"/><path d="M538.87 142.75C538.43 143.83 537.37 144.81 536.06 145.36C534.74 145.91 532.82 146.17 530.98 146.05C529.14 145.93 526.88 145.40 525.00 144.64C523.12 143.88 521.12 142.69 519.71 141.50C518.30 140.31 517.11 138.79 516.54 137.48C515.98 136.17 515.90 134.72 516.33 133.65C516.77 132.57 517.83 131.59 519.14 131.04C520.46 130.49 522.38 130.23 524.22 130.35C526.06 130.47 528.32 131.00 530.20 131.76C532.08 132.52 534.08 133.71 535.49 134.90C536.90 136.09 538.09 137.61 538.66 138.92C539.22 140.23 539.30 141.68 538.87 142.75Z" fill="#3a88f4"/><path d="M537.87 142.35C537.47 143.33 536.50 144.23 535.31 144.73C534.11 145.23 532.36 145.47 530.68 145.36C529.00 145.25 526.94 144.76 525.23 144.07C523.52 143.38 521.70 142.29 520.41 141.21C519.13 140.12 518.04 138.73 517.52 137.54C517.01 136.35 516.94 135.03 517.33 134.05C517.73 133.07 518.70 132.17 519.89 131.67C521.09 131.17 522.84 130.93 524.52 131.04C526.20 131.15 528.26 131.64 529.97 132.33C531.68 133.02 533.50 134.11 534.79 135.19C536.07 136.28 537.16 137.67 537.68 138.86C538.19 140.05 538.26 141.37 537.87 142.35Z" fill="#2d9ce8"/></g><path d="M536.96 141.98C536.60 142.87 535.72 143.69 534.62 144.15C533.53 144.61 531.94 144.82 530.41 144.72C528.88 144.62 527.00 144.18 525.44 143.55C523.88 142.92 522.22 141.93 521.05 140.94C519.88 139.95 518.88 138.69 518.41 137.60C517.95 136.51 517.88 135.31 518.24 134.42C518.60 133.53 519.48 132.71 520.58 132.25C521.67 131.79 523.26 131.58 524.79 131.68C526.32 131.78 528.20 132.22 529.76 132.85C531.32 133.48 532.98 134.47 534.15 135.46C535.32 136.45 536.32 137.71 536.79 138.80C537.25 139.89 537.32 141.09 536.96 141.98Z" fill="#24acd4"/><path d="M535.96 141.58C535.64 142.37 534.85 143.11 533.87 143.51C532.90 143.92 531.48 144.12 530.11 144.03C528.74 143.94 527.06 143.54 525.67 142.98C524.28 142.41 522.79 141.53 521.75 140.65C520.70 139.76 519.81 138.63 519.40 137.66C518.98 136.69 518.92 135.62 519.24 134.82C519.56 134.03 520.35 133.29 521.33 132.89C522.30 132.48 523.72 132.28 525.09 132.37C526.46 132.46 528.14 132.86 529.53 133.42C530.92 133.99 532.41 134.87 533.45 135.75C534.50 136.64 535.39 137.77 535.80 138.74C536.22 139.71 536.28 140.78 535.96 141.58Z" fill="#25bcb0"/><path d="M534.87 141.14C534.59 141.83 533.90 142.47 533.06 142.82C532.21 143.18 530.97 143.34 529.78 143.27C528.59 143.19 527.13 142.84 525.92 142.35C524.71 141.86 523.42 141.10 522.51 140.33C521.60 139.56 520.83 138.58 520.47 137.73C520.10 136.89 520.05 135.96 520.33 135.26C520.61 134.57 521.30 133.93 522.14 133.58C522.99 133.22 524.23 133.06 525.42 133.13C526.61 133.21 528.07 133.56 529.28 134.05C530.49 134.54 531.78 135.30 532.69 136.07C533.60 136.84 534.37 137.82 534.73 138.67C535.10 139.51 535.15 140.44 534.87 141.14Z" fill="#52c688"/><path d="M533.60 140.62C533.37 141.19 532.80 141.72 532.10 142.01C531.40 142.30 530.38 142.44 529.40 142.38C528.42 142.32 527.21 142.03 526.22 141.63C525.22 141.22 524.15 140.59 523.40 139.96C522.65 139.32 522.01 138.51 521.71 137.82C521.41 137.12 521.37 136.35 521.60 135.78C521.83 135.21 522.40 134.68 523.10 134.39C523.80 134.10 524.82 133.96 525.80 134.02C526.78 134.08 527.99 134.37 528.98 134.77C529.98 135.18 531.05 135.81 531.80 136.44C532.55 137.08 533.19 137.89 533.49 138.58C533.79 139.28 533.83 140.05 533.60 140.62Z" fill="#a5cf48"/><path d="M532.42 140.15C532.23 140.60 531.78 141.03 531.21 141.26C530.65 141.50 529.83 141.61 529.05 141.56C528.26 141.50 527.29 141.28 526.49 140.95C525.69 140.63 524.83 140.12 524.23 139.61C523.63 139.10 523.11 138.45 522.87 137.89C522.63 137.33 522.60 136.71 522.78 136.25C522.97 135.80 523.42 135.37 523.99 135.14C524.55 134.90 525.37 134.79 526.15 134.84C526.94 134.90 527.91 135.12 528.71 135.45C529.51 135.77 530.37 136.28 530.97 136.79C531.57 137.30 532.09 137.95 532.33 138.51C532.57 139.07 532.60 139.69 532.42 140.15Z" fill="#ecd42a"/><path d="M531.23 139.67C531.09 140.01 530.75 140.33 530.33 140.51C529.90 140.69 529.29 140.77 528.69 140.73C528.10 140.69 527.37 140.52 526.76 140.28C526.16 140.03 525.51 139.65 525.06 139.26C524.60 138.88 524.21 138.39 524.03 137.97C523.85 137.54 523.83 137.08 523.97 136.73C524.11 136.39 524.45 136.07 524.87 135.89C525.30 135.71 525.91 135.63 526.51 135.67C527.10 135.71 527.83 135.88 528.44 136.12C529.04 136.37 529.69 136.75 530.14 137.14C530.60 137.52 530.99 138.01 531.17 138.43C531.35 138.86 531.37 139.32 531.23 139.67Z" fill="#fdd227"/><path d="M529.33 138.90C529.26 139.06 529.10 139.21 528.90 139.30C528.69 139.38 528.40 139.42 528.12 139.40C527.84 139.38 527.49 139.30 527.20 139.19C526.91 139.07 526.61 138.89 526.39 138.71C526.18 138.52 525.99 138.29 525.91 138.09C525.82 137.89 525.81 137.67 525.87 137.50C525.94 137.34 526.10 137.19 526.30 137.10C526.51 137.02 526.80 136.98 527.08 137.00C527.36 137.02 527.71 137.10 528.00 137.21C528.29 137.33 528.59 137.51 528.81 137.69C529.02 137.88 529.21 138.11 529.29 138.31C529.38 138.51 529.39 138.73 529.33 138.90Z" fill="#ffbc2d"/></g>
</g>
<path d="M516.40 119.70C517.57 119.77 518.98 119.93 520.30 120.70C521.62 121.47 523.23 122.97 524.30 124.30C525.37 125.63 526.48 127.45 526.70 128.70C526.92 129.95 526.37 130.92 525.60 131.80C524.83 132.68 523.42 133.42 522.10 134.00C520.78 134.58 518.95 134.83 517.70 135.30C516.45 135.77 515.33 136.50 514.60 136.80C513.87 137.10 513.75 137.42 513.30 137.10C512.85 136.78 512.35 135.93 511.90 134.90C511.45 133.87 510.88 132.23 510.60 130.90C510.32 129.57 510.13 128.23 510.20 126.90C510.27 125.57 510.48 124.00 511.00 122.90C511.52 121.80 512.40 120.83 513.30 120.30C514.20 119.77 515.23 119.63 516.40 119.70Z" fill="none" stroke="#ee1c2e" stroke-width="1.25"/>
<rect x="499.6" y="111.2" width="60.8" height="63.6" fill="none" stroke="#231f20" stroke-width="1"/>
<text x="506.4" y="187.1" font-size="9.65" text-anchor="middle" fill="#231f20">1.5</text>
<text x="533.4" y="187.1" font-size="9.65" text-anchor="middle" fill="#231f20">2.5</text>
<text x="560.4" y="187.1" font-size="9.65" text-anchor="middle" fill="#231f20">3.5</text>
<text x="495.2" y="125.5" font-size="9.65" text-anchor="end" fill="#231f20">0.8</text>
<text x="495.2" y="146.7" font-size="9.65" text-anchor="end" fill="#231f20">0.7</text>
<text x="495.2" y="167.9" font-size="9.65" text-anchor="end" fill="#231f20">0.6</text>
<path d="M506.36 174.80v-1.3M506.36 111.20v1.3M533.38 174.80v-1.3M533.38 111.20v1.3M499.60 121.80h1.3M560.40 121.80h-1.3M499.60 143.00h1.3M560.40 143.00h-1.3M499.60 164.20h1.3M560.40 164.20h-1.3" stroke="#231f20" stroke-width="0.8" fill="none"/>
</g>
<g>
<clipPath id="cp16"><rect x="589.6" y="111.2" width="60.8" height="63.6"/></clipPath>
<g clip-path="url(#cp16)">
<path d="M628.92 148.06C627.64 149.59 625.40 150.67 623.01 150.93C620.62 151.19 617.43 150.68 614.58 149.59C611.73 148.50 608.44 146.54 605.89 144.39C603.33 142.25 600.83 139.35 599.26 136.73C597.69 134.11 596.64 131.06 596.47 128.66C596.31 126.26 596.99 123.88 598.28 122.34C599.56 120.81 601.80 119.73 604.19 119.47C606.58 119.21 609.77 119.72 612.62 120.81C615.47 121.90 618.76 123.86 621.31 126.01C623.87 128.15 626.37 131.05 627.94 133.67C629.51 136.29 630.56 139.34 630.73 141.74C630.89 144.14 630.21 146.52 628.92 148.06Z" fill="#a8aeff" fill-opacity="0.40" filter="url(#sp)"/>
<path d="M613.60 129.70C613.60 130.70 613.27 131.83 612.73 132.70C612.19 133.57 611.29 134.40 610.35 134.90C609.41 135.40 608.18 135.70 607.10 135.70C606.02 135.70 604.79 135.40 603.85 134.90C602.91 134.40 602.01 133.57 601.47 132.70C600.93 131.83 600.60 130.70 600.60 129.70C600.60 128.70 600.93 127.57 601.47 126.70C602.01 125.83 602.91 125.00 603.85 124.50C604.79 124.00 606.02 123.70 607.10 123.70C608.18 123.70 609.41 124.00 610.35 124.50C611.29 125.00 612.19 125.83 612.73 126.70C613.27 127.57 613.60 128.70 613.60 129.70Z" fill="#b4baff" fill-opacity="0.40" filter="url(#ro2)"/>
<path d="M614.10 129.70C614.10 130.70 613.75 131.83 613.16 132.70C612.58 133.57 611.61 134.40 610.60 134.90C609.59 135.40 608.27 135.70 607.10 135.70C605.93 135.70 604.61 135.40 603.60 134.90C602.59 134.40 601.62 133.57 601.04 132.70C600.45 131.83 600.10 130.70 600.10 129.70C600.10 128.70 600.45 127.57 601.04 126.70C601.62 125.83 602.59 125.00 603.60 124.50C604.61 124.00 605.93 123.70 607.10 123.70C608.27 123.70 609.59 124.00 610.60 124.50C611.61 125.00 612.58 125.83 613.16 126.70C613.75 127.57 614.10 128.70 614.10 129.70Z" fill="#8a94ff" fill-opacity="0.40" filter="url(#sp)"/>
<path d="M638.30 148.68C637.55 150.28 636.08 151.79 634.41 152.69C632.73 153.59 630.40 154.12 628.23 154.08C626.07 154.04 623.50 153.43 621.44 152.47C619.37 151.51 617.25 149.93 615.84 148.30C614.42 146.67 613.32 144.54 612.93 142.68C612.54 140.82 612.76 138.71 613.50 137.12C614.25 135.52 615.72 134.01 617.39 133.11C619.07 132.21 621.40 131.68 623.57 131.72C625.73 131.76 628.30 132.37 630.36 133.33C632.43 134.29 634.55 135.87 635.96 137.50C637.38 139.13 638.48 141.26 638.87 143.12C639.26 144.98 639.04 147.09 638.30 148.68Z" fill="#a9adff" fill-opacity="0.40" filter="url(#bl2)"/><path d="M636.96 148.06C636.29 149.48 634.98 150.83 633.48 151.63C631.99 152.43 629.91 152.90 627.98 152.87C626.05 152.84 623.76 152.29 621.92 151.43C620.08 150.57 618.19 149.17 616.93 147.71C615.66 146.26 614.68 144.36 614.34 142.70C613.99 141.04 614.18 139.17 614.84 137.74C615.51 136.32 616.82 134.97 618.32 134.17C619.81 133.37 621.89 132.90 623.82 132.93C625.75 132.96 628.04 133.51 629.88 134.37C631.72 135.23 633.61 136.63 634.87 138.09C636.14 139.54 637.12 141.44 637.46 143.10C637.81 144.76 637.62 146.63 636.96 148.06Z" fill="#8c94ff" fill-opacity="0.60" filter="url(#ro2)"/><g filter="url(#ro)" opacity="1.00"><clipPath id="k13"><path d="M635.72 147.48C635.13 148.74 633.96 149.94 632.63 150.65C631.31 151.36 629.46 151.78 627.75 151.75C626.04 151.72 624.00 151.24 622.37 150.48C620.73 149.71 619.05 148.47 617.93 147.17C616.81 145.88 615.94 144.20 615.63 142.72C615.33 141.25 615.50 139.59 616.08 138.32C616.67 137.06 617.84 135.86 619.17 135.15C620.49 134.44 622.34 134.02 624.05 134.05C625.76 134.08 627.80 134.56 629.43 135.32C631.07 136.09 632.75 137.33 633.87 138.63C634.99 139.92 635.86 141.60 636.17 143.08C636.47 144.55 636.30 146.21 635.72 147.48Z"/></clipPath><path d="M635.72 147.48C635.13 148.74 633.96 149.94 632.63 150.65C631.31 151.36 629.46 151.78 627.75 151.75C626.04 151.72 624.00 151.24 622.37 150.48C620.73 149.71 619.05 148.47 617.93 147.17C616.81 145.88 615.94 144.20 615.63 142.72C615.33 141.25 615.50 139.59 616.08 138.32C616.67 137.06 617.84 135.86 619.17 135.15C620.49 134.44 622.34 134.02 624.05 134.05C625.76 134.08 627.80 134.56 629.43 135.32C631.07 136.09 632.75 137.33 633.87 138.63C634.99 139.92 635.86 141.60 636.17 143.08C636.47 144.55 636.30 146.21 635.72 147.48Z" fill="#5062ff"/><g clip-path="url(#k13)"><path d="M634.22 146.26C633.78 147.36 632.86 148.42 631.78 149.09C630.71 149.76 629.19 150.20 627.77 150.26C626.34 150.32 624.64 150.02 623.25 149.46C621.86 148.90 620.42 147.93 619.44 146.90C618.46 145.87 617.68 144.49 617.37 143.27C617.06 142.04 617.14 140.63 617.58 139.54C618.02 138.44 618.94 137.38 620.02 136.71C621.09 136.04 622.61 135.60 624.03 135.54C625.46 135.48 627.16 135.78 628.55 136.34C629.94 136.90 631.38 137.87 632.36 138.90C633.34 139.93 634.12 141.31 634.43 142.53C634.74 143.76 634.66 145.17 634.22 146.26Z" fill="#4672fb"/><path d="M633.49 145.97C633.09 146.96 632.24 147.94 631.26 148.54C630.28 149.15 628.90 149.55 627.60 149.61C626.31 149.67 624.75 149.39 623.48 148.88C622.22 148.37 620.91 147.49 620.01 146.54C619.12 145.60 618.40 144.35 618.12 143.23C617.84 142.12 617.91 140.83 618.31 139.83C618.71 138.84 619.56 137.86 620.54 137.26C621.52 136.65 622.90 136.25 624.20 136.19C625.49 136.13 627.05 136.41 628.32 136.92C629.58 137.43 630.89 138.31 631.79 139.26C632.68 140.20 633.40 141.45 633.68 142.57C633.96 143.68 633.89 144.97 633.49 145.97Z" fill="#3a88f4"/><path d="M632.81 145.69C632.45 146.60 631.68 147.49 630.79 148.04C629.89 148.60 628.63 148.96 627.45 149.02C626.27 149.07 624.85 148.81 623.70 148.35C622.55 147.88 621.35 147.08 620.54 146.22C619.72 145.36 619.07 144.22 618.81 143.20C618.55 142.19 618.62 141.01 618.99 140.11C619.35 139.20 620.12 138.31 621.01 137.76C621.91 137.20 623.17 136.84 624.35 136.78C625.53 136.73 626.95 136.99 628.10 137.45C629.25 137.92 630.45 138.72 631.26 139.58C632.08 140.44 632.73 141.58 632.99 142.60C633.25 143.61 633.18 144.79 632.81 145.69Z" fill="#2d9ce8"/></g><path d="M632.20 145.45C631.87 146.27 631.17 147.08 630.36 147.59C629.54 148.09 628.39 148.43 627.31 148.47C626.24 148.52 624.94 148.29 623.89 147.87C622.84 147.44 621.75 146.71 621.01 145.93C620.27 145.15 619.67 144.11 619.44 143.18C619.20 142.25 619.26 141.18 619.60 140.35C619.93 139.53 620.63 138.72 621.44 138.21C622.26 137.71 623.41 137.37 624.49 137.33C625.56 137.28 626.86 137.51 627.91 137.93C628.96 138.36 630.05 139.09 630.79 139.87C631.53 140.65 632.13 141.69 632.36 142.62C632.60 143.55 632.54 144.62 632.20 145.45Z" fill="#24acd4"/><path d="M631.53 145.17C631.23 145.91 630.61 146.64 629.88 147.09C629.15 147.54 628.12 147.84 627.16 147.88C626.20 147.92 625.05 147.71 624.11 147.34C623.17 146.96 622.20 146.30 621.53 145.60C620.87 144.91 620.34 143.98 620.13 143.15C619.92 142.32 619.97 141.36 620.27 140.63C620.57 139.89 621.19 139.16 621.92 138.71C622.65 138.26 623.68 137.96 624.64 137.92C625.60 137.88 626.75 138.09 627.69 138.46C628.63 138.84 629.60 139.50 630.27 140.20C630.93 140.89 631.46 141.82 631.67 142.65C631.88 143.48 631.83 144.44 631.53 145.17Z" fill="#25bcb0"/><path d="M630.80 144.88C630.54 145.52 629.99 146.15 629.36 146.54C628.73 146.93 627.83 147.19 627.00 147.23C626.16 147.27 625.16 147.09 624.34 146.76C623.53 146.43 622.68 145.86 622.10 145.25C621.53 144.64 621.06 143.84 620.88 143.12C620.70 142.39 620.74 141.56 621.00 140.92C621.26 140.28 621.81 139.65 622.44 139.26C623.07 138.87 623.97 138.61 624.80 138.57C625.64 138.53 626.64 138.71 627.46 139.04C628.27 139.37 629.12 139.94 629.70 140.55C630.27 141.16 630.74 141.96 630.92 142.68C631.10 143.41 631.06 144.24 630.80 144.88Z" fill="#52c688"/><path d="M629.94 144.53C629.72 145.06 629.28 145.58 628.75 145.90C628.23 146.23 627.50 146.44 626.81 146.47C626.12 146.50 625.29 146.35 624.61 146.08C623.94 145.81 623.24 145.34 622.77 144.84C622.29 144.34 621.91 143.67 621.76 143.08C621.61 142.48 621.65 141.80 621.86 141.27C622.08 140.74 622.52 140.22 623.05 139.90C623.57 139.57 624.30 139.36 624.99 139.33C625.68 139.30 626.51 139.45 627.19 139.72C627.86 139.99 628.56 140.46 629.03 140.96C629.51 141.46 629.89 142.13 630.04 142.72C630.19 143.32 630.15 144.00 629.94 144.53Z" fill="#a5cf48"/><path d="M629.14 144.21C628.97 144.64 628.61 145.05 628.19 145.31C627.77 145.57 627.18 145.74 626.63 145.77C626.07 145.79 625.41 145.67 624.87 145.46C624.33 145.24 623.77 144.86 623.38 144.46C623.00 144.06 622.70 143.52 622.58 143.04C622.45 142.56 622.48 142.02 622.66 141.59C622.83 141.16 623.19 140.75 623.61 140.49C624.03 140.23 624.62 140.06 625.17 140.03C625.73 140.01 626.39 140.13 626.93 140.34C627.47 140.56 628.03 140.94 628.42 141.34C628.80 141.74 629.10 142.28 629.22 142.76C629.35 143.24 629.32 143.78 629.14 144.21Z" fill="#ecd42a"/><path d="M628.35 143.89C628.22 144.21 627.95 144.52 627.63 144.72C627.31 144.92 626.87 145.05 626.45 145.06C626.03 145.08 625.53 144.99 625.12 144.83C624.71 144.66 624.29 144.38 624.00 144.08C623.71 143.77 623.48 143.37 623.39 143.01C623.30 142.65 623.32 142.23 623.45 141.91C623.58 141.59 623.85 141.28 624.17 141.08C624.49 140.88 624.93 140.75 625.35 140.74C625.77 140.72 626.27 140.81 626.68 140.97C627.09 141.14 627.51 141.42 627.80 141.72C628.09 142.03 628.32 142.43 628.41 142.79C628.50 143.15 628.48 143.57 628.35 143.89Z" fill="#fdd227"/><path d="M627.06 143.37C627.00 143.52 626.87 143.67 626.72 143.76C626.57 143.86 626.36 143.92 626.16 143.93C625.96 143.94 625.72 143.89 625.53 143.82C625.34 143.74 625.14 143.60 625.00 143.46C624.86 143.31 624.75 143.12 624.71 142.95C624.66 142.78 624.68 142.58 624.74 142.43C624.80 142.28 624.93 142.13 625.08 142.04C625.23 141.94 625.44 141.88 625.64 141.87C625.84 141.86 626.08 141.91 626.27 141.98C626.46 142.06 626.66 142.20 626.80 142.34C626.94 142.49 627.05 142.68 627.09 142.85C627.14 143.02 627.12 143.22 627.06 143.37Z" fill="#ffbc2d"/></g>
</g>
<path d="M606.40 119.70C607.57 119.77 608.98 119.93 610.30 120.70C611.62 121.47 613.23 122.97 614.30 124.30C615.37 125.63 616.48 127.45 616.70 128.70C616.92 129.95 616.37 130.92 615.60 131.80C614.83 132.68 613.42 133.42 612.10 134.00C610.78 134.58 608.95 134.83 607.70 135.30C606.45 135.77 605.33 136.50 604.60 136.80C603.87 137.10 603.75 137.42 603.30 137.10C602.85 136.78 602.35 135.93 601.90 134.90C601.45 133.87 600.88 132.23 600.60 130.90C600.32 129.57 600.13 128.23 600.20 126.90C600.27 125.57 600.48 124.00 601.00 122.90C601.52 121.80 602.40 120.83 603.30 120.30C604.20 119.77 605.23 119.63 606.40 119.70Z" fill="none" stroke="#ee1c2e" stroke-width="1.25"/>
<rect x="589.6" y="111.2" width="60.8" height="63.6" fill="none" stroke="#231f20" stroke-width="1"/>
<text x="596.4" y="187.1" font-size="9.65" text-anchor="middle" fill="#231f20">1.5</text>
<text x="623.4" y="187.1" font-size="9.65" text-anchor="middle" fill="#231f20">2.5</text>
<text x="650.4" y="187.1" font-size="9.65" text-anchor="middle" fill="#231f20">3.5</text>
<text x="585.2" y="125.5" font-size="9.65" text-anchor="end" fill="#231f20">0.8</text>
<text x="585.2" y="146.7" font-size="9.65" text-anchor="end" fill="#231f20">0.7</text>
<text x="585.2" y="167.9" font-size="9.65" text-anchor="end" fill="#231f20">0.6</text>
<path d="M596.36 174.80v-1.3M596.36 111.20v1.3M623.38 174.80v-1.3M623.38 111.20v1.3M589.60 121.80h1.3M650.40 121.80h-1.3M589.60 143.00h1.3M650.40 143.00h-1.3M589.60 164.20h1.3M650.40 164.20h-1.3" stroke="#231f20" stroke-width="0.8" fill="none"/>
</g>
<text x="654.3" y="146.6" font-size="11.15" fill="#231f20">KS11</text>
<g>
<clipPath id="cp20"><rect x="52.0" y="200.9" width="60.8" height="63.6"/></clipPath>
<g clip-path="url(#cp20)">
<path d="M90.00 226.90C90.00 229.23 89.19 231.88 87.86 233.90C86.52 235.92 84.31 237.86 82.00 239.02C79.69 240.19 76.67 240.90 74.00 240.90C71.33 240.90 68.31 240.19 66.00 239.02C63.69 237.86 61.48 235.92 60.14 233.90C58.81 231.88 58.00 229.23 58.00 226.90C58.00 224.57 58.81 221.92 60.14 219.90C61.48 217.88 63.69 215.94 66.00 214.78C68.31 213.61 71.33 212.90 74.00 212.90C76.67 212.90 79.69 213.61 82.00 214.78C84.31 215.94 86.52 217.88 87.86 219.90C89.19 221.92 90.00 224.57 90.00 226.90Z" fill="#b8bcff" fill-opacity="0.28" filter="url(#sp)"/>
<path d="M59.36 203.26C60.46 203.86 61.86 205.46 63.56 206.86C65.26 208.26 67.56 209.86 69.56 211.66C71.56 213.46 73.46 215.46 75.56 217.66C77.66 219.86 81.96 222.66 82.16 224.86C82.36 227.06 78.66 228.86 76.76 230.86C74.86 232.86 72.76 234.86 70.76 236.86C68.76 238.86 66.56 241.06 64.76 242.86C62.96 244.66 61.30 247.86 59.96 247.66C58.62 247.46 57.52 244.26 56.72 241.66C55.92 239.06 55.46 235.66 55.16 232.06C54.86 228.46 54.88 223.86 54.92 220.06C54.96 216.26 55.06 212.06 55.40 209.26C55.74 206.46 56.30 204.26 56.96 203.26C57.62 202.26 58.26 202.66 59.36 203.26Z" fill="#a9adff" fill-opacity="0.40" filter="url(#bl2)"/><path d="M60.10 205.63C61.08 206.16 62.33 207.59 63.85 208.84C65.36 210.08 67.41 211.51 69.20 213.12C70.98 214.72 72.67 216.50 74.55 218.47C76.42 220.43 80.25 222.92 80.43 224.89C80.61 226.85 77.31 228.45 75.62 230.24C73.92 232.02 72.05 233.80 70.27 235.59C68.48 237.37 66.52 239.33 64.92 240.94C63.31 242.54 61.83 245.39 60.64 245.22C59.44 245.04 58.46 242.18 57.75 239.87C57.03 237.55 56.62 234.52 56.36 231.31C56.09 228.10 56.11 223.99 56.14 220.61C56.18 217.22 56.27 213.47 56.57 210.98C56.87 208.48 57.37 206.52 57.96 205.63C58.55 204.73 59.12 205.09 60.10 205.63Z" fill="#8c94ff" fill-opacity="0.60" filter="url(#ro2)"/><g filter="url(#ro)" opacity="1.00"><clipPath id="k14"><path d="M60.79 207.81C61.66 208.28 62.76 209.55 64.11 210.66C65.46 211.77 67.28 213.03 68.86 214.46C70.44 215.89 71.95 217.47 73.61 219.21C75.27 220.95 78.68 223.17 78.84 224.91C78.99 226.65 76.06 228.08 74.56 229.66C73.06 231.24 71.39 232.83 69.81 234.41C68.23 235.99 66.48 237.74 65.06 239.16C63.64 240.58 62.32 243.12 61.26 242.96C60.20 242.80 59.33 240.27 58.70 238.21C58.06 236.15 57.70 233.46 57.46 230.61C57.22 227.76 57.24 224.12 57.27 221.11C57.30 218.10 57.38 214.78 57.65 212.56C57.92 210.34 58.36 208.60 58.89 207.81C59.41 207.02 59.91 207.34 60.79 207.81Z"/></clipPath><path d="M60.79 207.81C61.66 208.28 62.76 209.55 64.11 210.66C65.46 211.77 67.28 213.03 68.86 214.46C70.44 215.89 71.95 217.47 73.61 219.21C75.27 220.95 78.68 223.17 78.84 224.91C78.99 226.65 76.06 228.08 74.56 229.66C73.06 231.24 71.39 232.83 69.81 234.41C68.23 235.99 66.48 237.74 65.06 239.16C63.64 240.58 62.32 243.12 61.26 242.96C60.20 242.80 59.33 240.27 58.70 238.21C58.06 236.15 57.70 233.46 57.46 230.61C57.22 227.76 57.24 224.12 57.27 221.11C57.30 218.10 57.38 214.78 57.65 212.56C57.92 210.34 58.36 208.60 58.89 207.81C59.41 207.02 59.91 207.34 60.79 207.81Z" fill="#5062ff"/><g clip-path="url(#k14)"><path d="M59.39 212.37C60.72 212.15 63.46 211.93 65.31 212.37C67.16 212.82 68.77 213.73 70.49 215.04C72.22 216.34 74.19 218.49 75.67 220.22C77.15 221.94 79.15 223.77 79.37 225.40C79.59 227.02 78.26 228.55 77.00 229.98C75.75 231.41 73.67 232.67 71.82 233.98C69.97 235.29 67.56 236.96 65.90 237.83C64.25 238.69 63.12 239.36 61.91 239.16C60.70 238.96 59.59 238.17 58.65 236.64C57.71 235.11 56.83 232.18 56.28 229.98C55.74 227.79 55.42 225.64 55.40 223.47C55.37 221.30 55.82 218.59 56.14 216.96C56.46 215.33 56.78 214.47 57.32 213.70C57.86 212.94 58.06 212.59 59.39 212.37Z" fill="#4672fb"/><path d="M60.31 214.09C61.46 213.90 63.83 213.71 65.43 214.09C67.03 214.48 68.42 215.27 69.91 216.40C71.41 217.53 73.11 219.38 74.39 220.88C75.67 222.37 77.40 223.95 77.59 225.36C77.78 226.76 76.63 228.09 75.54 229.32C74.46 230.56 72.66 231.65 71.06 232.78C69.46 233.91 67.37 235.36 65.94 236.11C64.51 236.85 63.53 237.43 62.49 237.26C61.44 237.09 60.48 236.41 59.67 235.08C58.86 233.76 58.09 231.22 57.62 229.32C57.15 227.43 56.88 225.57 56.86 223.69C56.83 221.81 57.22 219.47 57.50 218.06C57.77 216.65 58.05 215.91 58.52 215.24C58.99 214.58 59.16 214.28 60.31 214.09Z" fill="#3a88f4"/><path d="M61.05 215.47C62.06 215.30 64.13 215.13 65.53 215.47C66.93 215.80 68.14 216.49 69.45 217.48C70.75 218.47 72.25 220.10 73.37 221.40C74.49 222.71 76.00 224.09 76.17 225.32C76.34 226.56 75.33 227.71 74.38 228.80C73.42 229.88 71.86 230.83 70.46 231.82C69.06 232.81 67.23 234.08 65.98 234.73C64.73 235.39 63.87 235.89 62.95 235.74C62.04 235.59 61.20 234.99 60.49 233.84C59.78 232.68 59.11 230.46 58.70 228.80C58.29 227.13 58.04 225.51 58.02 223.87C58.01 222.23 58.34 220.17 58.58 218.94C58.83 217.71 59.07 217.05 59.48 216.48C59.89 215.90 60.04 215.64 61.05 215.47Z" fill="#2d9ce8"/></g><path d="M61.69 216.67C62.57 216.53 64.39 216.38 65.61 216.67C66.84 216.97 67.90 217.57 69.04 218.44C70.19 219.30 71.49 220.72 72.47 221.87C73.45 223.01 74.78 224.22 74.92 225.30C75.07 226.37 74.19 227.39 73.35 228.33C72.52 229.28 71.15 230.11 69.92 230.98C68.70 231.85 67.10 232.96 66.00 233.53C64.91 234.10 64.16 234.54 63.36 234.41C62.56 234.28 61.82 233.76 61.20 232.74C60.58 231.73 59.99 229.79 59.63 228.33C59.27 226.88 59.06 225.46 59.05 224.02C59.03 222.58 59.32 220.79 59.54 219.71C59.75 218.63 59.96 218.06 60.32 217.55C60.68 217.05 60.81 216.82 61.69 216.67Z" fill="#24acd4"/><path d="M62.15 217.53C62.94 217.40 64.57 217.27 65.67 217.53C66.77 217.80 67.73 218.34 68.75 219.12C69.78 219.89 70.95 221.17 71.83 222.20C72.71 223.22 73.90 224.31 74.03 225.28C74.16 226.24 73.37 227.15 72.62 228.00C71.88 228.85 70.64 229.60 69.54 230.38C68.44 231.16 67.01 232.15 66.02 232.67C65.04 233.18 64.37 233.58 63.65 233.46C62.93 233.34 62.27 232.87 61.71 231.96C61.15 231.05 60.63 229.31 60.30 228.00C59.98 226.70 59.79 225.42 59.78 224.13C59.76 222.84 60.03 221.23 60.22 220.26C60.41 219.29 60.60 218.78 60.92 218.32C61.24 217.87 61.36 217.66 62.15 217.53Z" fill="#25bcb0"/><path d="M62.66 218.48C63.35 218.36 64.78 218.25 65.74 218.48C66.70 218.71 67.53 219.18 68.43 219.86C69.33 220.54 70.36 221.66 71.13 222.56C71.90 223.46 72.94 224.41 73.05 225.25C73.17 226.10 72.48 226.90 71.82 227.64C71.17 228.39 70.09 229.04 69.13 229.72C68.16 230.40 66.91 231.27 66.05 231.72C65.19 232.17 64.60 232.52 63.97 232.41C63.34 232.31 62.76 231.90 62.27 231.11C61.79 230.31 61.32 228.78 61.04 227.64C60.76 226.50 60.59 225.38 60.58 224.25C60.57 223.12 60.80 221.71 60.96 220.86C61.13 220.02 61.30 219.57 61.58 219.17C61.86 218.77 61.97 218.59 62.66 218.48Z" fill="#52c688"/><path d="M63.35 219.77C63.91 219.68 65.05 219.58 65.83 219.77C66.60 219.95 67.27 220.34 68.00 220.88C68.72 221.43 69.55 222.33 70.17 223.05C70.79 223.78 71.62 224.54 71.72 225.22C71.81 225.91 71.25 226.55 70.73 227.15C70.20 227.75 69.33 228.27 68.56 228.82C67.78 229.37 66.77 230.07 66.08 230.43C65.38 230.79 64.91 231.07 64.40 230.99C63.90 230.91 63.43 230.58 63.04 229.94C62.65 229.30 62.27 228.07 62.05 227.15C61.82 226.23 61.68 225.33 61.67 224.42C61.66 223.51 61.85 222.37 61.98 221.69C62.12 221.01 62.25 220.65 62.48 220.33C62.71 220.01 62.79 219.86 63.35 219.77Z" fill="#a5cf48"/><path d="M63.90 220.80C64.35 220.72 65.28 220.65 65.90 220.80C66.53 220.95 67.07 221.26 67.65 221.70C68.23 222.14 68.90 222.87 69.40 223.45C69.90 224.03 70.58 224.65 70.65 225.20C70.73 225.75 70.28 226.27 69.85 226.75C69.43 227.23 68.73 227.66 68.10 228.10C67.48 228.54 66.66 229.11 66.10 229.40C65.54 229.69 65.16 229.92 64.75 229.85C64.34 229.78 63.97 229.52 63.65 229.00C63.33 228.48 63.03 227.49 62.85 226.75C62.67 226.01 62.56 225.28 62.55 224.55C62.54 223.82 62.69 222.90 62.80 222.35C62.91 221.80 63.02 221.51 63.20 221.25C63.38 220.99 63.45 220.88 63.90 220.80Z" fill="#ecd42a"/><path d="M64.45 221.83C64.79 221.77 65.50 221.72 65.97 221.83C66.45 221.95 66.86 222.18 67.30 222.52C67.75 222.85 68.25 223.40 68.63 223.85C69.01 224.29 69.53 224.76 69.58 225.18C69.64 225.59 69.30 225.99 68.97 226.35C68.65 226.72 68.12 227.04 67.64 227.38C67.17 227.72 66.55 228.15 66.12 228.37C65.70 228.59 65.41 228.76 65.10 228.71C64.79 228.66 64.50 228.46 64.26 228.06C64.02 227.67 63.79 226.92 63.65 226.35C63.51 225.79 63.43 225.24 63.43 224.68C63.42 224.12 63.53 223.43 63.62 223.01C63.70 222.59 63.78 222.37 63.92 222.17C64.06 221.98 64.11 221.89 64.45 221.83Z" fill="#fdd227"/><path d="M65.37 223.55C65.53 223.52 65.87 223.50 66.09 223.55C66.32 223.61 66.51 223.72 66.72 223.88C66.93 224.03 67.17 224.30 67.35 224.51C67.53 224.72 67.78 224.94 67.80 225.14C67.83 225.33 67.67 225.52 67.51 225.69C67.36 225.87 67.11 226.02 66.88 226.18C66.66 226.34 66.37 226.54 66.16 226.65C65.96 226.75 65.83 226.83 65.68 226.81C65.53 226.79 65.40 226.69 65.28 226.50C65.17 226.32 65.06 225.96 64.99 225.69C64.93 225.43 64.89 225.17 64.89 224.90C64.88 224.64 64.94 224.31 64.98 224.11C65.02 223.91 65.05 223.81 65.12 223.71C65.19 223.62 65.21 223.58 65.37 223.55Z" fill="#ffbc2d"/></g>
</g>
<path d="M61.60 216.50C62.50 216.35 64.35 216.20 65.60 216.50C66.85 216.80 67.93 217.42 69.10 218.30C70.27 219.18 71.60 220.63 72.60 221.80C73.60 222.97 74.95 224.20 75.10 225.30C75.25 226.40 74.35 227.43 73.50 228.40C72.65 229.37 71.25 230.22 70.00 231.10C68.75 231.98 67.12 233.12 66.00 233.70C64.88 234.28 64.12 234.73 63.30 234.60C62.48 234.47 61.73 233.93 61.10 232.90C60.47 231.87 59.87 229.88 59.50 228.40C59.13 226.92 58.92 225.47 58.90 224.00C58.88 222.53 59.18 220.70 59.40 219.60C59.62 218.50 59.83 217.92 60.20 217.40C60.57 216.88 60.70 216.65 61.60 216.50Z" fill="none" stroke="#e01e30" stroke-width="1.25"/>
<rect x="52.0" y="200.9" width="60.8" height="63.6" fill="none" stroke="#231f20" stroke-width="1"/>
<text x="58.8" y="276.8" font-size="9.65" text-anchor="middle" fill="#231f20">1.5</text>
<text x="85.8" y="276.8" font-size="9.65" text-anchor="middle" fill="#231f20">2.5</text>
<text x="112.8" y="276.8" font-size="9.65" text-anchor="middle" fill="#231f20">3.5</text>
<text x="47.6" y="215.2" font-size="9.65" text-anchor="end" fill="#231f20">0.8</text>
<text x="47.6" y="236.4" font-size="9.65" text-anchor="end" fill="#231f20">0.7</text>
<text x="47.6" y="257.6" font-size="9.65" text-anchor="end" fill="#231f20">0.6</text>
<path d="M58.76 264.50v-1.3M58.76 200.90v1.3M85.78 264.50v-1.3M85.78 200.90v1.3M52.00 211.50h1.3M112.80 211.50h-1.3M52.00 232.70h1.3M112.80 232.70h-1.3M52.00 253.90h1.3M112.80 253.90h-1.3" stroke="#231f20" stroke-width="0.8" fill="none"/>
</g>
<g>
<clipPath id="cp21"><rect x="141.6" y="200.9" width="60.8" height="63.6"/></clipPath>
<g clip-path="url(#cp21)">
<path d="M179.60 226.90C179.60 229.23 178.79 231.88 177.46 233.90C176.12 235.92 173.91 237.86 171.60 239.02C169.29 240.19 166.27 240.90 163.60 240.90C160.93 240.90 157.91 240.19 155.60 239.02C153.29 237.86 151.08 235.92 149.74 233.90C148.41 231.88 147.60 229.23 147.60 226.90C147.60 224.57 148.41 221.92 149.74 219.90C151.08 217.88 153.29 215.94 155.60 214.78C157.91 213.61 160.93 212.90 163.60 212.90C166.27 212.90 169.29 213.61 171.60 214.78C173.91 215.94 176.12 217.88 177.46 219.90C178.79 221.92 179.60 224.57 179.60 226.90Z" fill="#b8bcff" fill-opacity="0.28" filter="url(#sp)"/>
<path d="M148.96 203.26C150.06 203.86 151.46 205.46 153.16 206.86C154.86 208.26 157.16 209.86 159.16 211.66C161.16 213.46 163.06 215.46 165.16 217.66C167.26 219.86 171.56 222.66 171.76 224.86C171.96 227.06 168.26 228.86 166.36 230.86C164.46 232.86 162.36 234.86 160.36 236.86C158.36 238.86 156.16 241.06 154.36 242.86C152.56 244.66 150.90 247.86 149.56 247.66C148.22 247.46 147.12 244.26 146.32 241.66C145.52 239.06 145.06 235.66 144.76 232.06C144.46 228.46 144.48 223.86 144.52 220.06C144.56 216.26 144.66 212.06 145.00 209.26C145.34 206.46 145.90 204.26 146.56 203.26C147.22 202.26 147.86 202.66 148.96 203.26Z" fill="#a9adff" fill-opacity="0.40" filter="url(#bl2)"/><path d="M149.70 205.63C150.68 206.16 151.93 207.59 153.45 208.84C154.96 210.08 157.01 211.51 158.80 213.12C160.58 214.72 162.27 216.50 164.15 218.47C166.02 220.43 169.85 222.92 170.03 224.89C170.21 226.85 166.91 228.45 165.22 230.24C163.52 232.02 161.65 233.80 159.87 235.59C158.08 237.37 156.12 239.33 154.52 240.94C152.91 242.54 151.43 245.39 150.24 245.22C149.04 245.04 148.06 242.18 147.35 239.87C146.63 237.55 146.22 234.52 145.96 231.31C145.69 228.10 145.71 223.99 145.74 220.61C145.78 217.22 145.87 213.47 146.17 210.98C146.47 208.48 146.97 206.52 147.56 205.63C148.15 204.73 148.72 205.09 149.70 205.63Z" fill="#8c94ff" fill-opacity="0.60" filter="url(#ro2)"/><g filter="url(#ro)" opacity="1.00"><clipPath id="k15"><path d="M150.38 207.81C151.26 208.28 152.36 209.55 153.71 210.66C155.06 211.77 156.88 213.03 158.46 214.46C160.04 215.89 161.55 217.47 163.21 219.21C164.87 220.95 168.28 223.17 168.43 224.91C168.59 226.65 165.66 228.08 164.16 229.66C162.66 231.24 160.99 232.83 159.41 234.41C157.83 235.99 156.09 237.74 154.66 239.16C153.23 240.58 151.92 243.12 150.86 242.96C149.80 242.80 148.93 240.27 148.29 238.21C147.66 236.15 147.30 233.46 147.06 230.61C146.82 227.76 146.84 224.12 146.87 221.11C146.90 218.10 146.98 214.78 147.25 212.56C147.52 210.34 147.96 208.60 148.48 207.81C149.01 207.02 149.51 207.34 150.38 207.81Z"/></clipPath><path d="M150.38 207.81C151.26 208.28 152.36 209.55 153.71 210.66C155.06 211.77 156.88 213.03 158.46 214.46C160.04 215.89 161.55 217.47 163.21 219.21C164.87 220.95 168.28 223.17 168.43 224.91C168.59 226.65 165.66 228.08 164.16 229.66C162.66 231.24 160.99 232.83 159.41 234.41C157.83 235.99 156.09 237.74 154.66 239.16C153.23 240.58 151.92 243.12 150.86 242.96C149.80 242.80 148.93 240.27 148.29 238.21C147.66 236.15 147.30 233.46 147.06 230.61C146.82 227.76 146.84 224.12 146.87 221.11C146.90 218.10 146.98 214.78 147.25 212.56C147.52 210.34 147.96 208.60 148.48 207.81C149.01 207.02 149.51 207.34 150.38 207.81Z" fill="#5062ff"/><g clip-path="url(#k15)"><path d="M148.99 212.37C150.32 212.15 153.06 211.93 154.91 212.37C156.76 212.82 158.37 213.73 160.09 215.04C161.82 216.34 163.79 218.49 165.27 220.22C166.75 221.94 168.75 223.77 168.97 225.40C169.19 227.02 167.86 228.55 166.60 229.98C165.35 231.41 163.27 232.67 161.42 233.98C159.57 235.29 157.16 236.96 155.50 237.83C153.85 238.69 152.72 239.36 151.51 239.16C150.30 238.96 149.19 238.17 148.25 236.64C147.31 235.11 146.43 232.18 145.88 229.98C145.34 227.79 145.02 225.64 145.00 223.47C144.97 221.30 145.42 218.59 145.74 216.96C146.06 215.33 146.38 214.47 146.92 213.70C147.46 212.94 147.66 212.59 148.99 212.37Z" fill="#4672fb"/><path d="M149.91 214.09C151.06 213.90 153.43 213.71 155.03 214.09C156.63 214.48 158.02 215.27 159.51 216.40C161.01 217.53 162.71 219.38 163.99 220.88C165.27 222.37 167.00 223.95 167.19 225.36C167.38 226.76 166.23 228.09 165.14 229.32C164.06 230.56 162.26 231.65 160.66 232.78C159.06 233.91 156.97 235.36 155.54 236.11C154.11 236.85 153.13 237.43 152.09 237.26C151.04 237.09 150.08 236.41 149.27 235.08C148.46 233.76 147.69 231.22 147.22 229.32C146.75 227.43 146.48 225.57 146.46 223.69C146.43 221.81 146.82 219.47 147.10 218.06C147.37 216.65 147.65 215.91 148.12 215.24C148.59 214.58 148.76 214.28 149.91 214.09Z" fill="#3a88f4"/><path d="M150.65 215.47C151.66 215.30 153.73 215.13 155.13 215.47C156.53 215.80 157.74 216.49 159.05 217.48C160.35 218.47 161.85 220.10 162.97 221.40C164.09 222.71 165.60 224.09 165.77 225.32C165.94 226.56 164.93 227.71 163.98 228.80C163.02 229.88 161.46 230.83 160.06 231.82C158.66 232.81 156.83 234.08 155.58 234.73C154.33 235.39 153.47 235.89 152.55 235.74C151.64 235.59 150.80 234.99 150.09 233.84C149.38 232.68 148.71 230.46 148.30 228.80C147.89 227.13 147.64 225.51 147.62 223.87C147.61 222.23 147.94 220.17 148.18 218.94C148.43 217.71 148.67 217.05 149.08 216.48C149.49 215.90 149.64 215.64 150.65 215.47Z" fill="#2d9ce8"/></g><path d="M151.29 216.67C152.17 216.53 153.99 216.38 155.21 216.67C156.44 216.97 157.50 217.57 158.64 218.44C159.79 219.30 161.09 220.72 162.07 221.87C163.05 223.01 164.38 224.22 164.52 225.30C164.67 226.37 163.79 227.39 162.95 228.33C162.12 229.28 160.75 230.11 159.52 230.98C158.30 231.85 156.70 232.96 155.60 233.53C154.51 234.10 153.76 234.54 152.96 234.41C152.16 234.28 151.42 233.76 150.80 232.74C150.18 231.73 149.59 229.79 149.23 228.33C148.87 226.88 148.66 225.46 148.65 224.02C148.63 222.58 148.92 220.79 149.14 219.71C149.35 218.63 149.56 218.06 149.92 217.55C150.28 217.05 150.41 216.82 151.29 216.67Z" fill="#24acd4"/><path d="M151.75 217.53C152.54 217.40 154.17 217.27 155.27 217.53C156.37 217.80 157.33 218.34 158.35 219.12C159.38 219.89 160.55 221.17 161.43 222.20C162.31 223.22 163.50 224.31 163.63 225.28C163.76 226.24 162.97 227.15 162.22 228.00C161.48 228.85 160.24 229.60 159.14 230.38C158.04 231.16 156.61 232.15 155.62 232.67C154.64 233.18 153.97 233.58 153.25 233.46C152.53 233.34 151.87 232.87 151.31 231.96C150.75 231.05 150.23 229.31 149.90 228.00C149.58 226.70 149.39 225.42 149.38 224.13C149.36 222.84 149.63 221.23 149.82 220.26C150.01 219.29 150.20 218.78 150.52 218.32C150.84 217.87 150.96 217.66 151.75 217.53Z" fill="#25bcb0"/><path d="M152.26 218.48C152.95 218.36 154.38 218.25 155.34 218.48C156.30 218.71 157.13 219.18 158.03 219.86C158.93 220.54 159.96 221.66 160.73 222.56C161.50 223.46 162.54 224.41 162.65 225.25C162.77 226.10 162.08 226.90 161.42 227.64C160.77 228.39 159.69 229.04 158.73 229.72C157.76 230.40 156.51 231.27 155.65 231.72C154.79 232.17 154.20 232.52 153.57 232.41C152.94 232.31 152.36 231.90 151.87 231.11C151.39 230.31 150.92 228.78 150.64 227.64C150.36 226.50 150.19 225.38 150.18 224.25C150.17 223.12 150.40 221.71 150.56 220.86C150.73 220.02 150.90 219.57 151.18 219.17C151.46 218.77 151.56 218.59 152.26 218.48Z" fill="#52c688"/><path d="M152.95 219.77C153.51 219.68 154.65 219.58 155.43 219.77C156.20 219.95 156.87 220.34 157.60 220.88C158.32 221.43 159.15 222.33 159.77 223.05C160.39 223.78 161.22 224.54 161.32 225.22C161.41 225.91 160.85 226.55 160.33 227.15C159.80 227.75 158.93 228.27 158.16 228.82C157.38 229.37 156.37 230.07 155.68 230.43C154.98 230.79 154.51 231.07 154.00 230.99C153.50 230.91 153.03 230.58 152.64 229.94C152.25 229.30 151.87 228.07 151.65 227.15C151.42 226.23 151.28 225.33 151.27 224.42C151.26 223.51 151.45 222.37 151.58 221.69C151.72 221.01 151.85 220.65 152.08 220.33C152.31 220.01 152.39 219.86 152.95 219.77Z" fill="#a5cf48"/><path d="M153.50 220.80C153.95 220.72 154.87 220.65 155.50 220.80C156.12 220.95 156.67 221.26 157.25 221.70C157.83 222.14 158.50 222.87 159.00 223.45C159.50 224.03 160.17 224.65 160.25 225.20C160.32 225.75 159.88 226.27 159.45 226.75C159.02 227.23 158.32 227.66 157.70 228.10C157.07 228.54 156.26 229.11 155.70 229.40C155.14 229.69 154.76 229.92 154.35 229.85C153.94 229.78 153.57 229.52 153.25 229.00C152.93 228.48 152.63 227.49 152.45 226.75C152.27 226.01 152.16 225.28 152.15 224.55C152.14 223.82 152.29 222.90 152.40 222.35C152.51 221.80 152.62 221.51 152.80 221.25C152.98 220.99 153.05 220.88 153.50 220.80Z" fill="#ecd42a"/><path d="M154.05 221.83C154.39 221.77 155.10 221.72 155.57 221.83C156.05 221.95 156.46 222.18 156.90 222.52C157.35 222.85 157.85 223.40 158.23 223.85C158.61 224.29 159.12 224.76 159.18 225.18C159.24 225.59 158.90 225.99 158.57 226.35C158.25 226.72 157.72 227.04 157.24 227.38C156.77 227.72 156.15 228.15 155.72 228.37C155.30 228.59 155.01 228.76 154.70 228.71C154.39 228.66 154.10 228.46 153.86 228.06C153.62 227.67 153.39 226.92 153.25 226.35C153.11 225.79 153.03 225.24 153.03 224.68C153.02 224.12 153.13 223.43 153.22 223.01C153.30 222.59 153.38 222.37 153.52 222.17C153.66 221.98 153.71 221.89 154.05 221.83Z" fill="#fdd227"/><path d="M154.97 223.55C155.13 223.52 155.47 223.50 155.69 223.55C155.92 223.61 156.11 223.72 156.32 223.88C156.53 224.03 156.77 224.30 156.95 224.51C157.13 224.72 157.38 224.94 157.40 225.14C157.43 225.33 157.27 225.52 157.11 225.69C156.96 225.87 156.71 226.02 156.48 226.18C156.26 226.34 155.96 226.54 155.76 226.65C155.56 226.75 155.42 226.83 155.28 226.81C155.13 226.79 155.00 226.69 154.88 226.50C154.77 226.32 154.66 225.96 154.59 225.69C154.53 225.43 154.49 225.17 154.49 224.90C154.48 224.64 154.54 224.31 154.58 224.11C154.61 223.91 154.65 223.81 154.72 223.71C154.79 223.62 154.81 223.58 154.97 223.55Z" fill="#ffbc2d"/></g>
</g>
<path d="M151.20 216.50C152.10 216.35 153.95 216.20 155.20 216.50C156.45 216.80 157.53 217.42 158.70 218.30C159.87 219.18 161.20 220.63 162.20 221.80C163.20 222.97 164.55 224.20 164.70 225.30C164.85 226.40 163.95 227.43 163.10 228.40C162.25 229.37 160.85 230.22 159.60 231.10C158.35 231.98 156.72 233.12 155.60 233.70C154.48 234.28 153.72 234.73 152.90 234.60C152.08 234.47 151.33 233.93 150.70 232.90C150.07 231.87 149.47 229.88 149.10 228.40C148.73 226.92 148.52 225.47 148.50 224.00C148.48 222.53 148.78 220.70 149.00 219.60C149.22 218.50 149.43 217.92 149.80 217.40C150.17 216.88 150.30 216.65 151.20 216.50Z" fill="none" stroke="#e01e30" stroke-width="1.25"/>
<rect x="141.6" y="200.9" width="60.8" height="63.6" fill="none" stroke="#231f20" stroke-width="1"/>
<text x="148.4" y="276.8" font-size="9.65" text-anchor="middle" fill="#231f20">1.5</text>
<text x="175.4" y="276.8" font-size="9.65" text-anchor="middle" fill="#231f20">2.5</text>
<text x="202.4" y="276.8" font-size="9.65" text-anchor="middle" fill="#231f20">3.5</text>
<text x="137.2" y="215.2" font-size="9.65" text-anchor="end" fill="#231f20">0.8</text>
<text x="137.2" y="236.4" font-size="9.65" text-anchor="end" fill="#231f20">0.7</text>
<text x="137.2" y="257.6" font-size="9.65" text-anchor="end" fill="#231f20">0.6</text>
<path d="M148.36 264.50v-1.3M148.36 200.90v1.3M175.38 264.50v-1.3M175.38 200.90v1.3M141.60 211.50h1.3M202.40 211.50h-1.3M141.60 232.70h1.3M202.40 232.70h-1.3M141.60 253.90h1.3M202.40 253.90h-1.3" stroke="#231f20" stroke-width="0.8" fill="none"/>
</g>
<g>
<clipPath id="cp22"><rect x="230.6" y="200.9" width="60.8" height="63.6"/></clipPath>
<g clip-path="url(#cp22)">
<path d="M268.60 226.90C268.60 229.23 267.79 231.88 266.46 233.90C265.12 235.92 262.91 237.86 260.60 239.02C258.29 240.19 255.27 240.90 252.60 240.90C249.93 240.90 246.91 240.19 244.60 239.02C242.29 237.86 240.08 235.92 238.74 233.90C237.41 231.88 236.60 229.23 236.60 226.90C236.60 224.57 237.41 221.92 238.74 219.90C240.08 217.88 242.29 215.94 244.60 214.78C246.91 213.61 249.93 212.90 252.60 212.90C255.27 212.90 258.29 213.61 260.60 214.78C262.91 215.94 265.12 217.88 266.46 219.90C267.79 221.92 268.60 224.57 268.60 226.90Z" fill="#b8bcff" fill-opacity="0.28" filter="url(#sp)"/>
<path d="M237.96 203.26C239.06 203.86 240.46 205.46 242.16 206.86C243.86 208.26 246.16 209.86 248.16 211.66C250.16 213.46 252.06 215.46 254.16 217.66C256.26 219.86 260.56 222.66 260.76 224.86C260.96 227.06 257.26 228.86 255.36 230.86C253.46 232.86 251.36 234.86 249.36 236.86C247.36 238.86 245.16 241.06 243.36 242.86C241.56 244.66 239.90 247.86 238.56 247.66C237.22 247.46 236.12 244.26 235.32 241.66C234.52 239.06 234.06 235.66 233.76 232.06C233.46 228.46 233.48 223.86 233.52 220.06C233.56 216.26 233.66 212.06 234.00 209.26C234.34 206.46 234.90 204.26 235.56 203.26C236.22 202.26 236.86 202.66 237.96 203.26Z" fill="#a9adff" fill-opacity="0.40" filter="url(#bl2)"/><path d="M238.70 205.63C239.68 206.16 240.93 207.59 242.45 208.84C243.96 210.08 246.01 211.51 247.80 213.12C249.58 214.72 251.27 216.50 253.15 218.47C255.02 220.43 258.85 222.92 259.03 224.89C259.21 226.85 255.91 228.45 254.22 230.24C252.52 232.02 250.65 233.80 248.87 235.59C247.08 237.37 245.12 239.33 243.52 240.94C241.91 242.54 240.43 245.39 239.24 245.22C238.04 245.04 237.06 242.18 236.35 239.87C235.63 237.55 235.22 234.52 234.96 231.31C234.69 228.10 234.71 223.99 234.74 220.61C234.78 217.22 234.87 213.47 235.17 210.98C235.47 208.48 235.97 206.52 236.56 205.63C237.15 204.73 237.72 205.09 238.70 205.63Z" fill="#8c94ff" fill-opacity="0.60" filter="url(#ro2)"/><g filter="url(#ro)" opacity="1.00"><clipPath id="k16"><path d="M239.38 207.81C240.26 208.28 241.36 209.55 242.71 210.66C244.06 211.77 245.88 213.03 247.46 214.46C249.04 215.89 250.55 217.47 252.21 219.21C253.87 220.95 257.28 223.17 257.44 224.91C257.59 226.65 254.66 228.08 253.16 229.66C251.66 231.24 249.99 232.83 248.41 234.41C246.83 235.99 245.09 237.74 243.66 239.16C242.23 240.58 240.92 243.12 239.86 242.96C238.80 242.80 237.93 240.27 237.29 238.21C236.66 236.15 236.30 233.46 236.06 230.61C235.82 227.76 235.84 224.12 235.87 221.11C235.90 218.10 235.98 214.78 236.25 212.56C236.52 210.34 236.96 208.60 237.48 207.81C238.01 207.02 238.51 207.34 239.38 207.81Z"/></clipPath><path d="M239.38 207.81C240.26 208.28 241.36 209.55 242.71 210.66C244.06 211.77 245.88 213.03 247.46 214.46C249.04 215.89 250.55 217.47 252.21 219.21C253.87 220.95 257.28 223.17 257.44 224.91C257.59 226.65 254.66 228.08 253.16 229.66C251.66 231.24 249.99 232.83 248.41 234.41C246.83 235.99 245.09 237.74 243.66 239.16C242.23 240.58 240.92 243.12 239.86 242.96C238.80 242.80 237.93 240.27 237.29 238.21C236.66 236.15 236.30 233.46 236.06 230.61C235.82 227.76 235.84 224.12 235.87 221.11C235.90 218.10 235.98 214.78 236.25 212.56C236.52 210.34 236.96 208.60 237.48 207.81C238.01 207.02 238.51 207.34 239.38 207.81Z" fill="#5062ff"/><g clip-path="url(#k16)"><path d="M237.99 212.37C239.32 212.15 242.06 211.93 243.91 212.37C245.76 212.82 247.37 213.73 249.09 215.04C250.82 216.34 252.79 218.49 254.27 220.22C255.75 221.94 257.75 223.77 257.97 225.40C258.19 227.02 256.86 228.55 255.60 229.98C254.35 231.41 252.27 232.67 250.42 233.98C248.57 235.29 246.16 236.96 244.50 237.83C242.85 238.69 241.72 239.36 240.51 239.16C239.30 238.96 238.19 238.17 237.25 236.64C236.31 235.11 235.43 232.18 234.88 229.98C234.34 227.79 234.02 225.64 234.00 223.47C233.97 221.30 234.42 218.59 234.74 216.96C235.06 215.33 235.38 214.47 235.92 213.70C236.46 212.94 236.66 212.59 237.99 212.37Z" fill="#4672fb"/><path d="M238.91 214.09C240.06 213.90 242.43 213.71 244.03 214.09C245.63 214.48 247.02 215.27 248.51 216.40C250.01 217.53 251.71 219.38 252.99 220.88C254.27 222.37 256.00 223.95 256.19 225.36C256.38 226.76 255.23 228.09 254.14 229.32C253.06 230.56 251.26 231.65 249.66 232.78C248.06 233.91 245.97 235.36 244.54 236.11C243.11 236.85 242.13 237.43 241.09 237.26C240.04 237.09 239.08 236.41 238.27 235.08C237.46 233.76 236.69 231.22 236.22 229.32C235.75 227.43 235.48 225.57 235.46 223.69C235.43 221.81 235.82 219.47 236.10 218.06C236.37 216.65 236.65 215.91 237.12 215.24C237.59 214.58 237.76 214.28 238.91 214.09Z" fill="#3a88f4"/><path d="M239.65 215.47C240.66 215.30 242.73 215.13 244.13 215.47C245.53 215.80 246.74 216.49 248.05 217.48C249.35 218.47 250.85 220.10 251.97 221.40C253.09 222.71 254.60 224.09 254.77 225.32C254.94 226.56 253.93 227.71 252.98 228.80C252.02 229.88 250.46 230.83 249.06 231.82C247.66 232.81 245.83 234.08 244.58 234.73C243.33 235.39 242.47 235.89 241.55 235.74C240.64 235.59 239.80 234.99 239.09 233.84C238.38 232.68 237.71 230.46 237.30 228.80C236.89 227.13 236.64 225.51 236.62 223.87C236.61 222.23 236.94 220.17 237.18 218.94C237.43 217.71 237.67 217.05 238.08 216.48C238.49 215.90 238.64 215.64 239.65 215.47Z" fill="#2d9ce8"/></g><path d="M240.29 216.67C241.17 216.53 242.99 216.38 244.21 216.67C245.44 216.97 246.50 217.57 247.64 218.44C248.79 219.30 250.09 220.72 251.07 221.87C252.05 223.01 253.38 224.22 253.52 225.30C253.67 226.37 252.79 227.39 251.95 228.33C251.12 229.28 249.75 230.11 248.52 230.98C247.30 231.85 245.70 232.96 244.60 233.53C243.51 234.10 242.76 234.54 241.96 234.41C241.16 234.28 240.42 233.76 239.80 232.74C239.18 231.73 238.59 229.79 238.23 228.33C237.87 226.88 237.66 225.46 237.65 224.02C237.63 222.58 237.92 220.79 238.14 219.71C238.35 218.63 238.56 218.06 238.92 217.55C239.28 217.05 239.41 216.82 240.29 216.67Z" fill="#24acd4"/><path d="M240.75 217.53C241.54 217.40 243.17 217.27 244.27 217.53C245.37 217.80 246.33 218.34 247.35 219.12C248.38 219.89 249.55 221.17 250.43 222.20C251.31 223.22 252.50 224.31 252.63 225.28C252.76 226.24 251.97 227.15 251.22 228.00C250.48 228.85 249.24 229.60 248.14 230.38C247.04 231.16 245.61 232.15 244.62 232.67C243.64 233.18 242.97 233.58 242.25 233.46C241.53 233.34 240.87 232.87 240.31 231.96C239.75 231.05 239.23 229.31 238.90 228.00C238.58 226.70 238.39 225.42 238.38 224.13C238.36 222.84 238.63 221.23 238.82 220.26C239.01 219.29 239.20 218.78 239.52 218.32C239.84 217.87 239.96 217.66 240.75 217.53Z" fill="#25bcb0"/><path d="M241.26 218.48C241.95 218.36 243.38 218.25 244.34 218.48C245.30 218.71 246.13 219.18 247.03 219.86C247.93 220.54 248.96 221.66 249.73 222.56C250.50 223.46 251.54 224.41 251.65 225.25C251.77 226.10 251.08 226.90 250.42 227.64C249.77 228.39 248.69 229.04 247.73 229.72C246.76 230.40 245.51 231.27 244.65 231.72C243.79 232.17 243.20 232.52 242.57 232.41C241.94 232.31 241.36 231.90 240.87 231.11C240.39 230.31 239.92 228.78 239.64 227.64C239.36 226.50 239.19 225.38 239.18 224.25C239.17 223.12 239.40 221.71 239.56 220.86C239.73 220.02 239.90 219.57 240.18 219.17C240.46 218.77 240.56 218.59 241.26 218.48Z" fill="#52c688"/><path d="M241.95 219.77C242.51 219.68 243.65 219.58 244.43 219.77C245.20 219.95 245.87 220.34 246.60 220.88C247.32 221.43 248.15 222.33 248.77 223.05C249.39 223.78 250.22 224.54 250.32 225.22C250.41 225.91 249.85 226.55 249.33 227.15C248.80 227.75 247.93 228.27 247.16 228.82C246.38 229.37 245.37 230.07 244.68 230.43C243.98 230.79 243.51 231.07 243.00 230.99C242.50 230.91 242.03 230.58 241.64 229.94C241.25 229.30 240.87 228.07 240.65 227.15C240.42 226.23 240.28 225.33 240.27 224.42C240.26 223.51 240.45 222.37 240.58 221.69C240.72 221.01 240.85 220.65 241.08 220.33C241.31 220.01 241.39 219.86 241.95 219.77Z" fill="#a5cf48"/><path d="M242.50 220.80C242.95 220.72 243.87 220.65 244.50 220.80C245.12 220.95 245.67 221.26 246.25 221.70C246.83 222.14 247.50 222.87 248.00 223.45C248.50 224.03 249.17 224.65 249.25 225.20C249.32 225.75 248.88 226.27 248.45 226.75C248.02 227.23 247.32 227.66 246.70 228.10C246.07 228.54 245.26 229.11 244.70 229.40C244.14 229.69 243.76 229.92 243.35 229.85C242.94 229.78 242.57 229.52 242.25 229.00C241.93 228.48 241.63 227.49 241.45 226.75C241.27 226.01 241.16 225.28 241.15 224.55C241.14 223.82 241.29 222.90 241.40 222.35C241.51 221.80 241.62 221.51 241.80 221.25C241.98 220.99 242.05 220.88 242.50 220.80Z" fill="#ecd42a"/><path d="M243.05 221.83C243.39 221.77 244.10 221.72 244.57 221.83C245.05 221.95 245.46 222.18 245.90 222.52C246.35 222.85 246.85 223.40 247.23 223.85C247.61 224.29 248.12 224.76 248.18 225.18C248.24 225.59 247.90 225.99 247.57 226.35C247.25 226.72 246.72 227.04 246.24 227.38C245.77 227.72 245.15 228.15 244.72 228.37C244.30 228.59 244.01 228.76 243.70 228.71C243.39 228.66 243.10 228.46 242.86 228.06C242.62 227.67 242.39 226.92 242.25 226.35C242.11 225.79 242.03 225.24 242.03 224.68C242.02 224.12 242.13 223.43 242.22 223.01C242.30 222.59 242.38 222.37 242.52 222.17C242.66 221.98 242.71 221.89 243.05 221.83Z" fill="#fdd227"/><path d="M243.97 223.55C244.13 223.52 244.47 223.50 244.69 223.55C244.92 223.61 245.11 223.72 245.32 223.88C245.53 224.03 245.77 224.30 245.95 224.51C246.13 224.72 246.38 224.94 246.40 225.14C246.43 225.33 246.27 225.52 246.11 225.69C245.96 225.87 245.71 226.02 245.48 226.18C245.26 226.34 244.96 226.54 244.76 226.65C244.56 226.75 244.42 226.83 244.28 226.81C244.13 226.79 244.00 226.69 243.88 226.50C243.77 226.32 243.66 225.96 243.59 225.69C243.53 225.43 243.49 225.17 243.49 224.90C243.48 224.64 243.54 224.31 243.58 224.11C243.61 223.91 243.65 223.81 243.72 223.71C243.79 223.62 243.81 223.58 243.97 223.55Z" fill="#ffbc2d"/></g>
</g>
<path d="M240.20 216.50C241.10 216.35 242.95 216.20 244.20 216.50C245.45 216.80 246.53 217.42 247.70 218.30C248.87 219.18 250.20 220.63 251.20 221.80C252.20 222.97 253.55 224.20 253.70 225.30C253.85 226.40 252.95 227.43 252.10 228.40C251.25 229.37 249.85 230.22 248.60 231.10C247.35 231.98 245.72 233.12 244.60 233.70C243.48 234.28 242.72 234.73 241.90 234.60C241.08 234.47 240.33 233.93 239.70 232.90C239.07 231.87 238.47 229.88 238.10 228.40C237.73 226.92 237.52 225.47 237.50 224.00C237.48 222.53 237.78 220.70 238.00 219.60C238.22 218.50 238.43 217.92 238.80 217.40C239.17 216.88 239.30 216.65 240.20 216.50Z" fill="none" stroke="#e01e30" stroke-width="1.25"/>
<rect x="230.6" y="200.9" width="60.8" height="63.6" fill="none" stroke="#231f20" stroke-width="1"/>
<text x="237.4" y="276.8" font-size="9.65" text-anchor="middle" fill="#231f20">1.5</text>
<text x="264.4" y="276.8" font-size="9.65" text-anchor="middle" fill="#231f20">2.5</text>
<text x="291.4" y="276.8" font-size="9.65" text-anchor="middle" fill="#231f20">3.5</text>
<text x="226.2" y="215.2" font-size="9.65" text-anchor="end" fill="#231f20">0.8</text>
<text x="226.2" y="236.4" font-size="9.65" text-anchor="end" fill="#231f20">0.7</text>
<text x="226.2" y="257.6" font-size="9.65" text-anchor="end" fill="#231f20">0.6</text>
<path d="M237.36 264.50v-1.3M237.36 200.90v1.3M264.38 264.50v-1.3M264.38 200.90v1.3M230.60 211.50h1.3M291.40 211.50h-1.3M230.60 232.70h1.3M291.40 232.70h-1.3M230.60 253.90h1.3M291.40 253.90h-1.3" stroke="#231f20" stroke-width="0.8" fill="none"/>
</g>
<g>
<clipPath id="cp23"><rect x="319.4" y="200.9" width="60.8" height="63.6"/></clipPath>
<g clip-path="url(#cp23)">
<path d="M357.40 226.90C357.40 229.23 356.59 231.88 355.26 233.90C353.92 235.92 351.71 237.86 349.40 239.02C347.09 240.19 344.07 240.90 341.40 240.90C338.73 240.90 335.71 240.19 333.40 239.02C331.09 237.86 328.88 235.92 327.54 233.90C326.21 231.88 325.40 229.23 325.40 226.90C325.40 224.57 326.21 221.92 327.54 219.90C328.88 217.88 331.09 215.94 333.40 214.78C335.71 213.61 338.73 212.90 341.40 212.90C344.07 212.90 347.09 213.61 349.40 214.78C351.71 215.94 353.92 217.88 355.26 219.90C356.59 221.92 357.40 224.57 357.40 226.90Z" fill="#b8bcff" fill-opacity="0.28" filter="url(#sp)"/>
<path d="M326.76 203.26C327.86 203.86 329.26 205.46 330.96 206.86C332.66 208.26 334.96 209.86 336.96 211.66C338.96 213.46 340.86 215.46 342.96 217.66C345.06 219.86 349.36 222.66 349.56 224.86C349.76 227.06 346.06 228.86 344.16 230.86C342.26 232.86 340.16 234.86 338.16 236.86C336.16 238.86 333.96 241.06 332.16 242.86C330.36 244.66 328.70 247.86 327.36 247.66C326.02 247.46 324.92 244.26 324.12 241.66C323.32 239.06 322.86 235.66 322.56 232.06C322.26 228.46 322.28 223.86 322.32 220.06C322.36 216.26 322.46 212.06 322.80 209.26C323.14 206.46 323.70 204.26 324.36 203.26C325.02 202.26 325.66 202.66 326.76 203.26Z" fill="#a9adff" fill-opacity="0.40" filter="url(#bl2)"/><path d="M327.50 205.63C328.48 206.16 329.73 207.59 331.25 208.84C332.76 210.08 334.81 211.51 336.60 213.12C338.38 214.72 340.07 216.50 341.95 218.47C343.82 220.43 347.65 222.92 347.83 224.89C348.01 226.85 344.71 228.45 343.02 230.24C341.32 232.02 339.45 233.80 337.67 235.59C335.88 237.37 333.92 239.33 332.32 240.94C330.71 242.54 329.23 245.39 328.04 245.22C326.84 245.04 325.86 242.18 325.15 239.87C324.43 237.55 324.02 234.52 323.76 231.31C323.49 228.10 323.51 223.99 323.54 220.61C323.58 217.22 323.67 213.47 323.97 210.98C324.27 208.48 324.77 206.52 325.36 205.63C325.95 204.73 326.52 205.09 327.50 205.63Z" fill="#8c94ff" fill-opacity="0.60" filter="url(#ro2)"/><g filter="url(#ro)" opacity="1.00"><clipPath id="k17"><path d="M328.18 207.81C329.06 208.28 330.16 209.55 331.51 210.66C332.86 211.77 334.68 213.03 336.26 214.46C337.84 215.89 339.35 217.47 341.01 219.21C342.67 220.95 346.08 223.17 346.23 224.91C346.39 226.65 343.46 228.08 341.96 229.66C340.46 231.24 338.79 232.83 337.21 234.41C335.63 235.99 333.88 237.74 332.46 239.16C331.03 240.58 329.72 243.12 328.66 242.96C327.60 242.80 326.73 240.27 326.09 238.21C325.46 236.15 325.10 233.46 324.86 230.61C324.62 227.76 324.64 224.12 324.67 221.11C324.70 218.10 324.78 214.78 325.05 212.56C325.32 210.34 325.76 208.60 326.28 207.81C326.81 207.02 327.31 207.34 328.18 207.81Z"/></clipPath><path d="M328.18 207.81C329.06 208.28 330.16 209.55 331.51 210.66C332.86 211.77 334.68 213.03 336.26 214.46C337.84 215.89 339.35 217.47 341.01 219.21C342.67 220.95 346.08 223.17 346.23 224.91C346.39 226.65 343.46 228.08 341.96 229.66C340.46 231.24 338.79 232.83 337.21 234.41C335.63 235.99 333.88 237.74 332.46 239.16C331.03 240.58 329.72 243.12 328.66 242.96C327.60 242.80 326.73 240.27 326.09 238.21C325.46 236.15 325.10 233.46 324.86 230.61C324.62 227.76 324.64 224.12 324.67 221.11C324.70 218.10 324.78 214.78 325.05 212.56C325.32 210.34 325.76 208.60 326.28 207.81C326.81 207.02 327.31 207.34 328.18 207.81Z" fill="#5062ff"/><g clip-path="url(#k17)"><path d="M326.79 212.37C328.12 212.15 330.86 211.93 332.71 212.37C334.56 212.82 336.17 213.73 337.89 215.04C339.62 216.34 341.59 218.49 343.07 220.22C344.55 221.94 346.55 223.77 346.77 225.40C346.99 227.02 345.66 228.55 344.40 229.98C343.15 231.41 341.07 232.67 339.22 233.98C337.37 235.29 334.96 236.96 333.30 237.83C331.65 238.69 330.52 239.36 329.31 239.16C328.10 238.96 326.99 238.17 326.05 236.64C325.11 235.11 324.23 232.18 323.68 229.98C323.14 227.79 322.82 225.64 322.80 223.47C322.77 221.30 323.22 218.59 323.54 216.96C323.86 215.33 324.18 214.47 324.72 213.70C325.26 212.94 325.46 212.59 326.79 212.37Z" fill="#4672fb"/><path d="M327.71 214.09C328.86 213.90 331.23 213.71 332.83 214.09C334.43 214.48 335.82 215.27 337.31 216.40C338.81 217.53 340.51 219.38 341.79 220.88C343.07 222.37 344.80 223.95 344.99 225.36C345.18 226.76 344.03 228.09 342.94 229.32C341.86 230.56 340.06 231.65 338.46 232.78C336.86 233.91 334.77 235.36 333.34 236.11C331.91 236.85 330.93 237.43 329.89 237.26C328.84 237.09 327.88 236.41 327.07 235.08C326.26 233.76 325.49 231.22 325.02 229.32C324.55 227.43 324.28 225.57 324.26 223.69C324.23 221.81 324.62 219.47 324.90 218.06C325.17 216.65 325.45 215.91 325.92 215.24C326.39 214.58 326.56 214.28 327.71 214.09Z" fill="#3a88f4"/><path d="M328.45 215.47C329.46 215.30 331.53 215.13 332.93 215.47C334.33 215.80 335.54 216.49 336.85 217.48C338.15 218.47 339.65 220.10 340.77 221.40C341.89 222.71 343.40 224.09 343.57 225.32C343.74 226.56 342.73 227.71 341.78 228.80C340.82 229.88 339.26 230.83 337.86 231.82C336.46 232.81 334.63 234.08 333.38 234.73C332.13 235.39 331.27 235.89 330.35 235.74C329.44 235.59 328.60 234.99 327.89 233.84C327.18 232.68 326.51 230.46 326.10 228.80C325.69 227.13 325.44 225.51 325.42 223.87C325.41 222.23 325.74 220.17 325.98 218.94C326.23 217.71 326.47 217.05 326.88 216.48C327.29 215.90 327.44 215.64 328.45 215.47Z" fill="#2d9ce8"/></g><path d="M329.09 216.67C329.97 216.53 331.79 216.38 333.01 216.67C334.24 216.97 335.30 217.57 336.44 218.44C337.59 219.30 338.89 220.72 339.87 221.87C340.85 223.01 342.17 224.22 342.32 225.30C342.47 226.37 341.59 227.39 340.75 228.33C339.92 229.28 338.55 230.11 337.32 230.98C336.10 231.85 334.50 232.96 333.40 233.53C332.31 234.10 331.56 234.54 330.76 234.41C329.96 234.28 329.22 233.76 328.60 232.74C327.98 231.73 327.39 229.79 327.03 228.33C326.67 226.88 326.46 225.46 326.45 224.02C326.43 222.58 326.72 220.79 326.94 219.71C327.15 218.63 327.36 218.06 327.72 217.55C328.08 217.05 328.21 216.82 329.09 216.67Z" fill="#24acd4"/><path d="M329.55 217.53C330.34 217.40 331.97 217.27 333.07 217.53C334.17 217.80 335.13 218.34 336.15 219.12C337.18 219.89 338.35 221.17 339.23 222.20C340.11 223.22 341.30 224.31 341.43 225.28C341.56 226.24 340.77 227.15 340.02 228.00C339.28 228.85 338.04 229.60 336.94 230.38C335.84 231.16 334.41 232.15 333.42 232.67C332.44 233.18 331.77 233.58 331.05 233.46C330.33 233.34 329.67 232.87 329.11 231.96C328.55 231.05 328.03 229.31 327.70 228.00C327.38 226.70 327.19 225.42 327.18 224.13C327.16 222.84 327.43 221.23 327.62 220.26C327.81 219.29 328.00 218.78 328.32 218.32C328.64 217.87 328.76 217.66 329.55 217.53Z" fill="#25bcb0"/><path d="M330.06 218.48C330.75 218.36 332.18 218.25 333.14 218.48C334.10 218.71 334.93 219.18 335.83 219.86C336.73 220.54 337.76 221.66 338.53 222.56C339.30 223.46 340.34 224.41 340.45 225.25C340.57 226.10 339.88 226.90 339.22 227.64C338.57 228.39 337.49 229.04 336.53 229.72C335.56 230.40 334.31 231.27 333.45 231.72C332.59 232.17 332.00 232.52 331.37 232.41C330.74 232.31 330.16 231.90 329.67 231.11C329.19 230.31 328.72 228.78 328.44 227.64C328.16 226.50 327.99 225.38 327.98 224.25C327.97 223.12 328.20 221.71 328.36 220.86C328.53 220.02 328.70 219.57 328.98 219.17C329.26 218.77 329.37 218.59 330.06 218.48Z" fill="#52c688"/><path d="M330.75 219.77C331.31 219.68 332.45 219.58 333.23 219.77C334.00 219.95 334.67 220.34 335.40 220.88C336.12 221.43 336.95 222.33 337.57 223.05C338.19 223.78 339.02 224.54 339.12 225.22C339.21 225.91 338.65 226.55 338.13 227.15C337.60 227.75 336.73 228.27 335.96 228.82C335.18 229.37 334.17 230.07 333.48 230.43C332.78 230.79 332.31 231.07 331.80 230.99C331.30 230.91 330.83 230.58 330.44 229.94C330.05 229.30 329.67 228.07 329.45 227.15C329.22 226.23 329.08 225.33 329.07 224.42C329.06 223.51 329.25 222.37 329.38 221.69C329.52 221.01 329.65 220.65 329.88 220.33C330.11 220.01 330.19 219.86 330.75 219.77Z" fill="#a5cf48"/><path d="M331.30 220.80C331.75 220.72 332.67 220.65 333.30 220.80C333.92 220.95 334.47 221.26 335.05 221.70C335.63 222.14 336.30 222.87 336.80 223.45C337.30 224.03 337.97 224.65 338.05 225.20C338.12 225.75 337.67 226.27 337.25 226.75C336.82 227.23 336.12 227.66 335.50 228.10C334.87 228.54 334.06 229.11 333.50 229.40C332.94 229.69 332.56 229.92 332.15 229.85C331.74 229.78 331.37 229.52 331.05 229.00C330.73 228.48 330.43 227.49 330.25 226.75C330.07 226.01 329.96 225.28 329.95 224.55C329.94 223.82 330.09 222.90 330.20 222.35C330.31 221.80 330.42 221.51 330.60 221.25C330.78 220.99 330.85 220.88 331.30 220.80Z" fill="#ecd42a"/><path d="M331.85 221.83C332.19 221.77 332.90 221.72 333.37 221.83C333.85 221.95 334.26 222.18 334.70 222.52C335.15 222.85 335.65 223.40 336.03 223.85C336.41 224.29 336.92 224.76 336.98 225.18C337.04 225.59 336.70 225.99 336.37 226.35C336.05 226.72 335.52 227.04 335.04 227.38C334.57 227.72 333.95 228.15 333.52 228.37C333.10 228.59 332.81 228.76 332.50 228.71C332.19 228.66 331.90 228.46 331.66 228.06C331.42 227.67 331.19 226.92 331.05 226.35C330.91 225.79 330.83 225.24 330.83 224.68C330.82 224.12 330.93 223.43 331.02 223.01C331.10 222.59 331.18 222.37 331.32 222.17C331.46 221.98 331.51 221.89 331.85 221.83Z" fill="#fdd227"/><path d="M332.77 223.55C332.93 223.52 333.27 223.50 333.49 223.55C333.72 223.61 333.91 223.72 334.12 223.88C334.33 224.03 334.57 224.30 334.75 224.51C334.93 224.72 335.17 224.94 335.20 225.14C335.23 225.33 335.07 225.52 334.91 225.69C334.76 225.87 334.51 226.02 334.28 226.18C334.06 226.34 333.76 226.54 333.56 226.65C333.36 226.75 333.22 226.83 333.08 226.81C332.93 226.79 332.80 226.69 332.68 226.50C332.57 226.32 332.46 225.96 332.39 225.69C332.33 225.43 332.29 225.17 332.29 224.90C332.28 224.64 332.34 224.31 332.38 224.11C332.41 223.91 332.45 223.81 332.52 223.71C332.59 223.62 332.61 223.58 332.77 223.55Z" fill="#ffbc2d"/></g>
</g>
<path d="M329.00 216.50C329.90 216.35 331.75 216.20 333.00 216.50C334.25 216.80 335.33 217.42 336.50 218.30C337.67 219.18 339.00 220.63 340.00 221.80C341.00 222.97 342.35 224.20 342.50 225.30C342.65 226.40 341.75 227.43 340.90 228.40C340.05 229.37 338.65 230.22 337.40 231.10C336.15 231.98 334.52 233.12 333.40 233.70C332.28 234.28 331.52 234.73 330.70 234.60C329.88 234.47 329.13 233.93 328.50 232.90C327.87 231.87 327.27 229.88 326.90 228.40C326.53 226.92 326.32 225.47 326.30 224.00C326.28 222.53 326.58 220.70 326.80 219.60C327.02 218.50 327.23 217.92 327.60 217.40C327.97 216.88 328.10 216.65 329.00 216.50Z" fill="none" stroke="#e01e30" stroke-width="1.25"/>
<rect x="319.4" y="200.9" width="60.8" height="63.6" fill="none" stroke="#231f20" stroke-width="1"/>
<text x="326.2" y="276.8" font-size="9.65" text-anchor="middle" fill="#231f20">1.5</text>
<text x="353.2" y="276.8" font-size="9.65" text-anchor="middle" fill="#231f20">2.5</text>
<text x="380.2" y="276.8" font-size="9.65" text-anchor="middle" fill="#231f20">3.5</text>
<text x="315.0" y="215.2" font-size="9.65" text-anchor="end" fill="#231f20">0.8</text>
<text x="315.0" y="236.4" font-size="9.65" text-anchor="end" fill="#231f20">0.7</text>
<text x="315.0" y="257.6" font-size="9.65" text-anchor="end" fill="#231f20">0.6</text>
<path d="M326.16 264.50v-1.3M326.16 200.90v1.3M353.18 264.50v-1.3M353.18 200.90v1.3M319.40 211.50h1.3M380.20 211.50h-1.3M319.40 232.70h1.3M380.20 232.70h-1.3M319.40 253.90h1.3M380.20 253.90h-1.3" stroke="#231f20" stroke-width="0.8" fill="none"/>
</g>
<g>
<clipPath id="cp24"><rect x="409.6" y="200.9" width="60.8" height="63.6"/></clipPath>
<g clip-path="url(#cp24)">
<path d="M447.60 226.90C447.60 229.23 446.79 231.88 445.46 233.90C444.12 235.92 441.91 237.86 439.60 239.02C437.29 240.19 434.27 240.90 431.60 240.90C428.93 240.90 425.91 240.19 423.60 239.02C421.29 237.86 419.08 235.92 417.74 233.90C416.41 231.88 415.60 229.23 415.60 226.90C415.60 224.57 416.41 221.92 417.74 219.90C419.08 217.88 421.29 215.94 423.60 214.78C425.91 213.61 428.93 212.90 431.60 212.90C434.27 212.90 437.29 213.61 439.60 214.78C441.91 215.94 444.12 217.88 445.46 219.90C446.79 221.92 447.60 224.57 447.60 226.90Z" fill="#b8bcff" fill-opacity="0.28" filter="url(#sp)"/>
<path d="M416.96 203.26C418.06 203.86 419.46 205.46 421.16 206.86C422.86 208.26 425.16 209.86 427.16 211.66C429.16 213.46 431.06 215.46 433.16 217.66C435.26 219.86 439.56 222.66 439.76 224.86C439.96 227.06 436.26 228.86 434.36 230.86C432.46 232.86 430.36 234.86 428.36 236.86C426.36 238.86 424.16 241.06 422.36 242.86C420.56 244.66 418.90 247.86 417.56 247.66C416.22 247.46 415.12 244.26 414.32 241.66C413.52 239.06 413.06 235.66 412.76 232.06C412.46 228.46 412.48 223.86 412.52 220.06C412.56 216.26 412.66 212.06 413.00 209.26C413.34 206.46 413.90 204.26 414.56 203.26C415.22 202.26 415.86 202.66 416.96 203.26Z" fill="#a9adff" fill-opacity="0.40" filter="url(#bl2)"/><path d="M417.70 205.63C418.68 206.16 419.93 207.59 421.45 208.84C422.96 210.08 425.01 211.51 426.80 213.12C428.58 214.72 430.27 216.50 432.15 218.47C434.02 220.43 437.85 222.92 438.03 224.89C438.21 226.85 434.91 228.45 433.22 230.24C431.52 232.02 429.65 233.80 427.87 235.59C426.08 237.37 424.12 239.33 422.52 240.94C420.91 242.54 419.43 245.39 418.24 245.22C417.04 245.04 416.06 242.18 415.35 239.87C414.63 237.55 414.22 234.52 413.96 231.31C413.69 228.10 413.71 223.99 413.74 220.61C413.78 217.22 413.87 213.47 414.17 210.98C414.47 208.48 414.97 206.52 415.56 205.63C416.15 204.73 416.72 205.09 417.70 205.63Z" fill="#8c94ff" fill-opacity="0.60" filter="url(#ro2)"/><g filter="url(#ro)" opacity="1.00"><clipPath id="k18"><path d="M418.38 207.81C419.26 208.28 420.36 209.55 421.71 210.66C423.06 211.77 424.88 213.03 426.46 214.46C428.04 215.89 429.55 217.47 431.21 219.21C432.87 220.95 436.28 223.17 436.44 224.91C436.59 226.65 433.66 228.08 432.16 229.66C430.66 231.24 428.99 232.83 427.41 234.41C425.83 235.99 424.09 237.74 422.66 239.16C421.24 240.58 419.92 243.12 418.86 242.96C417.80 242.80 416.93 240.27 416.30 238.21C415.66 236.15 415.30 233.46 415.06 230.61C414.82 227.76 414.84 224.12 414.87 221.11C414.90 218.10 414.98 214.78 415.25 212.56C415.52 210.34 415.96 208.60 416.49 207.81C417.01 207.02 417.51 207.34 418.38 207.81Z"/></clipPath><path d="M418.38 207.81C419.26 208.28 420.36 209.55 421.71 210.66C423.06 211.77 424.88 213.03 426.46 214.46C428.04 215.89 429.55 217.47 431.21 219.21C432.87 220.95 436.28 223.17 436.44 224.91C436.59 226.65 433.66 228.08 432.16 229.66C430.66 231.24 428.99 232.83 427.41 234.41C425.83 235.99 424.09 237.74 422.66 239.16C421.24 240.58 419.92 243.12 418.86 242.96C417.80 242.80 416.93 240.27 416.30 238.21C415.66 236.15 415.30 233.46 415.06 230.61C414.82 227.76 414.84 224.12 414.87 221.11C414.90 218.10 414.98 214.78 415.25 212.56C415.52 210.34 415.96 208.60 416.49 207.81C417.01 207.02 417.51 207.34 418.38 207.81Z" fill="#5062ff"/><g clip-path="url(#k18)"><path d="M416.99 212.37C418.32 212.15 421.06 211.93 422.91 212.37C424.76 212.82 426.37 213.73 428.09 215.04C429.82 216.34 431.79 218.49 433.27 220.22C434.75 221.94 436.75 223.77 436.97 225.40C437.19 227.02 435.86 228.55 434.60 229.98C433.35 231.41 431.27 232.67 429.42 233.98C427.57 235.29 425.16 236.96 423.50 237.83C421.85 238.69 420.72 239.36 419.51 239.16C418.30 238.96 417.19 238.17 416.25 236.64C415.31 235.11 414.43 232.18 413.88 229.98C413.34 227.79 413.02 225.64 413.00 223.47C412.97 221.30 413.42 218.59 413.74 216.96C414.06 215.33 414.38 214.47 414.92 213.70C415.46 212.94 415.66 212.59 416.99 212.37Z" fill="#4672fb"/><path d="M417.91 214.09C419.06 213.90 421.43 213.71 423.03 214.09C424.63 214.48 426.02 215.27 427.51 216.40C429.01 217.53 430.71 219.38 431.99 220.88C433.27 222.37 435.00 223.95 435.19 225.36C435.38 226.76 434.23 228.09 433.14 229.32C432.06 230.56 430.26 231.65 428.66 232.78C427.06 233.91 424.97 235.36 423.54 236.11C422.11 236.85 421.13 237.43 420.09 237.26C419.04 237.09 418.08 236.41 417.27 235.08C416.46 233.76 415.69 231.22 415.22 229.32C414.75 227.43 414.48 225.57 414.46 223.69C414.43 221.81 414.82 219.47 415.10 218.06C415.37 216.65 415.65 215.91 416.12 215.24C416.59 214.58 416.76 214.28 417.91 214.09Z" fill="#3a88f4"/><path d="M418.65 215.47C419.66 215.30 421.73 215.13 423.13 215.47C424.53 215.80 425.74 216.49 427.05 217.48C428.35 218.47 429.85 220.10 430.97 221.40C432.09 222.71 433.60 224.09 433.77 225.32C433.94 226.56 432.93 227.71 431.98 228.80C431.02 229.88 429.46 230.83 428.06 231.82C426.66 232.81 424.83 234.08 423.58 234.73C422.33 235.39 421.47 235.89 420.55 235.74C419.64 235.59 418.80 234.99 418.09 233.84C417.38 232.68 416.71 230.46 416.30 228.80C415.89 227.13 415.64 225.51 415.62 223.87C415.61 222.23 415.94 220.17 416.18 218.94C416.43 217.71 416.67 217.05 417.08 216.48C417.49 215.90 417.64 215.64 418.65 215.47Z" fill="#2d9ce8"/></g><path d="M419.29 216.67C420.17 216.53 421.99 216.38 423.21 216.67C424.44 216.97 425.50 217.57 426.64 218.44C427.79 219.30 429.09 220.72 430.07 221.87C431.05 223.01 432.38 224.22 432.52 225.30C432.67 226.37 431.79 227.39 430.95 228.33C430.12 229.28 428.75 230.11 427.52 230.98C426.30 231.85 424.70 232.96 423.60 233.53C422.51 234.10 421.76 234.54 420.96 234.41C420.16 234.28 419.42 233.76 418.80 232.74C418.18 231.73 417.59 229.79 417.23 228.33C416.87 226.88 416.66 225.46 416.65 224.02C416.63 222.58 416.92 220.79 417.14 219.71C417.35 218.63 417.56 218.06 417.92 217.55C418.28 217.05 418.41 216.82 419.29 216.67Z" fill="#24acd4"/><path d="M419.75 217.53C420.54 217.40 422.17 217.27 423.27 217.53C424.37 217.80 425.33 218.34 426.35 219.12C427.38 219.89 428.55 221.17 429.43 222.20C430.31 223.22 431.50 224.31 431.63 225.28C431.76 226.24 430.97 227.15 430.22 228.00C429.48 228.85 428.24 229.60 427.14 230.38C426.04 231.16 424.61 232.15 423.62 232.67C422.64 233.18 421.97 233.58 421.25 233.46C420.53 233.34 419.87 232.87 419.31 231.96C418.75 231.05 418.23 229.31 417.90 228.00C417.58 226.70 417.39 225.42 417.38 224.13C417.36 222.84 417.63 221.23 417.82 220.26C418.01 219.29 418.20 218.78 418.52 218.32C418.84 217.87 418.96 217.66 419.75 217.53Z" fill="#25bcb0"/><path d="M420.26 218.48C420.95 218.36 422.38 218.25 423.34 218.48C424.30 218.71 425.13 219.18 426.03 219.86C426.93 220.54 427.96 221.66 428.73 222.56C429.50 223.46 430.54 224.41 430.65 225.25C430.77 226.10 430.08 226.90 429.42 227.64C428.77 228.39 427.69 229.04 426.73 229.72C425.76 230.40 424.51 231.27 423.65 231.72C422.79 232.17 422.20 232.52 421.57 232.41C420.94 232.31 420.36 231.90 419.87 231.11C419.39 230.31 418.92 228.78 418.64 227.64C418.36 226.50 418.19 225.38 418.18 224.25C418.17 223.12 418.40 221.71 418.56 220.86C418.73 220.02 418.90 219.57 419.18 219.17C419.46 218.77 419.57 218.59 420.26 218.48Z" fill="#52c688"/><path d="M420.95 219.77C421.51 219.68 422.65 219.58 423.43 219.77C424.20 219.95 424.87 220.34 425.60 220.88C426.32 221.43 427.15 222.33 427.77 223.05C428.39 223.78 429.23 224.54 429.32 225.22C429.41 225.91 428.85 226.55 428.33 227.15C427.80 227.75 426.93 228.27 426.16 228.82C425.38 229.37 424.37 230.07 423.68 230.43C422.98 230.79 422.51 231.07 422.00 230.99C421.50 230.91 421.03 230.58 420.64 229.94C420.25 229.30 419.87 228.07 419.65 227.15C419.42 226.23 419.28 225.33 419.27 224.42C419.26 223.51 419.45 222.37 419.58 221.69C419.72 221.01 419.85 220.65 420.08 220.33C420.31 220.01 420.39 219.86 420.95 219.77Z" fill="#a5cf48"/><path d="M421.50 220.80C421.95 220.72 422.88 220.65 423.50 220.80C424.12 220.95 424.67 221.26 425.25 221.70C425.83 222.14 426.50 222.87 427.00 223.45C427.50 224.03 428.18 224.65 428.25 225.20C428.32 225.75 427.88 226.27 427.45 226.75C427.02 227.23 426.32 227.66 425.70 228.10C425.07 228.54 424.26 229.11 423.70 229.40C423.14 229.69 422.76 229.92 422.35 229.85C421.94 229.78 421.57 229.52 421.25 229.00C420.93 228.48 420.63 227.49 420.45 226.75C420.27 226.01 420.16 225.28 420.15 224.55C420.14 223.82 420.29 222.90 420.40 222.35C420.51 221.80 420.62 221.51 420.80 221.25C420.98 220.99 421.05 220.88 421.50 220.80Z" fill="#ecd42a"/><path d="M422.05 221.83C422.39 221.77 423.10 221.72 423.57 221.83C424.05 221.95 424.46 222.18 424.90 222.52C425.35 222.85 425.85 223.40 426.23 223.85C426.61 224.29 427.12 224.76 427.18 225.18C427.24 225.59 426.90 225.99 426.57 226.35C426.25 226.72 425.72 227.04 425.24 227.38C424.77 227.72 424.15 228.15 423.72 228.37C423.30 228.59 423.01 228.76 422.70 228.71C422.39 228.66 422.10 228.46 421.86 228.06C421.62 227.67 421.39 226.92 421.25 226.35C421.11 225.79 421.03 225.24 421.03 224.68C421.02 224.12 421.13 223.43 421.22 223.01C421.30 222.59 421.38 222.37 421.52 222.17C421.66 221.98 421.71 221.89 422.05 221.83Z" fill="#fdd227"/><path d="M422.97 223.55C423.13 223.52 423.47 223.50 423.69 223.55C423.92 223.61 424.11 223.72 424.32 223.88C424.53 224.03 424.77 224.30 424.95 224.51C425.13 224.72 425.38 224.94 425.40 225.14C425.43 225.33 425.27 225.52 425.11 225.69C424.96 225.87 424.71 226.02 424.48 226.18C424.26 226.34 423.97 226.54 423.76 226.65C423.56 226.75 423.43 226.83 423.28 226.81C423.13 226.79 423.00 226.69 422.88 226.50C422.77 226.32 422.66 225.96 422.59 225.69C422.53 225.43 422.49 225.17 422.49 224.90C422.48 224.64 422.54 224.31 422.58 224.11C422.62 223.91 422.65 223.81 422.72 223.71C422.79 223.62 422.81 223.58 422.97 223.55Z" fill="#ffbc2d"/></g>
</g>
<path d="M419.20 216.50C420.10 216.35 421.95 216.20 423.20 216.50C424.45 216.80 425.53 217.42 426.70 218.30C427.87 219.18 429.20 220.63 430.20 221.80C431.20 222.97 432.55 224.20 432.70 225.30C432.85 226.40 431.95 227.43 431.10 228.40C430.25 229.37 428.85 230.22 427.60 231.10C426.35 231.98 424.72 233.12 423.60 233.70C422.48 234.28 421.72 234.73 420.90 234.60C420.08 234.47 419.33 233.93 418.70 232.90C418.07 231.87 417.47 229.88 417.10 228.40C416.73 226.92 416.52 225.47 416.50 224.00C416.48 222.53 416.78 220.70 417.00 219.60C417.22 218.50 417.43 217.92 417.80 217.40C418.17 216.88 418.30 216.65 419.20 216.50Z" fill="none" stroke="#e01e30" stroke-width="1.25"/>
<rect x="409.6" y="200.9" width="60.8" height="63.6" fill="none" stroke="#231f20" stroke-width="1"/>
<text x="416.4" y="276.8" font-size="9.65" text-anchor="middle" fill="#231f20">1.5</text>
<text x="443.4" y="276.8" font-size="9.65" text-anchor="middle" fill="#231f20">2.5</text>
<text x="470.4" y="276.8" font-size="9.65" text-anchor="middle" fill="#231f20">3.5</text>
<text x="405.2" y="215.2" font-size="9.65" text-anchor="end" fill="#231f20">0.8</text>
<text x="405.2" y="236.4" font-size="9.65" text-anchor="end" fill="#231f20">0.7</text>
<text x="405.2" y="257.6" font-size="9.65" text-anchor="end" fill="#231f20">0.6</text>
<path d="M416.36 264.50v-1.3M416.36 200.90v1.3M443.38 264.50v-1.3M443.38 200.90v1.3M409.60 211.50h1.3M470.40 211.50h-1.3M409.60 232.70h1.3M470.40 232.70h-1.3M409.60 253.90h1.3M470.40 253.90h-1.3" stroke="#231f20" stroke-width="0.8" fill="none"/>
</g>
<g>
<clipPath id="cp25"><rect x="499.6" y="200.9" width="60.8" height="63.6"/></clipPath>
<g clip-path="url(#cp25)">
<path d="M537.60 226.90C537.60 229.23 536.79 231.88 535.46 233.90C534.12 235.92 531.91 237.86 529.60 239.02C527.29 240.19 524.27 240.90 521.60 240.90C518.93 240.90 515.91 240.19 513.60 239.02C511.29 237.86 509.08 235.92 507.74 233.90C506.41 231.88 505.60 229.23 505.60 226.90C505.60 224.57 506.41 221.92 507.74 219.90C509.08 217.88 511.29 215.94 513.60 214.78C515.91 213.61 518.93 212.90 521.60 212.90C524.27 212.90 527.29 213.61 529.60 214.78C531.91 215.94 534.12 217.88 535.46 219.90C536.79 221.92 537.60 224.57 537.60 226.90Z" fill="#b8bcff" fill-opacity="0.28" filter="url(#sp)"/>
<path d="M506.96 203.26C508.06 203.86 509.46 205.46 511.16 206.86C512.86 208.26 515.16 209.86 517.16 211.66C519.16 213.46 521.06 215.46 523.16 217.66C525.26 219.86 529.56 222.66 529.76 224.86C529.96 227.06 526.26 228.86 524.36 230.86C522.46 232.86 520.36 234.86 518.36 236.86C516.36 238.86 514.16 241.06 512.36 242.86C510.56 244.66 508.90 247.86 507.56 247.66C506.22 247.46 505.12 244.26 504.32 241.66C503.52 239.06 503.06 235.66 502.76 232.06C502.46 228.46 502.48 223.86 502.52 220.06C502.56 216.26 502.66 212.06 503.00 209.26C503.34 206.46 503.90 204.26 504.56 203.26C505.22 202.26 505.86 202.66 506.96 203.26Z" fill="#a9adff" fill-opacity="0.40" filter="url(#bl2)"/><path d="M507.70 205.63C508.68 206.16 509.93 207.59 511.45 208.84C512.96 210.08 515.01 211.51 516.80 213.12C518.58 214.72 520.27 216.50 522.15 218.47C524.02 220.43 527.85 222.92 528.03 224.89C528.21 226.85 524.91 228.45 523.22 230.24C521.52 232.02 519.65 233.80 517.87 235.59C516.08 237.37 514.12 239.33 512.52 240.94C510.91 242.54 509.43 245.39 508.24 245.22C507.04 245.04 506.06 242.18 505.35 239.87C504.63 237.55 504.22 234.52 503.96 231.31C503.69 228.10 503.71 223.99 503.74 220.61C503.78 217.22 503.87 213.47 504.17 210.98C504.47 208.48 504.97 206.52 505.56 205.63C506.15 204.73 506.72 205.09 507.70 205.63Z" fill="#8c94ff" fill-opacity="0.60" filter="url(#ro2)"/><g filter="url(#ro)" opacity="1.00"><clipPath id="k19"><path d="M508.39 207.81C509.26 208.28 510.36 209.55 511.71 210.66C513.06 211.77 514.88 213.03 516.46 214.46C518.04 215.89 519.55 217.47 521.21 219.21C522.87 220.95 526.28 223.17 526.44 224.91C526.59 226.65 523.66 228.08 522.16 229.66C520.66 231.24 518.99 232.83 517.41 234.41C515.83 235.99 514.09 237.74 512.66 239.16C511.24 240.58 509.92 243.12 508.86 242.96C507.80 242.80 506.93 240.27 506.30 238.21C505.66 236.15 505.30 233.46 505.06 230.61C504.82 227.76 504.84 224.12 504.87 221.11C504.90 218.10 504.98 214.78 505.25 212.56C505.52 210.34 505.96 208.60 506.49 207.81C507.01 207.02 507.51 207.34 508.39 207.81Z"/></clipPath><path d="M508.39 207.81C509.26 208.28 510.36 209.55 511.71 210.66C513.06 211.77 514.88 213.03 516.46 214.46C518.04 215.89 519.55 217.47 521.21 219.21C522.87 220.95 526.28 223.17 526.44 224.91C526.59 226.65 523.66 228.08 522.16 229.66C520.66 231.24 518.99 232.83 517.41 234.41C515.83 235.99 514.09 237.74 512.66 239.16C511.24 240.58 509.92 243.12 508.86 242.96C507.80 242.80 506.93 240.27 506.30 238.21C505.66 236.15 505.30 233.46 505.06 230.61C504.82 227.76 504.84 224.12 504.87 221.11C504.90 218.10 504.98 214.78 505.25 212.56C505.52 210.34 505.96 208.60 506.49 207.81C507.01 207.02 507.51 207.34 508.39 207.81Z" fill="#5062ff"/><g clip-path="url(#k19)"><path d="M506.99 212.37C508.32 212.15 511.06 211.93 512.91 212.37C514.76 212.82 516.37 213.73 518.09 215.04C519.82 216.34 521.79 218.49 523.27 220.22C524.75 221.94 526.75 223.77 526.97 225.40C527.19 227.02 525.86 228.55 524.60 229.98C523.35 231.41 521.27 232.67 519.42 233.98C517.57 235.29 515.16 236.96 513.50 237.83C511.85 238.69 510.72 239.36 509.51 239.16C508.30 238.96 507.19 238.17 506.25 236.64C505.31 235.11 504.43 232.18 503.88 229.98C503.34 227.79 503.02 225.64 503.00 223.47C502.97 221.30 503.42 218.59 503.74 216.96C504.06 215.33 504.38 214.47 504.92 213.70C505.46 212.94 505.66 212.59 506.99 212.37Z" fill="#4672fb"/><path d="M507.91 214.09C509.06 213.90 511.43 213.71 513.03 214.09C514.63 214.48 516.02 215.27 517.51 216.40C519.01 217.53 520.71 219.38 521.99 220.88C523.27 222.37 525.00 223.95 525.19 225.36C525.38 226.76 524.23 228.09 523.14 229.32C522.06 230.56 520.26 231.65 518.66 232.78C517.06 233.91 514.97 235.36 513.54 236.11C512.11 236.85 511.13 237.43 510.09 237.26C509.04 237.09 508.08 236.41 507.27 235.08C506.46 233.76 505.69 231.22 505.22 229.32C504.75 227.43 504.48 225.57 504.46 223.69C504.43 221.81 504.82 219.47 505.10 218.06C505.37 216.65 505.65 215.91 506.12 215.24C506.59 214.58 506.76 214.28 507.91 214.09Z" fill="#3a88f4"/><path d="M508.65 215.47C509.66 215.30 511.73 215.13 513.13 215.47C514.53 215.80 515.74 216.49 517.05 217.48C518.35 218.47 519.85 220.10 520.97 221.40C522.09 222.71 523.60 224.09 523.77 225.32C523.94 226.56 522.93 227.71 521.98 228.80C521.02 229.88 519.46 230.83 518.06 231.82C516.66 232.81 514.83 234.08 513.58 234.73C512.33 235.39 511.47 235.89 510.55 235.74C509.64 235.59 508.80 234.99 508.09 233.84C507.38 232.68 506.71 230.46 506.30 228.80C505.89 227.13 505.64 225.51 505.62 223.87C505.61 222.23 505.94 220.17 506.18 218.94C506.43 217.71 506.67 217.05 507.08 216.48C507.49 215.90 507.64 215.64 508.65 215.47Z" fill="#2d9ce8"/></g><path d="M509.29 216.67C510.17 216.53 511.99 216.38 513.21 216.67C514.44 216.97 515.50 217.57 516.64 218.44C517.79 219.30 519.09 220.72 520.07 221.87C521.05 223.01 522.38 224.22 522.52 225.30C522.67 226.37 521.79 227.39 520.95 228.33C520.12 229.28 518.75 230.11 517.52 230.98C516.30 231.85 514.70 232.96 513.60 233.53C512.51 234.10 511.76 234.54 510.96 234.41C510.16 234.28 509.42 233.76 508.80 232.74C508.18 231.73 507.59 229.79 507.23 228.33C506.87 226.88 506.66 225.46 506.65 224.02C506.63 222.58 506.92 220.79 507.14 219.71C507.35 218.63 507.56 218.06 507.92 217.55C508.28 217.05 508.41 216.82 509.29 216.67Z" fill="#24acd4"/><path d="M509.75 217.53C510.54 217.40 512.17 217.27 513.27 217.53C514.37 217.80 515.33 218.34 516.35 219.12C517.38 219.89 518.55 221.17 519.43 222.20C520.31 223.22 521.50 224.31 521.63 225.28C521.76 226.24 520.97 227.15 520.22 228.00C519.48 228.85 518.24 229.60 517.14 230.38C516.04 231.16 514.61 232.15 513.62 232.67C512.64 233.18 511.97 233.58 511.25 233.46C510.53 233.34 509.87 232.87 509.31 231.96C508.75 231.05 508.23 229.31 507.90 228.00C507.58 226.70 507.39 225.42 507.38 224.13C507.36 222.84 507.63 221.23 507.82 220.26C508.01 219.29 508.20 218.78 508.52 218.32C508.84 217.87 508.96 217.66 509.75 217.53Z" fill="#25bcb0"/><path d="M510.26 218.48C510.95 218.36 512.38 218.25 513.34 218.48C514.30 218.71 515.13 219.18 516.03 219.86C516.93 220.54 517.96 221.66 518.73 222.56C519.50 223.46 520.54 224.41 520.65 225.25C520.77 226.10 520.08 226.90 519.42 227.64C518.77 228.39 517.69 229.04 516.73 229.72C515.76 230.40 514.51 231.27 513.65 231.72C512.79 232.17 512.20 232.52 511.57 232.41C510.94 232.31 510.36 231.90 509.87 231.11C509.39 230.31 508.92 228.78 508.64 227.64C508.36 226.50 508.19 225.38 508.18 224.25C508.17 223.12 508.40 221.71 508.56 220.86C508.73 220.02 508.90 219.57 509.18 219.17C509.46 218.77 509.57 218.59 510.26 218.48Z" fill="#52c688"/><path d="M510.95 219.77C511.51 219.68 512.65 219.58 513.43 219.77C514.20 219.95 514.87 220.34 515.60 220.88C516.32 221.43 517.15 222.33 517.77 223.05C518.39 223.78 519.23 224.54 519.32 225.22C519.41 225.91 518.85 226.55 518.33 227.15C517.80 227.75 516.93 228.27 516.16 228.82C515.38 229.37 514.37 230.07 513.68 230.43C512.98 230.79 512.51 231.07 512.00 230.99C511.50 230.91 511.03 230.58 510.64 229.94C510.25 229.30 509.87 228.07 509.65 227.15C509.42 226.23 509.28 225.33 509.27 224.42C509.26 223.51 509.45 222.37 509.58 221.69C509.72 221.01 509.85 220.65 510.08 220.33C510.31 220.01 510.39 219.86 510.95 219.77Z" fill="#a5cf48"/><path d="M511.50 220.80C511.95 220.72 512.88 220.65 513.50 220.80C514.13 220.95 514.67 221.26 515.25 221.70C515.83 222.14 516.50 222.87 517.00 223.45C517.50 224.03 518.18 224.65 518.25 225.20C518.33 225.75 517.88 226.27 517.45 226.75C517.03 227.23 516.33 227.66 515.70 228.10C515.08 228.54 514.26 229.11 513.70 229.40C513.14 229.69 512.76 229.92 512.35 229.85C511.94 229.78 511.57 229.52 511.25 229.00C510.93 228.48 510.63 227.49 510.45 226.75C510.27 226.01 510.16 225.28 510.15 224.55C510.14 223.82 510.29 222.90 510.40 222.35C510.51 221.80 510.62 221.51 510.80 221.25C510.98 220.99 511.05 220.88 511.50 220.80Z" fill="#ecd42a"/><path d="M512.05 221.83C512.39 221.77 513.10 221.72 513.57 221.83C514.05 221.95 514.46 222.18 514.90 222.52C515.35 222.85 515.85 223.40 516.23 223.85C516.61 224.29 517.12 224.76 517.18 225.18C517.24 225.59 516.90 225.99 516.57 226.35C516.25 226.72 515.72 227.04 515.24 227.38C514.77 227.72 514.15 228.15 513.72 228.37C513.30 228.59 513.01 228.76 512.70 228.71C512.39 228.66 512.10 228.46 511.86 228.06C511.62 227.67 511.39 226.92 511.25 226.35C511.11 225.79 511.03 225.24 511.03 224.68C511.02 224.12 511.13 223.43 511.22 223.01C511.30 222.59 511.38 222.37 511.52 222.17C511.66 221.98 511.71 221.89 512.05 221.83Z" fill="#fdd227"/><path d="M512.97 223.55C513.13 223.52 513.47 223.50 513.69 223.55C513.92 223.61 514.11 223.72 514.32 223.88C514.53 224.03 514.77 224.30 514.95 224.51C515.13 224.72 515.38 224.94 515.40 225.14C515.43 225.33 515.27 225.52 515.11 225.69C514.96 225.87 514.71 226.02 514.48 226.18C514.26 226.34 513.97 226.54 513.76 226.65C513.56 226.75 513.43 226.83 513.28 226.81C513.13 226.79 513.00 226.69 512.88 226.50C512.77 226.32 512.66 225.96 512.59 225.69C512.53 225.43 512.49 225.17 512.49 224.90C512.48 224.64 512.54 224.31 512.58 224.11C512.62 223.91 512.65 223.81 512.72 223.71C512.79 223.62 512.81 223.58 512.97 223.55Z" fill="#ffbc2d"/></g>
</g>
<path d="M509.20 216.50C510.10 216.35 511.95 216.20 513.20 216.50C514.45 216.80 515.53 217.42 516.70 218.30C517.87 219.18 519.20 220.63 520.20 221.80C521.20 222.97 522.55 224.20 522.70 225.30C522.85 226.40 521.95 227.43 521.10 228.40C520.25 229.37 518.85 230.22 517.60 231.10C516.35 231.98 514.72 233.12 513.60 233.70C512.48 234.28 511.72 234.73 510.90 234.60C510.08 234.47 509.33 233.93 508.70 232.90C508.07 231.87 507.47 229.88 507.10 228.40C506.73 226.92 506.52 225.47 506.50 224.00C506.48 222.53 506.78 220.70 507.00 219.60C507.22 218.50 507.43 217.92 507.80 217.40C508.17 216.88 508.30 216.65 509.20 216.50Z" fill="none" stroke="#e01e30" stroke-width="1.25"/>
<rect x="499.6" y="200.9" width="60.8" height="63.6" fill="none" stroke="#231f20" stroke-width="1"/>
<text x="506.4" y="276.8" font-size="9.65" text-anchor="middle" fill="#231f20">1.5</text>
<text x="533.4" y="276.8" font-size="9.65" text-anchor="middle" fill="#231f20">2.5</text>
<text x="560.4" y="276.8" font-size="9.65" text-anchor="middle" fill="#231f20">3.5</text>
<text x="495.2" y="215.2" font-size="9.65" text-anchor="end" fill="#231f20">0.8</text>
<text x="495.2" y="236.4" font-size="9.65" text-anchor="end" fill="#231f20">0.7</text>
<text x="495.2" y="257.6" font-size="9.65" text-anchor="end" fill="#231f20">0.6</text>
<path d="M506.36 264.50v-1.3M506.36 200.90v1.3M533.38 264.50v-1.3M533.38 200.90v1.3M499.60 211.50h1.3M560.40 211.50h-1.3M499.60 232.70h1.3M560.40 232.70h-1.3M499.60 253.90h1.3M560.40 253.90h-1.3" stroke="#231f20" stroke-width="0.8" fill="none"/>
</g>
<g>
<clipPath id="cp26"><rect x="589.6" y="200.9" width="60.8" height="63.6"/></clipPath>
<g clip-path="url(#cp26)">
<path d="M627.60 226.90C627.60 229.23 626.79 231.88 625.46 233.90C624.12 235.92 621.91 237.86 619.60 239.02C617.29 240.19 614.27 240.90 611.60 240.90C608.93 240.90 605.91 240.19 603.60 239.02C601.29 237.86 599.08 235.92 597.74 233.90C596.41 231.88 595.60 229.23 595.60 226.90C595.60 224.57 596.41 221.92 597.74 219.90C599.08 217.88 601.29 215.94 603.60 214.78C605.91 213.61 608.93 212.90 611.60 212.90C614.27 212.90 617.29 213.61 619.60 214.78C621.91 215.94 624.12 217.88 625.46 219.90C626.79 221.92 627.60 224.57 627.60 226.90Z" fill="#b8bcff" fill-opacity="0.28" filter="url(#sp)"/>
<path d="M596.96 203.26C598.06 203.86 599.46 205.46 601.16 206.86C602.86 208.26 605.16 209.86 607.16 211.66C609.16 213.46 611.06 215.46 613.16 217.66C615.26 219.86 619.56 222.66 619.76 224.86C619.96 227.06 616.26 228.86 614.36 230.86C612.46 232.86 610.36 234.86 608.36 236.86C606.36 238.86 604.16 241.06 602.36 242.86C600.56 244.66 598.90 247.86 597.56 247.66C596.22 247.46 595.12 244.26 594.32 241.66C593.52 239.06 593.06 235.66 592.76 232.06C592.46 228.46 592.48 223.86 592.52 220.06C592.56 216.26 592.66 212.06 593.00 209.26C593.34 206.46 593.90 204.26 594.56 203.26C595.22 202.26 595.86 202.66 596.96 203.26Z" fill="#a9adff" fill-opacity="0.40" filter="url(#bl2)"/><path d="M597.70 205.63C598.68 206.16 599.93 207.59 601.45 208.84C602.96 210.08 605.01 211.51 606.80 213.12C608.58 214.72 610.27 216.50 612.15 218.47C614.02 220.43 617.85 222.92 618.03 224.89C618.21 226.85 614.91 228.45 613.22 230.24C611.52 232.02 609.65 233.80 607.87 235.59C606.08 237.37 604.12 239.33 602.52 240.94C600.91 242.54 599.43 245.39 598.24 245.22C597.04 245.04 596.06 242.18 595.35 239.87C594.63 237.55 594.22 234.52 593.96 231.31C593.69 228.10 593.71 223.99 593.74 220.61C593.78 217.22 593.87 213.47 594.17 210.98C594.47 208.48 594.97 206.52 595.56 205.63C596.15 204.73 596.72 205.09 597.70 205.63Z" fill="#8c94ff" fill-opacity="0.60" filter="url(#ro2)"/><g filter="url(#ro)" opacity="1.00"><clipPath id="k20"><path d="M598.39 207.81C599.26 208.28 600.36 209.55 601.71 210.66C603.06 211.77 604.88 213.03 606.46 214.46C608.04 215.89 609.55 217.47 611.21 219.21C612.87 220.95 616.28 223.17 616.44 224.91C616.59 226.65 613.66 228.08 612.16 229.66C610.66 231.24 608.99 232.83 607.41 234.41C605.83 235.99 604.09 237.74 602.66 239.16C601.24 240.58 599.92 243.12 598.86 242.96C597.80 242.80 596.93 240.27 596.30 238.21C595.66 236.15 595.30 233.46 595.06 230.61C594.82 227.76 594.84 224.12 594.87 221.11C594.90 218.10 594.98 214.78 595.25 212.56C595.52 210.34 595.96 208.60 596.49 207.81C597.01 207.02 597.51 207.34 598.39 207.81Z"/></clipPath><path d="M598.39 207.81C599.26 208.28 600.36 209.55 601.71 210.66C603.06 211.77 604.88 213.03 606.46 214.46C608.04 215.89 609.55 217.47 611.21 219.21C612.87 220.95 616.28 223.17 616.44 224.91C616.59 226.65 613.66 228.08 612.16 229.66C610.66 231.24 608.99 232.83 607.41 234.41C605.83 235.99 604.09 237.74 602.66 239.16C601.24 240.58 599.92 243.12 598.86 242.96C597.80 242.80 596.93 240.27 596.30 238.21C595.66 236.15 595.30 233.46 595.06 230.61C594.82 227.76 594.84 224.12 594.87 221.11C594.90 218.10 594.98 214.78 595.25 212.56C595.52 210.34 595.96 208.60 596.49 207.81C597.01 207.02 597.51 207.34 598.39 207.81Z" fill="#5062ff"/><g clip-path="url(#k20)"><path d="M596.99 212.37C598.32 212.15 601.06 211.93 602.91 212.37C604.76 212.82 606.37 213.73 608.09 215.04C609.82 216.34 611.79 218.49 613.27 220.22C614.75 221.94 616.75 223.77 616.97 225.40C617.19 227.02 615.86 228.55 614.60 229.98C613.35 231.41 611.27 232.67 609.42 233.98C607.57 235.29 605.16 236.96 603.50 237.83C601.85 238.69 600.72 239.36 599.51 239.16C598.30 238.96 597.19 238.17 596.25 236.64C595.31 235.11 594.43 232.18 593.88 229.98C593.34 227.79 593.02 225.64 593.00 223.47C592.97 221.30 593.42 218.59 593.74 216.96C594.06 215.33 594.38 214.47 594.92 213.70C595.46 212.94 595.66 212.59 596.99 212.37Z" fill="#4672fb"/><path d="M597.91 214.09C599.06 213.90 601.43 213.71 603.03 214.09C604.63 214.48 606.02 215.27 607.51 216.40C609.01 217.53 610.71 219.38 611.99 220.88C613.27 222.37 615.00 223.95 615.19 225.36C615.38 226.76 614.23 228.09 613.14 229.32C612.06 230.56 610.26 231.65 608.66 232.78C607.06 233.91 604.97 235.36 603.54 236.11C602.11 236.85 601.13 237.43 600.09 237.26C599.04 237.09 598.08 236.41 597.27 235.08C596.46 233.76 595.69 231.22 595.22 229.32C594.75 227.43 594.48 225.57 594.46 223.69C594.43 221.81 594.82 219.47 595.10 218.06C595.37 216.65 595.65 215.91 596.12 215.24C596.59 214.58 596.76 214.28 597.91 214.09Z" fill="#3a88f4"/><path d="M598.65 215.47C599.66 215.30 601.73 215.13 603.13 215.47C604.53 215.80 605.74 216.49 607.05 217.48C608.35 218.47 609.85 220.10 610.97 221.40C612.09 222.71 613.60 224.09 613.77 225.32C613.94 226.56 612.93 227.71 611.98 228.80C611.02 229.88 609.46 230.83 608.06 231.82C606.66 232.81 604.83 234.08 603.58 234.73C602.33 235.39 601.47 235.89 600.55 235.74C599.64 235.59 598.80 234.99 598.09 233.84C597.38 232.68 596.71 230.46 596.30 228.80C595.89 227.13 595.64 225.51 595.62 223.87C595.61 222.23 595.94 220.17 596.18 218.94C596.43 217.71 596.67 217.05 597.08 216.48C597.49 215.90 597.64 215.64 598.65 215.47Z" fill="#2d9ce8"/></g><path d="M599.29 216.67C600.17 216.53 601.99 216.38 603.21 216.67C604.44 216.97 605.50 217.57 606.64 218.44C607.79 219.30 609.09 220.72 610.07 221.87C611.05 223.01 612.38 224.22 612.52 225.30C612.67 226.37 611.79 227.39 610.95 228.33C610.12 229.28 608.75 230.11 607.52 230.98C606.30 231.85 604.70 232.96 603.60 233.53C602.51 234.10 601.76 234.54 600.96 234.41C600.16 234.28 599.42 233.76 598.80 232.74C598.18 231.73 597.59 229.79 597.23 228.33C596.87 226.88 596.66 225.46 596.65 224.02C596.63 222.58 596.92 220.79 597.14 219.71C597.35 218.63 597.56 218.06 597.92 217.55C598.28 217.05 598.41 216.82 599.29 216.67Z" fill="#24acd4"/><path d="M599.75 217.53C600.54 217.40 602.17 217.27 603.27 217.53C604.37 217.80 605.33 218.34 606.35 219.12C607.38 219.89 608.55 221.17 609.43 222.20C610.31 223.22 611.50 224.31 611.63 225.28C611.76 226.24 610.97 227.15 610.22 228.00C609.48 228.85 608.24 229.60 607.14 230.38C606.04 231.16 604.61 232.15 603.62 232.67C602.64 233.18 601.97 233.58 601.25 233.46C600.53 233.34 599.87 232.87 599.31 231.96C598.75 231.05 598.23 229.31 597.90 228.00C597.58 226.70 597.39 225.42 597.38 224.13C597.36 222.84 597.63 221.23 597.82 220.26C598.01 219.29 598.20 218.78 598.52 218.32C598.84 217.87 598.96 217.66 599.75 217.53Z" fill="#25bcb0"/><path d="M600.26 218.48C600.95 218.36 602.38 218.25 603.34 218.48C604.30 218.71 605.13 219.18 606.03 219.86C606.93 220.54 607.96 221.66 608.73 222.56C609.50 223.46 610.54 224.41 610.65 225.25C610.77 226.10 610.08 226.90 609.42 227.64C608.77 228.39 607.69 229.04 606.73 229.72C605.76 230.40 604.51 231.27 603.65 231.72C602.79 232.17 602.20 232.52 601.57 232.41C600.94 232.31 600.36 231.90 599.87 231.11C599.39 230.31 598.92 228.78 598.64 227.64C598.36 226.50 598.19 225.38 598.18 224.25C598.17 223.12 598.40 221.71 598.56 220.86C598.73 220.02 598.90 219.57 599.18 219.17C599.46 218.77 599.57 218.59 600.26 218.48Z" fill="#52c688"/><path d="M600.95 219.77C601.51 219.68 602.65 219.58 603.43 219.77C604.20 219.95 604.87 220.34 605.60 220.88C606.32 221.43 607.15 222.33 607.77 223.05C608.39 223.78 609.23 224.54 609.32 225.22C609.41 225.91 608.85 226.55 608.33 227.15C607.80 227.75 606.93 228.27 606.16 228.82C605.38 229.37 604.37 230.07 603.68 230.43C602.98 230.79 602.51 231.07 602.00 230.99C601.50 230.91 601.03 230.58 600.64 229.94C600.25 229.30 599.87 228.07 599.65 227.15C599.42 226.23 599.28 225.33 599.27 224.42C599.26 223.51 599.45 222.37 599.58 221.69C599.72 221.01 599.85 220.65 600.08 220.33C600.31 220.01 600.39 219.86 600.95 219.77Z" fill="#a5cf48"/><path d="M601.50 220.80C601.95 220.72 602.88 220.65 603.50 220.80C604.13 220.95 604.67 221.26 605.25 221.70C605.83 222.14 606.50 222.87 607.00 223.45C607.50 224.03 608.18 224.65 608.25 225.20C608.33 225.75 607.88 226.27 607.45 226.75C607.03 227.23 606.33 227.66 605.70 228.10C605.08 228.54 604.26 229.11 603.70 229.40C603.14 229.69 602.76 229.92 602.35 229.85C601.94 229.78 601.57 229.52 601.25 229.00C600.93 228.48 600.63 227.49 600.45 226.75C600.27 226.01 600.16 225.28 600.15 224.55C600.14 223.82 600.29 222.90 600.40 222.35C600.51 221.80 600.62 221.51 600.80 221.25C600.98 220.99 601.05 220.88 601.50 220.80Z" fill="#ecd42a"/><path d="M602.05 221.83C602.39 221.77 603.10 221.72 603.57 221.83C604.05 221.95 604.46 222.18 604.90 222.52C605.35 222.85 605.85 223.40 606.23 223.85C606.61 224.29 607.12 224.76 607.18 225.18C607.24 225.59 606.90 225.99 606.57 226.35C606.25 226.72 605.72 227.04 605.24 227.38C604.77 227.72 604.15 228.15 603.72 228.37C603.30 228.59 603.01 228.76 602.70 228.71C602.39 228.66 602.10 228.46 601.86 228.06C601.62 227.67 601.39 226.92 601.25 226.35C601.11 225.79 601.03 225.24 601.03 224.68C601.02 224.12 601.13 223.43 601.22 223.01C601.30 222.59 601.38 222.37 601.52 222.17C601.66 221.98 601.71 221.89 602.05 221.83Z" fill="#fdd227"/><path d="M602.97 223.55C603.13 223.52 603.47 223.50 603.69 223.55C603.92 223.61 604.11 223.72 604.32 223.88C604.53 224.03 604.77 224.30 604.95 224.51C605.13 224.72 605.38 224.94 605.40 225.14C605.43 225.33 605.27 225.52 605.11 225.69C604.96 225.87 604.71 226.02 604.48 226.18C604.26 226.34 603.97 226.54 603.76 226.65C603.56 226.75 603.43 226.83 603.28 226.81C603.13 226.79 603.00 226.69 602.88 226.50C602.77 226.32 602.66 225.96 602.59 225.69C602.53 225.43 602.49 225.17 602.49 224.90C602.48 224.64 602.54 224.31 602.58 224.11C602.62 223.91 602.65 223.81 602.72 223.71C602.79 223.62 602.81 223.58 602.97 223.55Z" fill="#ffbc2d"/></g>
</g>
<path d="M599.20 216.50C600.10 216.35 601.95 216.20 603.20 216.50C604.45 216.80 605.53 217.42 606.70 218.30C607.87 219.18 609.20 220.63 610.20 221.80C611.20 222.97 612.55 224.20 612.70 225.30C612.85 226.40 611.95 227.43 611.10 228.40C610.25 229.37 608.85 230.22 607.60 231.10C606.35 231.98 604.72 233.12 603.60 233.70C602.48 234.28 601.72 234.73 600.90 234.60C600.08 234.47 599.33 233.93 598.70 232.90C598.07 231.87 597.47 229.88 597.10 228.40C596.73 226.92 596.52 225.47 596.50 224.00C596.48 222.53 596.78 220.70 597.00 219.60C597.22 218.50 597.43 217.92 597.80 217.40C598.17 216.88 598.30 216.65 599.20 216.50Z" fill="none" stroke="#e01e30" stroke-width="1.25"/>
<rect x="589.6" y="200.9" width="60.8" height="63.6" fill="none" stroke="#231f20" stroke-width="1"/>
<text x="596.4" y="276.8" font-size="9.65" text-anchor="middle" fill="#231f20">1.5</text>
<text x="623.4" y="276.8" font-size="9.65" text-anchor="middle" fill="#231f20">2.5</text>
<text x="650.4" y="276.8" font-size="9.65" text-anchor="middle" fill="#231f20">3.5</text>
<text x="585.2" y="215.2" font-size="9.65" text-anchor="end" fill="#231f20">0.8</text>
<text x="585.2" y="236.4" font-size="9.65" text-anchor="end" fill="#231f20">0.7</text>
<text x="585.2" y="257.6" font-size="9.65" text-anchor="end" fill="#231f20">0.6</text>
<path d="M596.36 264.50v-1.3M596.36 200.90v1.3M623.38 264.50v-1.3M623.38 200.90v1.3M589.60 211.50h1.3M650.40 211.50h-1.3M589.60 232.70h1.3M650.40 232.70h-1.3M589.60 253.90h1.3M650.40 253.90h-1.3" stroke="#231f20" stroke-width="0.8" fill="none"/>
</g>
<text x="654.3" y="236.3" font-size="11.15" fill="#231f20">K14</text>
<text transform="translate(8.7,143.2) rotate(-90)" font-size="11.15" text-anchor="middle" fill="#231f20">Electrical opacity</text>
<text transform="translate(23,143.2) rotate(-90)" font-size="11.15" text-anchor="middle" fill="#231f20">(|Z|<tspan font-size="8.1" dy="2.3">40 MHz</tspan><tspan dy="-2.3">/|Z|</tspan><tspan font-size="8.1" dy="2.3">5 MHz</tspan><tspan dy="-2.3">)</tspan></text>
<text x="351" y="294.7" font-size="11.3" text-anchor="middle" fill="#231f20">Electrical diameter (|Z<tspan font-size="8.1" dy="2.3">5 MHz</tspan><tspan dy="-2.3">|</tspan><tspan font-size="8.1" dy="-4.6">1/3</tspan><tspan dy="4.6">)</tspan></text>
<polyline points="107.77,443.49 143.34,486.85 178.90,505.24 214.47,506.56 250.04,503.93 285.60,499.99" fill="none" stroke="#44b9ea" stroke-width="1.25" stroke-linejoin="round"/>
<path d="M107.77 430.35V456.63M106.17 430.35h3.2M106.17 456.63h3.2M143.34 473.71V497.36M141.74 473.71h3.2M141.74 497.36h3.2M178.90 499.99V509.19M177.30 499.99h3.2M177.30 509.19h3.2M214.47 502.62V510.50M212.87 502.62h3.2M212.87 510.50h3.2M250.04 501.30V506.56M248.44 501.30h3.2M248.44 506.56h3.2M285.60 497.36V503.93M284.00 497.36h3.2M284.00 503.93h3.2" fill="none" stroke="#44b9ea" stroke-width="1.25"/>
<polyline points="111.33,457.94 146.89,492.10 182.46,506.56 218.03,507.87 253.59,505.24 289.16,501.30" fill="none" stroke="#44b9ea" stroke-width="1.25" stroke-linejoin="round"/>
<path d="M111.33 452.68V463.20M109.73 452.68h3.2M109.73 463.20h3.2M146.89 488.16V496.05M145.29 488.16h3.2M145.29 496.05h3.2M182.46 505.51V507.61M180.86 505.51h3.2M180.86 507.61h3.2M218.03 506.95V508.79M216.43 506.95h3.2M216.43 508.79h3.2M253.59 503.93V506.56M251.99 503.93h3.2M251.99 506.56h3.2M289.16 499.33V503.27M287.56 499.33h3.2M287.56 503.27h3.2" fill="none" stroke="#44b9ea" stroke-width="1.25"/>
<polyline points="114.88,472.39 150.45,507.87 186.02,509.19 221.58,509.19 257.15,505.24 292.72,498.67" fill="none" stroke="#44b9ea" stroke-width="1.25" stroke-linejoin="round"/>
<path d="M114.88 455.31V490.79M113.28 455.31h3.2M113.28 490.79h3.2M150.45 505.24V509.84M148.85 505.24h3.2M148.85 509.84h3.2M186.02 508.53V509.84M184.42 508.53h3.2M184.42 509.84h3.2M221.58 508.53V509.84M219.98 508.53h3.2M219.98 509.84h3.2M257.15 502.62V507.87M255.55 502.62h3.2M255.55 507.87h3.2M292.72 492.10V505.24M291.12 492.10h3.2M291.12 505.24h3.2" fill="none" stroke="#44b9ea" stroke-width="1.25"/>
<polyline points="118.44,478.96 154.01,506.56 189.57,509.19 225.14,509.19 260.71,502.62 296.27,496.05" fill="none" stroke="#44b9ea" stroke-width="1.25" stroke-linejoin="round"/>
<path d="M118.44 471.08V489.48M116.84 471.08h3.2M116.84 489.48h3.2M154.01 504.59V508.53M152.41 504.59h3.2M152.41 508.53h3.2M189.57 508.53V509.84M187.97 508.53h3.2M187.97 509.84h3.2M225.14 508.53V509.84M223.54 508.53h3.2M223.54 509.84h3.2M260.71 497.36V506.56M259.11 497.36h3.2M259.11 506.56h3.2M296.27 488.16V501.30M294.67 488.16h3.2M294.67 501.30h3.2" fill="none" stroke="#44b9ea" stroke-width="1.25"/>
<polyline points="122.00,486.85 157.56,507.87 193.13,509.19 228.70,507.87 264.26,501.30 299.83,492.10" fill="none" stroke="#44b9ea" stroke-width="1.25" stroke-linejoin="round"/>
<path d="M122.00 469.77V503.93M120.40 469.77h3.2M120.40 503.93h3.2M157.56 506.56V509.19M155.96 506.56h3.2M155.96 509.19h3.2M193.13 508.53V509.84M191.53 508.53h3.2M191.53 509.84h3.2M228.70 506.82V508.92M227.10 506.82h3.2M227.10 508.92h3.2M264.26 496.05V506.56M262.66 496.05h3.2M262.66 506.56h3.2M299.83 485.53V498.67M298.23 485.53h3.2M298.23 498.67h3.2" fill="none" stroke="#44b9ea" stroke-width="1.25"/>
<polyline points="114.88,375.16 150.45,359.39 186.02,350.19 221.58,383.04 257.15,488.16 292.72,496.05" fill="none" stroke="#f2b233" stroke-width="1.25" stroke-linejoin="round"/>
<path d="M114.88 362.54V387.25M113.28 362.54h3.2M113.28 387.25h3.2M150.45 351.51V367.27M148.85 351.51h3.2M148.85 367.27h3.2M186.02 338.37V362.02M184.42 338.37h3.2M184.42 362.02h3.2M221.58 375.16V388.30M219.98 375.16h3.2M219.98 388.30h3.2M257.15 473.71V502.62M255.55 473.71h3.2M255.55 502.62h3.2M292.72 494.07V498.67M291.12 494.07h3.2M291.12 498.67h3.2" fill="none" stroke="#f2b233" stroke-width="1.25"/>
<polyline points="114.88,375.16 150.45,379.10 186.02,379.10 221.58,414.58 257.15,491.45 292.72,501.30" fill="none" stroke="#f2b233" stroke-width="1.25" stroke-linejoin="round"/>
<path d="M114.88 371.35V377.52M113.28 371.35h3.2M113.28 377.52h3.2M150.45 375.16V383.04M148.85 375.16h3.2M148.85 383.04h3.2M186.02 376.47V381.73M184.42 376.47h3.2M184.42 381.73h3.2M221.58 392.24V436.92M219.98 392.24h3.2M219.98 436.92h3.2M257.15 484.22V502.62M255.55 484.22h3.2M255.55 502.62h3.2M292.72 499.99V502.62M291.12 499.99h3.2M291.12 502.62h3.2" fill="none" stroke="#f2b233" stroke-width="1.25"/>
<polyline points="114.88,384.36 150.45,387.64 186.02,386.98 221.58,386.33 257.15,389.61 292.72,386.33" fill="none" stroke="#a71d3c" stroke-width="1.25" stroke-linejoin="round"/>
<path d="M114.88 379.10V389.61M113.28 379.10h3.2M113.28 389.61h3.2M150.45 385.01V390.93M148.85 385.01h3.2M148.85 390.93h3.2M186.02 384.36V390.93M184.42 384.36h3.2M184.42 390.93h3.2M221.58 383.04V389.61M219.98 383.04h3.2M219.98 389.61h3.2M257.15 385.67V393.55M255.55 385.67h3.2M255.55 393.55h3.2M292.72 381.73V390.93M291.12 381.73h3.2M291.12 390.93h3.2" fill="none" stroke="#a71d3c" stroke-width="1.25"/>
<polyline points="122.00,382.38 157.56,378.44 193.13,369.90 228.70,366.62 264.26,375.82 299.83,411.95" fill="none" stroke="#a71d3c" stroke-width="1.25" stroke-linejoin="round"/>
<path d="M122.00 380.41V384.36M120.40 380.41h3.2M120.40 384.36h3.2M157.56 373.84V383.04M155.96 373.84h3.2M155.96 383.04h3.2M193.13 363.33V375.16M191.53 363.33h3.2M191.53 375.16h3.2M228.70 360.70V371.22M227.10 360.70h3.2M227.10 371.22h3.2M264.26 368.59V384.36M262.66 368.59h3.2M262.66 384.36h3.2M299.83 401.44V423.78M298.23 401.44h3.2M298.23 423.78h3.2" fill="none" stroke="#a71d3c" stroke-width="1.25"/>
<polyline points="114.88,362.68 150.45,363.99 186.02,355.45 221.58,353.48 257.15,367.27 292.72,358.73" fill="none" stroke="#a71d3c" stroke-width="1.25" stroke-linejoin="round"/>
<path d="M114.88 355.45V369.90M113.28 355.45h3.2M113.28 369.90h3.2M150.45 355.45V372.53M148.85 355.45h3.2M148.85 372.53h3.2M186.02 354.13V356.76M184.42 354.13h3.2M184.42 356.76h3.2M221.58 338.37V367.80M219.98 338.37h3.2M219.98 367.80h3.2M257.15 340.99V393.55M255.55 340.99h3.2M255.55 393.55h3.2M292.72 351.51V365.43M291.12 351.51h3.2M291.12 365.43h3.2" fill="none" stroke="#a71d3c" stroke-width="1.25"/>
<rect x="97.1" y="327.0" width="213.4" height="183.5" fill="none" stroke="#231f20" stroke-width="1"/>
<text transform="translate(118.7,516.7) rotate(-90)" font-size="11.15" text-anchor="end" fill="#231f20">0.25 mg/L</text>
<text transform="translate(154.2,516.7) rotate(-90)" font-size="11.15" text-anchor="end" fill="#231f20">0.5 mg/L</text>
<text transform="translate(189.8,516.7) rotate(-90)" font-size="11.15" text-anchor="end" fill="#231f20">1 mg/L</text>
<text transform="translate(225.4,516.7) rotate(-90)" font-size="11.15" text-anchor="end" fill="#231f20">2 mg/L</text>
<text transform="translate(260.9,516.7) rotate(-90)" font-size="11.15" text-anchor="end" fill="#231f20">4 mg/L</text>
<text transform="translate(296.5,516.7) rotate(-90)" font-size="11.15" text-anchor="end" fill="#231f20">8 mg/L</text>
<text x="92.5" y="514.2" font-size="11.15" text-anchor="end" fill="#231f20">0</text>
<text x="92.5" y="448.5" font-size="11.15" text-anchor="end" fill="#231f20">50</text>
<text x="92.5" y="382.8" font-size="11.15" text-anchor="end" fill="#231f20">100</text>
<path d="M114.88 510.50v-2.5M114.88 327.00v2.5M150.45 510.50v-2.5M150.45 327.00v2.5M186.02 510.50v-2.5M186.02 327.00v2.5M221.58 510.50v-2.5M221.58 327.00v2.5M257.15 510.50v-2.5M257.15 327.00v2.5M292.72 510.50v-2.5M292.72 327.00v2.5M97.10 444.80h2.5M310.50 444.80h-2.5M97.10 379.10h2.5M310.50 379.10h-2.5" stroke="#231f20" stroke-width="0.8" fill="none"/>
<text transform="translate(64,418.5) rotate(-90)" font-size="11.15" text-anchor="middle" fill="#231f20">Cells in control gate (%)</text>
<path d="M330.6 386.9H351" stroke="#a71d3c" stroke-width="2.4"/>
<text x="355" y="390.6" font-size="11.15" fill="#a71d3c" style="stroke:#a71d3c;stroke-width:0.12px">MIC by BMD = 128 mg/L</text>
<path d="M330.6 409.4H351" stroke="#f2b233" stroke-width="2.4"/>
<text x="355" y="413.1" font-size="11.15" fill="#f2b233" style="stroke:#f2b233;stroke-width:0.12px">MIC by BMD = 8 mg/L</text>
<path d="M330.6 431.9H351" stroke="#44b9ea" stroke-width="2.4"/>
<text x="355" y="435.6" font-size="11.15" fill="#44b9ea" style="stroke:#44b9ea;stroke-width:0.12px">MIC by BMD &lt; 0.25 mg/L</text>
</svg>
</body></html>
